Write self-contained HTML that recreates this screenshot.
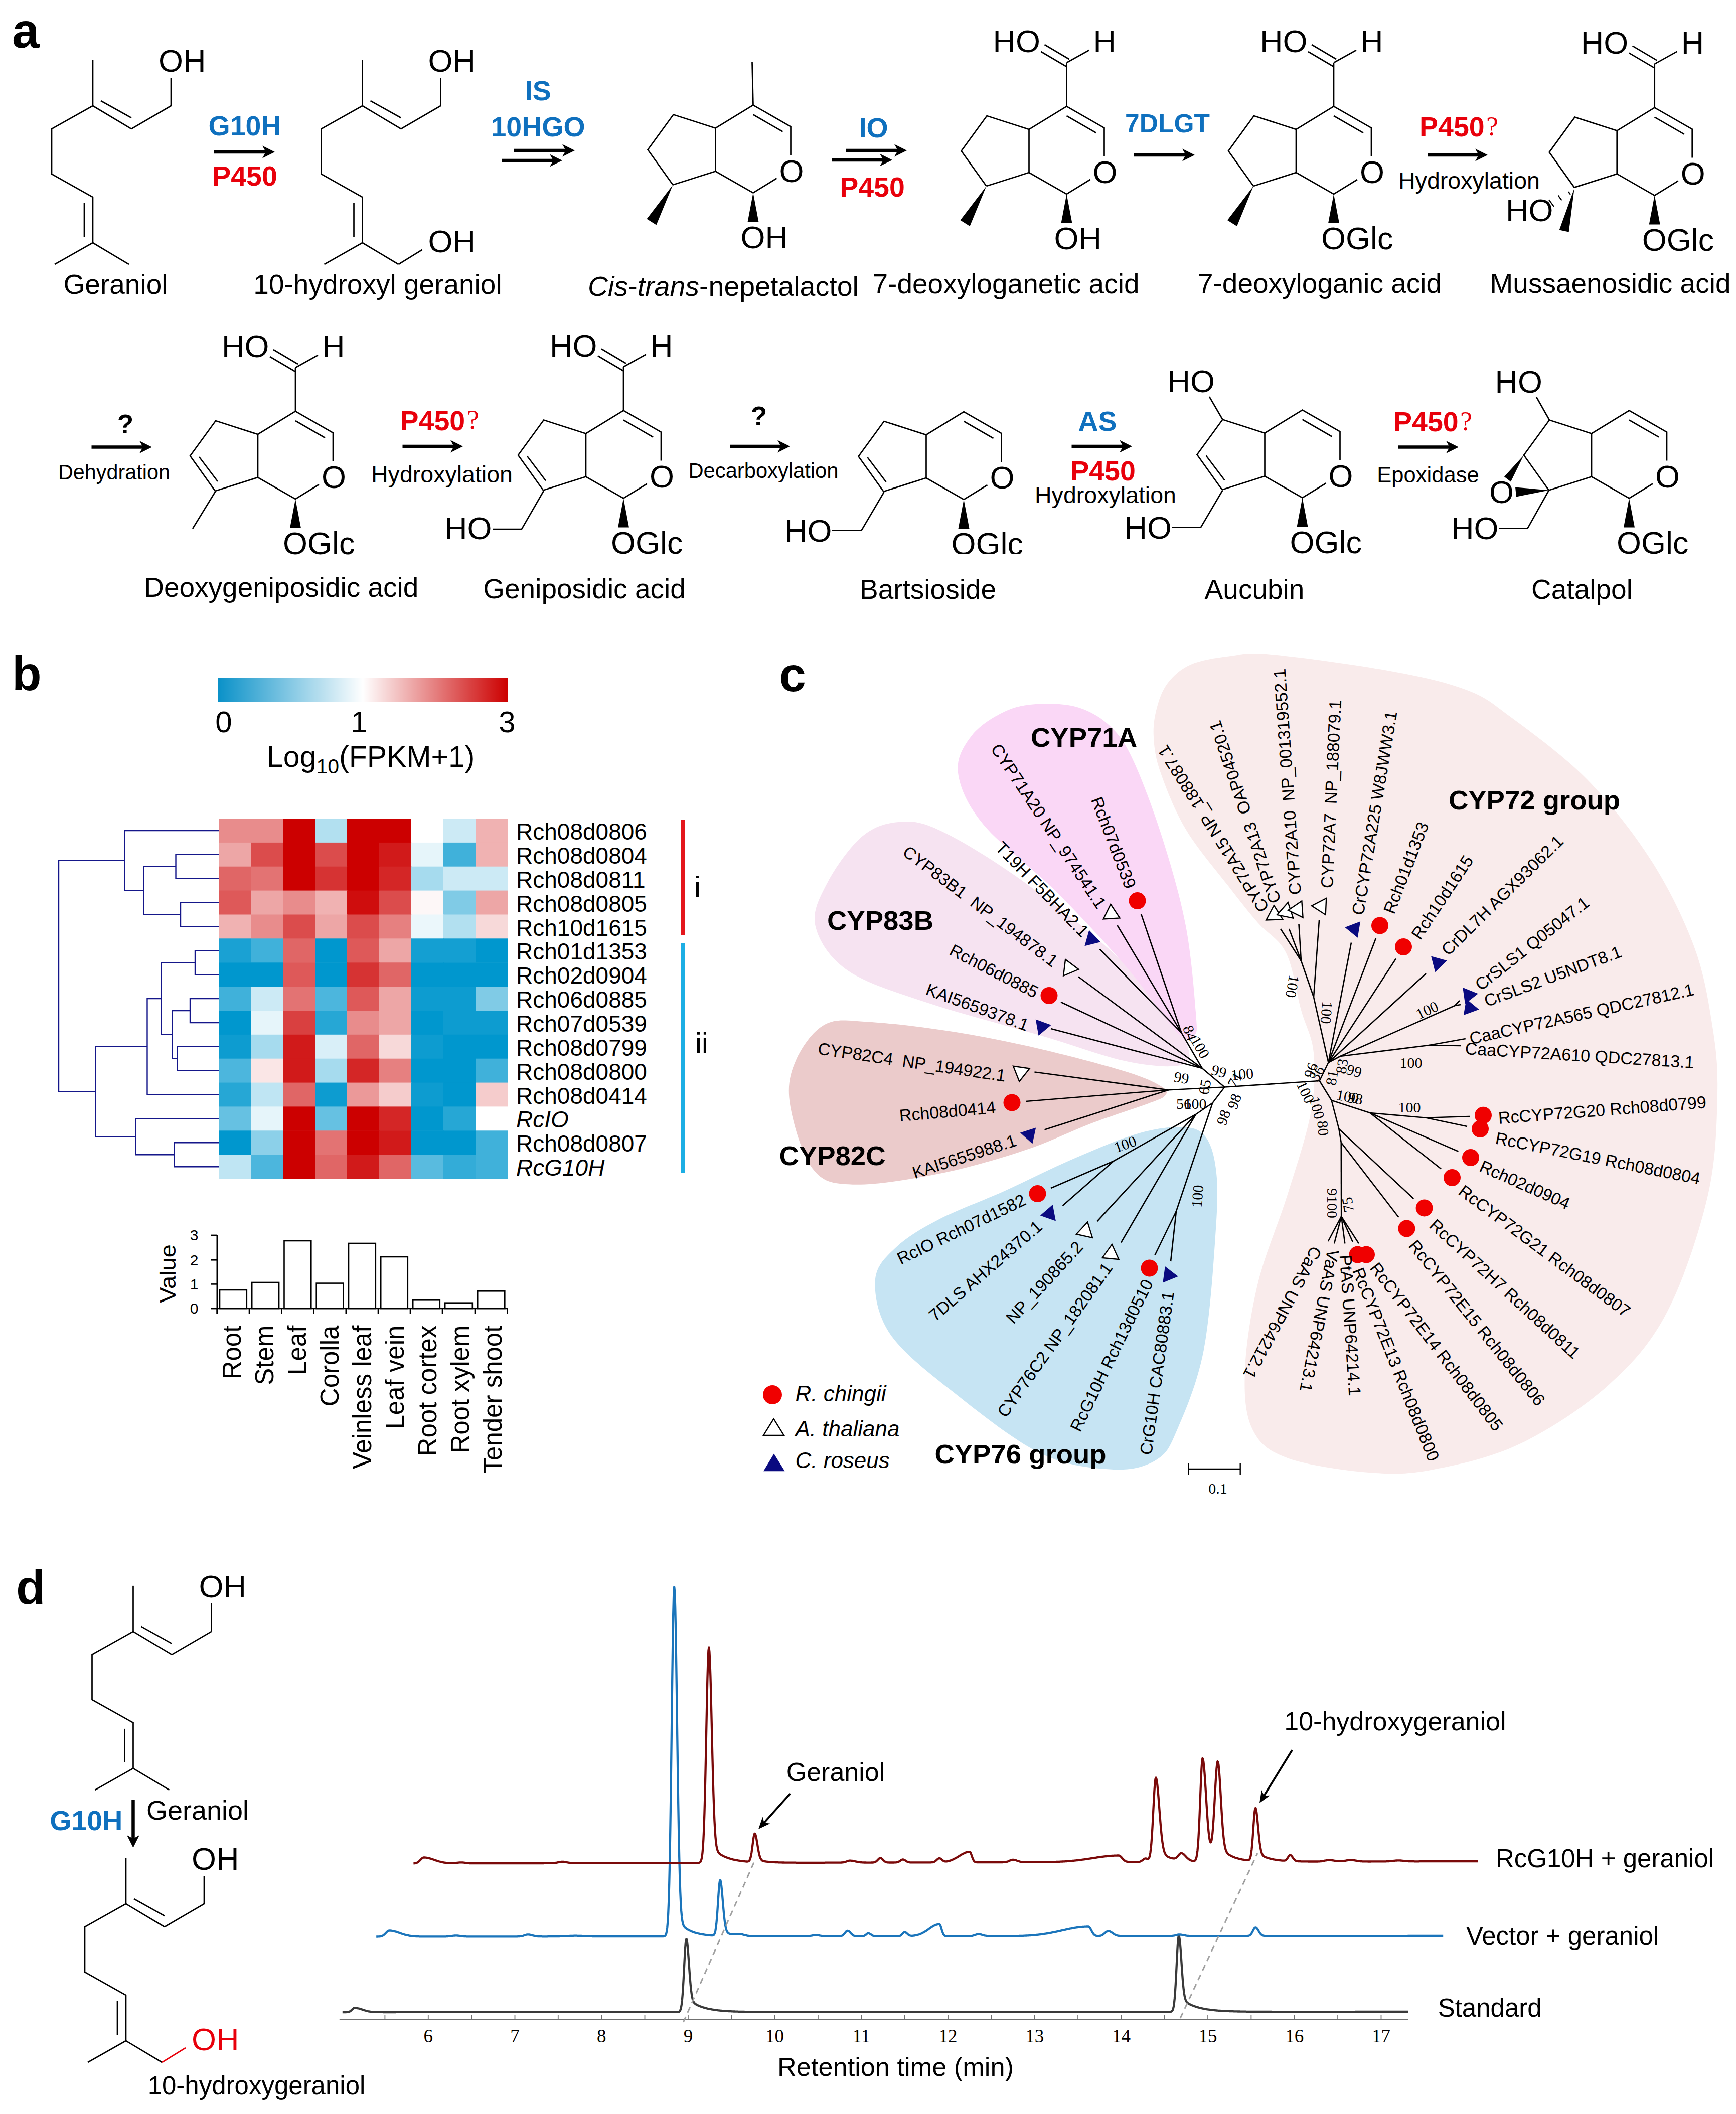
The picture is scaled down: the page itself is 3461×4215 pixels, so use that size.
<!DOCTYPE html>
<html><head><meta charset="utf-8"><title>figure</title>
<style>html,body{margin:0;padding:0;background:#fff;width:3461px;height:4215px;overflow:hidden}
svg{display:block;font-family:"Liberation Sans", sans-serif;-webkit-font-smoothing:antialiased}</style></head>
<body><svg width="3461" height="4215" viewBox="0 0 3461 4215">
<rect width="3461" height="4215" fill="#fff"/>
<text x="24" y="95" font-size="98" font-weight="bold">a</text>
<line x1="185" y1="120" x2="185" y2="211" stroke="#000" stroke-width="2.7"/>
<line x1="185" y1="211" x2="262" y2="257" stroke="#000" stroke-width="2.7"/>
<line x1="201" y1="201" x2="262" y2="235" stroke="#000" stroke-width="2.7"/>
<line x1="262" y1="257" x2="341" y2="211" stroke="#000" stroke-width="2.7"/>
<line x1="341" y1="211" x2="341" y2="155" stroke="#000" stroke-width="2.7"/>
<text x="316" y="143" font-size="63">OH</text>
<polyline points="185,211 103,257 103,347 185,393 185,484" fill="none" stroke="#000" stroke-width="2.7" stroke-linejoin="miter"/>
<line x1="168" y1="405" x2="168" y2="472" stroke="#000" stroke-width="2.7"/>
<line x1="185" y1="484" x2="109" y2="527" stroke="#000" stroke-width="2.7"/>
<line x1="185" y1="484" x2="257" y2="527" stroke="#000" stroke-width="2.7"/>
<text x="230.5" y="586" font-size="55" text-anchor="middle">Geraniol</text>
<text x="488" y="270" font-size="55.5" font-weight="bold" text-anchor="middle" fill="#0F70BE">G10H</text>
<line x1="427" y1="303" x2="533" y2="303" stroke="#000" stroke-width="6.5"/>
<polygon points="548,303 523,290.5 530,303 523,315.5" fill="#000"/>
<text x="488" y="370" font-size="55.5" font-weight="bold" text-anchor="middle" fill="#E8000B">P450</text>
<line x1="722.5" y1="120" x2="722.5" y2="211" stroke="#000" stroke-width="2.7"/>
<line x1="722.5" y1="211" x2="799.5" y2="257" stroke="#000" stroke-width="2.7"/>
<line x1="738.5" y1="201" x2="799.5" y2="235" stroke="#000" stroke-width="2.7"/>
<line x1="799.5" y1="257" x2="878.5" y2="211" stroke="#000" stroke-width="2.7"/>
<line x1="878.5" y1="211" x2="878.5" y2="155" stroke="#000" stroke-width="2.7"/>
<text x="853.5" y="143" font-size="63">OH</text>
<polyline points="722.5,211 640.5,257 640.5,347 722.5,393 722.5,484" fill="none" stroke="#000" stroke-width="2.7" stroke-linejoin="miter"/>
<line x1="705.5" y1="405" x2="705.5" y2="472" stroke="#000" stroke-width="2.7"/>
<line x1="722.5" y1="484" x2="646.5" y2="527" stroke="#000" stroke-width="2.7"/>
<line x1="722.5" y1="484" x2="794.5" y2="527" stroke="#000" stroke-width="2.7"/>
<line x1="794.5" y1="527" x2="841.5" y2="498" stroke="#000" stroke-width="2.7"/>
<text x="853.5" y="503" font-size="63">OH</text>
<text x="753" y="586" font-size="55" text-anchor="middle">10-hydroxyl geraniol</text>
<text x="1072.5" y="200" font-size="55.5" font-weight="bold" text-anchor="middle" fill="#0F70BE">IS</text>
<text x="1072.5" y="272" font-size="55.5" font-weight="bold" text-anchor="middle" fill="#0F70BE">10HGO</text>
<line x1="1025" y1="300" x2="1131" y2="300" stroke="#000" stroke-width="6.5"/>
<polygon points="1146,300 1121,287.5 1128,300 1121,312.5" fill="#000"/>
<line x1="1001" y1="320" x2="1106" y2="320" stroke="#000" stroke-width="6.5"/>
<polygon points="1121,320 1096,307.5 1103,320 1096,332.5" fill="#000"/>
<polyline points="1341.5,368.5 1291.5,298.5 1342.5,228.5 1426.5,255.5 1501.5,209.5 1576.5,252.5 1576.5,309.5" fill="none" stroke="#000" stroke-width="2.7" stroke-linejoin="miter"/>
<line x1="1426.5" y1="255.5" x2="1426.5" y2="341.5" stroke="#000" stroke-width="2.7"/>
<polyline points="1341.5,368.5 1426.5,341.5 1501.5,384.5 1548.5,355.5" fill="none" stroke="#000" stroke-width="2.7" stroke-linejoin="miter"/>
<line x1="1501.5" y1="228.5" x2="1560.5" y2="262.5" stroke="#000" stroke-width="2.7"/>
<text x="1553.5" y="362.5" font-size="63">O</text>
<line x1="1501.5" y1="209.5" x2="1499.5" y2="123.5" stroke="#000" stroke-width="2.7"/>
<polygon points="1501.5,384.5 1490.5,442.5 1512.5,442.5" fill="#000"/>
<text x="1476.5" y="494.5" font-size="63">OH</text>
<polygon points="1341.5,368.5 1289.5,436.5 1308.5,448.5" fill="#000"/>
<text x="1172" y="590" font-size="55.5"><tspan font-style="italic">Cis</tspan>-<tspan font-style="italic">trans</tspan>-nepetalactol</text>
<text x="1741.5" y="274" font-size="55.5" font-weight="bold" text-anchor="middle" fill="#0F70BE">IO</text>
<line x1="1687" y1="300" x2="1793" y2="300" stroke="#000" stroke-width="6.5"/>
<polygon points="1808,300 1783,287.5 1790,300 1783,312.5" fill="#000"/>
<line x1="1658" y1="319" x2="1764" y2="319" stroke="#000" stroke-width="6.5"/>
<polygon points="1779,319 1754,306.5 1761,319 1754,331.5" fill="#000"/>
<text x="1739" y="392" font-size="55.5" font-weight="bold" text-anchor="middle" fill="#E8000B">P450</text>
<polyline points="1966.5,371 1916.5,301 1967.5,231 2051.5,258 2126.5,212 2201.5,255 2201.5,312" fill="none" stroke="#000" stroke-width="2.7" stroke-linejoin="miter"/>
<line x1="2051.5" y1="258" x2="2051.5" y2="344" stroke="#000" stroke-width="2.7"/>
<polyline points="1966.5,371 2051.5,344 2126.5,387 2173.5,358" fill="none" stroke="#000" stroke-width="2.7" stroke-linejoin="miter"/>
<line x1="2126.5" y1="231" x2="2185.5" y2="265" stroke="#000" stroke-width="2.7"/>
<text x="2178.5" y="365" font-size="63">O</text>
<line x1="2126.5" y1="212" x2="2126.5" y2="125" stroke="#000" stroke-width="2.7"/>
<line x1="2126.5" y1="125" x2="2171.5" y2="100" stroke="#000" stroke-width="2.7"/>
<line x1="2075.5" y1="103" x2="2126.5" y2="133" stroke="#000" stroke-width="2.7"/>
<line x1="2082.5" y1="89" x2="2131.5" y2="118" stroke="#000" stroke-width="2.7"/>
<text x="1979.5" y="104" font-size="63">HO</text>
<text x="2179.5" y="104" font-size="63">H</text>
<polygon points="2126.5,387 2115.5,445 2137.5,445" fill="#000"/>
<text x="2101.5" y="497" font-size="63">OH</text>
<polygon points="1966.5,371 1914.5,439 1933.5,451" fill="#000"/>
<text x="2005.5" y="585" font-size="55" text-anchor="middle">7-deoxyloganetic acid</text>
<text x="2327.5" y="263.5" font-size="51.5" font-weight="bold" text-anchor="middle" fill="#0F70BE">7DLGT</text>
<line x1="2261" y1="309" x2="2367" y2="309" stroke="#000" stroke-width="6.5"/>
<polygon points="2382,309 2357,296.5 2364,309 2357,321.5" fill="#000"/>
<polyline points="2499,371 2449,301 2500,231 2584,258 2659,212 2734,255 2734,312" fill="none" stroke="#000" stroke-width="2.7" stroke-linejoin="miter"/>
<line x1="2584" y1="258" x2="2584" y2="344" stroke="#000" stroke-width="2.7"/>
<polyline points="2499,371 2584,344 2659,387 2706,358" fill="none" stroke="#000" stroke-width="2.7" stroke-linejoin="miter"/>
<line x1="2659" y1="231" x2="2718" y2="265" stroke="#000" stroke-width="2.7"/>
<text x="2711" y="365" font-size="63">O</text>
<line x1="2659" y1="212" x2="2659" y2="125" stroke="#000" stroke-width="2.7"/>
<line x1="2659" y1="125" x2="2704" y2="100" stroke="#000" stroke-width="2.7"/>
<line x1="2608" y1="103" x2="2659" y2="133" stroke="#000" stroke-width="2.7"/>
<line x1="2615" y1="89" x2="2664" y2="118" stroke="#000" stroke-width="2.7"/>
<text x="2512" y="104" font-size="63">HO</text>
<text x="2712" y="104" font-size="63">H</text>
<polygon points="2659,387 2648,445 2670,445" fill="#000"/>
<text x="2634" y="497" font-size="63">OGlc</text>
<polygon points="2499,371 2447,439 2466,451" fill="#000"/>
<text x="2631" y="584" font-size="55" text-anchor="middle">7-deoxyloganic acid</text>
<text x="2830" y="272" font-size="55.5" font-weight="bold" fill="#E8000B">P450</text>
<text x="2963" y="270" font-size="54" font-family='"Liberation Serif", serif' fill="#E8000B">?</text>
<line x1="2846" y1="309" x2="2951" y2="309" stroke="#000" stroke-width="6.5"/>
<polygon points="2966,309 2941,296.5 2948,309 2941,321.5" fill="#000"/>
<text x="2929" y="376" font-size="46" text-anchor="middle" textLength="282" lengthAdjust="spacingAndGlyphs">Hydroxylation</text>
<polyline points="3138.7,373.6 3088.7,303.6 3139.7,233.6 3223.7,260.6 3298.7,214.6 3373.7,257.6 3373.7,314.6" fill="none" stroke="#000" stroke-width="2.7" stroke-linejoin="miter"/>
<line x1="3223.7" y1="260.6" x2="3223.7" y2="346.6" stroke="#000" stroke-width="2.7"/>
<polyline points="3138.7,373.6 3223.7,346.6 3298.7,389.6 3345.7,360.6" fill="none" stroke="#000" stroke-width="2.7" stroke-linejoin="miter"/>
<line x1="3298.7" y1="233.6" x2="3357.7" y2="267.6" stroke="#000" stroke-width="2.7"/>
<text x="3350.7" y="367.6" font-size="63">O</text>
<line x1="3298.7" y1="214.6" x2="3298.7" y2="127.6" stroke="#000" stroke-width="2.7"/>
<line x1="3298.7" y1="127.6" x2="3343.7" y2="102.6" stroke="#000" stroke-width="2.7"/>
<line x1="3247.7" y1="105.6" x2="3298.7" y2="135.6" stroke="#000" stroke-width="2.7"/>
<line x1="3254.7" y1="91.6" x2="3303.7" y2="120.6" stroke="#000" stroke-width="2.7"/>
<text x="3151.7" y="106.6" font-size="63">HO</text>
<text x="3351.7" y="106.6" font-size="63">H</text>
<polygon points="3298.7,389.6 3287.7,447.6 3309.7,447.6" fill="#000"/>
<text x="3273.7" y="499.6" font-size="63">OGlc</text>
<polygon points="3138.7,375.6 3108.7,458.6 3127.7,462.6" fill="#000"/>
<line x1="3126.9" y1="382.2" x2="3131.1" y2="387.8" stroke="#000" stroke-width="2.4"/>
<line x1="3106.5" y1="389.6" x2="3113.5" y2="399.4" stroke="#000" stroke-width="2.4"/>
<line x1="3088" y1="398.1" x2="3098" y2="411.9" stroke="#000" stroke-width="2.4"/>
<text x="3002" y="441" font-size="63">HO</text>
<text x="3210.5" y="584" font-size="55" text-anchor="middle">Mussaenosidic acid</text>
<text x="250" y="864" font-size="53" font-weight="bold" text-anchor="middle">?</text>
<line x1="182.5" y1="891.5" x2="288" y2="891.5" stroke="#000" stroke-width="6.5"/>
<polygon points="303,891.5 278,879 285,891.5 278,904" fill="#000"/>
<text x="227.5" y="956" font-size="42" text-anchor="middle" textLength="223" lengthAdjust="spacingAndGlyphs">Dehydration</text>
<polyline points="429,979 379,909 430,839 514,866 589,820 664,863 664,920" fill="none" stroke="#000" stroke-width="2.7" stroke-linejoin="miter"/>
<line x1="514" y1="866" x2="514" y2="952" stroke="#000" stroke-width="2.7"/>
<polyline points="429,979 514,952 589,995 636,966" fill="none" stroke="#000" stroke-width="2.7" stroke-linejoin="miter"/>
<line x1="589" y1="839" x2="648" y2="873" stroke="#000" stroke-width="2.7"/>
<text x="641" y="973" font-size="63">O</text>
<line x1="397" y1="911" x2="434" y2="960" stroke="#000" stroke-width="2.7"/>
<line x1="589" y1="820" x2="589" y2="733" stroke="#000" stroke-width="2.7"/>
<line x1="589" y1="733" x2="634" y2="708" stroke="#000" stroke-width="2.7"/>
<line x1="538" y1="711" x2="589" y2="741" stroke="#000" stroke-width="2.7"/>
<line x1="545" y1="697" x2="594" y2="726" stroke="#000" stroke-width="2.7"/>
<text x="442" y="712" font-size="63">HO</text>
<text x="642" y="712" font-size="63">H</text>
<polygon points="589,995 578,1053 600,1053" fill="#000"/>
<text x="564" y="1105" font-size="63">OGlc</text>
<line x1="430" y1="979" x2="384" y2="1054" stroke="#000" stroke-width="2.7"/>
<text x="560.8" y="1190" font-size="55" text-anchor="middle">Deoxygeniposidic acid</text>
<text x="797.5" y="857.5" font-size="55.5" font-weight="bold" fill="#E8000B">P450</text>
<text x="931" y="855" font-size="54" font-family='"Liberation Serif", serif' fill="#E8000B">?</text>
<line x1="802.5" y1="890" x2="908" y2="890" stroke="#000" stroke-width="6.5"/>
<polygon points="923,890 898,877.5 905,890 898,902.5" fill="#000"/>
<text x="881" y="961.5" font-size="46" text-anchor="middle" textLength="282" lengthAdjust="spacingAndGlyphs">Hydroxylation</text>
<polyline points="1083,977.5 1033,907.5 1084,837.5 1168,864.5 1243,818.5 1318,861.5 1318,918.5" fill="none" stroke="#000" stroke-width="2.7" stroke-linejoin="miter"/>
<line x1="1168" y1="864.5" x2="1168" y2="950.5" stroke="#000" stroke-width="2.7"/>
<polyline points="1083,977.5 1168,950.5 1243,993.5 1290,964.5" fill="none" stroke="#000" stroke-width="2.7" stroke-linejoin="miter"/>
<line x1="1243" y1="837.5" x2="1302" y2="871.5" stroke="#000" stroke-width="2.7"/>
<text x="1295" y="971.5" font-size="63">O</text>
<line x1="1051" y1="909.5" x2="1088" y2="958.5" stroke="#000" stroke-width="2.7"/>
<line x1="1243" y1="818.5" x2="1243" y2="731.5" stroke="#000" stroke-width="2.7"/>
<line x1="1243" y1="731.5" x2="1288" y2="706.5" stroke="#000" stroke-width="2.7"/>
<line x1="1192" y1="709.5" x2="1243" y2="739.5" stroke="#000" stroke-width="2.7"/>
<line x1="1199" y1="695.5" x2="1248" y2="724.5" stroke="#000" stroke-width="2.7"/>
<text x="1096" y="710.5" font-size="63">HO</text>
<text x="1296" y="710.5" font-size="63">H</text>
<polygon points="1243,993.5 1232,1051.5 1254,1051.5" fill="#000"/>
<text x="1218" y="1103.5" font-size="63">OGlc</text>
<polyline points="1084,978.5 1040,1055 982.5,1055" fill="none" stroke="#000" stroke-width="2.7" stroke-linejoin="miter"/>
<text x="886" y="1075" font-size="63">HO</text>
<text x="1165" y="1192.5" font-size="55" text-anchor="middle">Geniposidic acid</text>
<text x="1513" y="847.5" font-size="53" font-weight="bold" text-anchor="middle">?</text>
<line x1="1455" y1="890" x2="1560" y2="890" stroke="#000" stroke-width="6.5"/>
<polygon points="1575,890 1550,877.5 1557,890 1550,902.5" fill="#000"/>
<text x="1522" y="952.5" font-size="42" text-anchor="middle" textLength="299" lengthAdjust="spacingAndGlyphs">Decarboxylation</text>
<polyline points="1761.5,980 1711.5,910 1762.5,840 1846.5,867 1921.5,821 1996.5,864 1996.5,921" fill="none" stroke="#000" stroke-width="2.7" stroke-linejoin="miter"/>
<line x1="1846.5" y1="867" x2="1846.5" y2="953" stroke="#000" stroke-width="2.7"/>
<polyline points="1761.5,980 1846.5,953 1921.5,996 1968.5,967" fill="none" stroke="#000" stroke-width="2.7" stroke-linejoin="miter"/>
<line x1="1921.5" y1="840" x2="1980.5" y2="874" stroke="#000" stroke-width="2.7"/>
<text x="1973.5" y="974" font-size="63">O</text>
<line x1="1729.5" y1="912" x2="1766.5" y2="961" stroke="#000" stroke-width="2.7"/>
<polygon points="1921.5,996 1910.5,1054 1932.5,1054" fill="#000"/>
<text x="1896.5" y="1106" font-size="63">OGlc</text>
<polyline points="1762.5,981 1717.5,1057.5 1659,1057.5" fill="none" stroke="#000" stroke-width="2.7" stroke-linejoin="miter"/>
<text x="1564" y="1080" font-size="63">HO</text>
<text x="1850" y="1193.5" font-size="55" text-anchor="middle">Bartsioside</text>
<text x="2188" y="858.5" font-size="55.5" font-weight="bold" text-anchor="middle" fill="#0F70BE">AS</text>
<line x1="2136.5" y1="890" x2="2242" y2="890" stroke="#000" stroke-width="6.5"/>
<polygon points="2257,890 2232,877.5 2239,890 2232,902.5" fill="#000"/>
<text x="2199" y="957.5" font-size="55.5" font-weight="bold" text-anchor="middle" fill="#E8000B">P450</text>
<text x="2204" y="1002.5" font-size="46" text-anchor="middle" textLength="282" lengthAdjust="spacingAndGlyphs">Hydroxylation</text>
<polyline points="2436.5,976.5 2386.5,906.5 2437.5,836.5 2521.5,863.5 2596.5,817.5 2671.5,860.5 2671.5,917.5" fill="none" stroke="#000" stroke-width="2.7" stroke-linejoin="miter"/>
<line x1="2521.5" y1="863.5" x2="2521.5" y2="949.5" stroke="#000" stroke-width="2.7"/>
<polyline points="2436.5,976.5 2521.5,949.5 2596.5,992.5 2643.5,963.5" fill="none" stroke="#000" stroke-width="2.7" stroke-linejoin="miter"/>
<line x1="2596.5" y1="836.5" x2="2655.5" y2="870.5" stroke="#000" stroke-width="2.7"/>
<text x="2648.5" y="970.5" font-size="63">O</text>
<line x1="2404.5" y1="908.5" x2="2441.5" y2="957.5" stroke="#000" stroke-width="2.7"/>
<polygon points="2596.5,992.5 2585.5,1050.5 2607.5,1050.5" fill="#000"/>
<text x="2571.5" y="1102.5" font-size="63">OGlc</text>
<line x1="2437.5" y1="836.5" x2="2411" y2="791" stroke="#000" stroke-width="2.7"/>
<text x="2327.5" y="781.5" font-size="63">HO</text>
<polyline points="2437.5,977.5 2394,1051.5 2336,1051.5" fill="none" stroke="#000" stroke-width="2.7" stroke-linejoin="miter"/>
<text x="2241.5" y="1074" font-size="63">HO</text>
<text x="2501" y="1193.5" font-size="55" text-anchor="middle">Aucubin</text>
<text x="2778" y="860" font-size="55.5" font-weight="bold" fill="#E8000B">P450</text>
<text x="2911" y="858" font-size="54" font-family='"Liberation Serif", serif' fill="#E8000B">?</text>
<line x1="2788" y1="891.5" x2="2893" y2="891.5" stroke="#000" stroke-width="6.5"/>
<polygon points="2908,891.5 2883,879 2890,891.5 2883,904" fill="#000"/>
<text x="2847" y="961.5" font-size="44" text-anchor="middle" textLength="203.5" lengthAdjust="spacingAndGlyphs">Epoxidase</text>
<polyline points="3088,977.5 3038,907.5 3089,837.5 3173,864.5 3248,818.5 3323,861.5 3323,918.5" fill="none" stroke="#000" stroke-width="2.7" stroke-linejoin="miter"/>
<line x1="3173" y1="864.5" x2="3173" y2="950.5" stroke="#000" stroke-width="2.7"/>
<polyline points="3088,977.5 3173,950.5 3248,993.5 3295,964.5" fill="none" stroke="#000" stroke-width="2.7" stroke-linejoin="miter"/>
<line x1="3248" y1="837.5" x2="3307" y2="871.5" stroke="#000" stroke-width="2.7"/>
<text x="3300" y="971.5" font-size="63">O</text>
<polygon points="3248,993.5 3237,1051.5 3259,1051.5" fill="#000"/>
<text x="3223" y="1103.5" font-size="63">OGlc</text>
<line x1="3089" y1="837.5" x2="3063" y2="791.5" stroke="#000" stroke-width="2.7"/>
<text x="2980.5" y="783" font-size="63">HO</text>
<polyline points="3088,977.5 3045.5,1053.5 2988,1053.5" fill="none" stroke="#000" stroke-width="2.7" stroke-linejoin="miter"/>
<text x="2893" y="1074.5" font-size="63">HO</text>
<polygon points="3038,907.5 2999,950.5 3012,960.5" fill="#000"/>
<polygon points="3088,977.5 3021,971.5 3023,990.5" fill="#000"/>
<text x="2969" y="1003" font-size="63">O</text>
<text x="3154" y="1193.5" font-size="55" text-anchor="middle">Catalpol</text>
<rect x="1880" y="1104" width="170" height="14" fill="#fff"/>
<text x="24" y="1376" font-size="96" font-weight="bold">b</text>
<defs><linearGradient id="cb" x1="0" x2="1" y1="0" y2="0"><stop offset="0" stop-color="#0A91C8"/><stop offset="0.5" stop-color="#FFFFFF"/><stop offset="1" stop-color="#CC0000"/></linearGradient></defs>
<rect x="435" y="1352" width="577" height="47" fill="url(#cb)"/>
<text x="446" y="1459.6" font-size="60" text-anchor="middle">0</text>
<text x="716" y="1459.6" font-size="60" text-anchor="middle">1</text>
<text x="1011" y="1459.6" font-size="60" text-anchor="middle">3</text>
<text x="532" y="1529" font-size="59">Log<tspan font-size="41" dy="13">10</tspan><tspan dy="-13">(FPKM+1)</tspan></text>
<rect x="436" y="1632" width="64.6" height="48.5" fill="#E88C8C"/>
<rect x="500" y="1632" width="64.6" height="48.5" fill="#E88C8C"/>
<rect x="564" y="1632" width="64.6" height="48.5" fill="#CC0000"/>
<rect x="628" y="1632" width="64.6" height="48.5" fill="#B2E0F0"/>
<rect x="692" y="1632" width="64.6" height="48.5" fill="#CC0000"/>
<rect x="756" y="1632" width="64.6" height="48.5" fill="#CC0000"/>
<rect x="820" y="1632" width="64.6" height="48.5" fill="#FFFFFF"/>
<rect x="884" y="1632" width="64.6" height="48.5" fill="#CCEAF5"/>
<rect x="948" y="1632" width="64.6" height="48.5" fill="#F0B2B2"/>
<rect x="436" y="1679.9" width="64.6" height="48.5" fill="#EDA6A6"/>
<rect x="500" y="1679.9" width="64.6" height="48.5" fill="#DB4C4C"/>
<rect x="564" y="1679.9" width="64.6" height="48.5" fill="#CC0000"/>
<rect x="628" y="1679.9" width="64.6" height="48.5" fill="#DB4C4C"/>
<rect x="692" y="1679.9" width="64.6" height="48.5" fill="#CC0000"/>
<rect x="756" y="1679.9" width="64.6" height="48.5" fill="#D11A1A"/>
<rect x="820" y="1679.9" width="64.6" height="48.5" fill="#E6F5FA"/>
<rect x="884" y="1679.9" width="64.6" height="48.5" fill="#40B1DA"/>
<rect x="948" y="1679.9" width="64.6" height="48.5" fill="#F0B2B2"/>
<rect x="436" y="1727.7" width="64.6" height="48.5" fill="#E06666"/>
<rect x="500" y="1727.7" width="64.6" height="48.5" fill="#E37373"/>
<rect x="564" y="1727.7" width="64.6" height="48.5" fill="#CC0000"/>
<rect x="628" y="1727.7" width="64.6" height="48.5" fill="#D63333"/>
<rect x="692" y="1727.7" width="64.6" height="48.5" fill="#CC0000"/>
<rect x="756" y="1727.7" width="64.6" height="48.5" fill="#D42626"/>
<rect x="820" y="1727.7" width="64.6" height="48.5" fill="#A6DBEE"/>
<rect x="884" y="1727.7" width="64.6" height="48.5" fill="#CCEAF5"/>
<rect x="948" y="1727.7" width="64.6" height="48.5" fill="#CCEAF5"/>
<rect x="436" y="1775.6" width="64.6" height="48.5" fill="#DE5959"/>
<rect x="500" y="1775.6" width="64.6" height="48.5" fill="#EDA6A6"/>
<rect x="564" y="1775.6" width="64.6" height="48.5" fill="#E88C8C"/>
<rect x="628" y="1775.6" width="64.6" height="48.5" fill="#F0B2B2"/>
<rect x="692" y="1775.6" width="64.6" height="48.5" fill="#CF0D0D"/>
<rect x="756" y="1775.6" width="64.6" height="48.5" fill="#DB4C4C"/>
<rect x="820" y="1775.6" width="64.6" height="48.5" fill="#FDF7F7"/>
<rect x="884" y="1775.6" width="64.6" height="48.5" fill="#80CBE6"/>
<rect x="948" y="1775.6" width="64.6" height="48.5" fill="#EDA6A6"/>
<rect x="436" y="1823.5" width="64.6" height="48.5" fill="#F0B2B2"/>
<rect x="500" y="1823.5" width="64.6" height="48.5" fill="#E88C8C"/>
<rect x="564" y="1823.5" width="64.6" height="48.5" fill="#DB4C4C"/>
<rect x="628" y="1823.5" width="64.6" height="48.5" fill="#EDA6A6"/>
<rect x="692" y="1823.5" width="64.6" height="48.5" fill="#DB4C4C"/>
<rect x="756" y="1823.5" width="64.6" height="48.5" fill="#E68080"/>
<rect x="820" y="1823.5" width="64.6" height="48.5" fill="#EBF7FB"/>
<rect x="884" y="1823.5" width="64.6" height="48.5" fill="#B2E0F0"/>
<rect x="948" y="1823.5" width="64.6" height="48.5" fill="#F7D9D9"/>
<rect x="436" y="1871.3" width="64.6" height="48.5" fill="#1AA1D3"/>
<rect x="500" y="1871.3" width="64.6" height="48.5" fill="#40B1DA"/>
<rect x="564" y="1871.3" width="64.6" height="48.5" fill="#E06666"/>
<rect x="628" y="1871.3" width="64.6" height="48.5" fill="#0097CE"/>
<rect x="692" y="1871.3" width="64.6" height="48.5" fill="#DE5959"/>
<rect x="756" y="1871.3" width="64.6" height="48.5" fill="#EDA6A6"/>
<rect x="820" y="1871.3" width="64.6" height="48.5" fill="#149FD2"/>
<rect x="884" y="1871.3" width="64.6" height="48.5" fill="#149FD2"/>
<rect x="948" y="1871.3" width="64.6" height="48.5" fill="#0097CE"/>
<rect x="436" y="1919.2" width="64.6" height="48.5" fill="#0097CE"/>
<rect x="500" y="1919.2" width="64.6" height="48.5" fill="#0097CE"/>
<rect x="564" y="1919.2" width="64.6" height="48.5" fill="#DE5959"/>
<rect x="628" y="1919.2" width="64.6" height="48.5" fill="#0097CE"/>
<rect x="692" y="1919.2" width="64.6" height="48.5" fill="#D63333"/>
<rect x="756" y="1919.2" width="64.6" height="48.5" fill="#E06666"/>
<rect x="820" y="1919.2" width="64.6" height="48.5" fill="#0097CE"/>
<rect x="884" y="1919.2" width="64.6" height="48.5" fill="#0097CE"/>
<rect x="948" y="1919.2" width="64.6" height="48.5" fill="#0097CE"/>
<rect x="436" y="1967.1" width="64.6" height="48.5" fill="#40B1DA"/>
<rect x="500" y="1967.1" width="64.6" height="48.5" fill="#CCEAF5"/>
<rect x="564" y="1967.1" width="64.6" height="48.5" fill="#E37373"/>
<rect x="628" y="1967.1" width="64.6" height="48.5" fill="#4CB6DD"/>
<rect x="692" y="1967.1" width="64.6" height="48.5" fill="#DE5959"/>
<rect x="756" y="1967.1" width="64.6" height="48.5" fill="#EDA6A6"/>
<rect x="820" y="1967.1" width="64.6" height="48.5" fill="#0D9CD0"/>
<rect x="884" y="1967.1" width="64.6" height="48.5" fill="#0D9CD0"/>
<rect x="948" y="1967.1" width="64.6" height="48.5" fill="#80CBE6"/>
<rect x="436" y="2015" width="64.6" height="48.5" fill="#0097CE"/>
<rect x="500" y="2015" width="64.6" height="48.5" fill="#E6F5FA"/>
<rect x="564" y="2015" width="64.6" height="48.5" fill="#D94040"/>
<rect x="628" y="2015" width="64.6" height="48.5" fill="#26A7D5"/>
<rect x="692" y="2015" width="64.6" height="48.5" fill="#E88C8C"/>
<rect x="756" y="2015" width="64.6" height="48.5" fill="#EDA6A6"/>
<rect x="820" y="2015" width="64.6" height="48.5" fill="#0097CE"/>
<rect x="884" y="2015" width="64.6" height="48.5" fill="#0D9CD0"/>
<rect x="948" y="2015" width="64.6" height="48.5" fill="#0D9CD0"/>
<rect x="436" y="2062.8" width="64.6" height="48.5" fill="#0D9CD0"/>
<rect x="500" y="2062.8" width="64.6" height="48.5" fill="#A6DBEE"/>
<rect x="564" y="2062.8" width="64.6" height="48.5" fill="#D11A1A"/>
<rect x="628" y="2062.8" width="64.6" height="48.5" fill="#D9EFF8"/>
<rect x="692" y="2062.8" width="64.6" height="48.5" fill="#E06666"/>
<rect x="756" y="2062.8" width="64.6" height="48.5" fill="#F7D9D9"/>
<rect x="820" y="2062.8" width="64.6" height="48.5" fill="#0D9CD0"/>
<rect x="884" y="2062.8" width="64.6" height="48.5" fill="#0097CE"/>
<rect x="948" y="2062.8" width="64.6" height="48.5" fill="#0097CE"/>
<rect x="436" y="2110.7" width="64.6" height="48.5" fill="#4CB6DD"/>
<rect x="500" y="2110.7" width="64.6" height="48.5" fill="#FAE6E6"/>
<rect x="564" y="2110.7" width="64.6" height="48.5" fill="#D11A1A"/>
<rect x="628" y="2110.7" width="64.6" height="48.5" fill="#A6DBEE"/>
<rect x="692" y="2110.7" width="64.6" height="48.5" fill="#D42626"/>
<rect x="756" y="2110.7" width="64.6" height="48.5" fill="#E68080"/>
<rect x="820" y="2110.7" width="64.6" height="48.5" fill="#0097CE"/>
<rect x="884" y="2110.7" width="64.6" height="48.5" fill="#0097CE"/>
<rect x="948" y="2110.7" width="64.6" height="48.5" fill="#40B1DA"/>
<rect x="436" y="2158.6" width="64.6" height="48.5" fill="#26A7D5"/>
<rect x="500" y="2158.6" width="64.6" height="48.5" fill="#BFE5F3"/>
<rect x="564" y="2158.6" width="64.6" height="48.5" fill="#E06666"/>
<rect x="628" y="2158.6" width="64.6" height="48.5" fill="#0D9CD0"/>
<rect x="692" y="2158.6" width="64.6" height="48.5" fill="#EB9999"/>
<rect x="756" y="2158.6" width="64.6" height="48.5" fill="#F5CCCC"/>
<rect x="820" y="2158.6" width="64.6" height="48.5" fill="#0D9CD0"/>
<rect x="884" y="2158.6" width="64.6" height="48.5" fill="#0097CE"/>
<rect x="948" y="2158.6" width="64.6" height="48.5" fill="#F5CCCC"/>
<rect x="436" y="2206.4" width="64.6" height="48.5" fill="#66C1E2"/>
<rect x="500" y="2206.4" width="64.6" height="48.5" fill="#E6F5FA"/>
<rect x="564" y="2206.4" width="64.6" height="48.5" fill="#CC0000"/>
<rect x="628" y="2206.4" width="64.6" height="48.5" fill="#66C1E2"/>
<rect x="692" y="2206.4" width="64.6" height="48.5" fill="#CC0000"/>
<rect x="756" y="2206.4" width="64.6" height="48.5" fill="#D42626"/>
<rect x="820" y="2206.4" width="64.6" height="48.5" fill="#0097CE"/>
<rect x="884" y="2206.4" width="64.6" height="48.5" fill="#26A7D5"/>
<rect x="948" y="2206.4" width="64.6" height="48.5" fill="#FFFFFF"/>
<rect x="436" y="2254.3" width="64.6" height="48.5" fill="#0097CE"/>
<rect x="500" y="2254.3" width="64.6" height="48.5" fill="#8CD0E9"/>
<rect x="564" y="2254.3" width="64.6" height="48.5" fill="#CC0000"/>
<rect x="628" y="2254.3" width="64.6" height="48.5" fill="#E37373"/>
<rect x="692" y="2254.3" width="64.6" height="48.5" fill="#CC0000"/>
<rect x="756" y="2254.3" width="64.6" height="48.5" fill="#D11A1A"/>
<rect x="820" y="2254.3" width="64.6" height="48.5" fill="#0097CE"/>
<rect x="884" y="2254.3" width="64.6" height="48.5" fill="#0097CE"/>
<rect x="948" y="2254.3" width="64.6" height="48.5" fill="#40B1DA"/>
<rect x="436" y="2302.2" width="64.6" height="48.5" fill="#BFE5F3"/>
<rect x="500" y="2302.2" width="64.6" height="48.5" fill="#4CB6DD"/>
<rect x="564" y="2302.2" width="64.6" height="48.5" fill="#CC0000"/>
<rect x="628" y="2302.2" width="64.6" height="48.5" fill="#E06666"/>
<rect x="692" y="2302.2" width="64.6" height="48.5" fill="#D11A1A"/>
<rect x="756" y="2302.2" width="64.6" height="48.5" fill="#E06666"/>
<rect x="820" y="2302.2" width="64.6" height="48.5" fill="#59BBDF"/>
<rect x="884" y="2302.2" width="64.6" height="48.5" fill="#33ACD8"/>
<rect x="948" y="2302.2" width="64.6" height="48.5" fill="#40B1DA"/>
<text x="1029" y="1674" font-size="46">Rch08d0806</text>
<text x="1029" y="1721.9" font-size="46">Rch08d0804</text>
<text x="1029" y="1769.7" font-size="46">Rch08d0811</text>
<text x="1029" y="1817.6" font-size="46">Rch08d0805</text>
<text x="1029" y="1865.5" font-size="46">Rch10d1615</text>
<text x="1029" y="1913.3" font-size="46">Rch01d1353</text>
<text x="1029" y="1961.2" font-size="46">Rch02d0904</text>
<text x="1029" y="2009.1" font-size="46">Rch06d0885</text>
<text x="1029" y="2057" font-size="46">Rch07d0539</text>
<text x="1029" y="2104.8" font-size="46">Rch08d0799</text>
<text x="1029" y="2152.7" font-size="46">Rch08d0800</text>
<text x="1029" y="2200.6" font-size="46">Rch08d0414</text>
<text x="1029" y="2248.4" font-size="46" font-style="italic">RcIO</text>
<text x="1029" y="2296.3" font-size="46">Rch08d0807</text>
<text x="1029" y="2344.2" font-size="46" font-style="italic">RcG10H</text>
<rect x="1358" y="1634" width="8" height="230" fill="#E4161C"/>
<rect x="1358" y="1880" width="8" height="459" fill="#1CAEE4"/>
<text x="1384" y="1787.5" font-size="58">i</text>
<text x="1386" y="2100" font-size="58">ii</text>
<polyline points="436,1703.9 350.5,1703.9 350.5,1751.7 436,1751.7" fill="none" stroke="#15178A" stroke-width="2.4" stroke-linejoin="miter"/>
<polyline points="436,1799.6 360,1799.6 360,1847.5 436,1847.5" fill="none" stroke="#15178A" stroke-width="2.4" stroke-linejoin="miter"/>
<polyline points="350.5,1727.8 286.5,1727.8 286.5,1823.5 360,1823.5" fill="none" stroke="#15178A" stroke-width="2.4" stroke-linejoin="miter"/>
<polyline points="436,1656 248.5,1656 248.5,1775.7 286.5,1775.7" fill="none" stroke="#15178A" stroke-width="2.4" stroke-linejoin="miter"/>
<polyline points="436,1895.3 389,1895.3 389,1943.2 436,1943.2" fill="none" stroke="#15178A" stroke-width="2.4" stroke-linejoin="miter"/>
<polyline points="436,1991.1 379,1991.1 379,2039 436,2039" fill="none" stroke="#15178A" stroke-width="2.4" stroke-linejoin="miter"/>
<polyline points="436,2086.8 353.5,2086.8 353.5,2134.7 436,2134.7" fill="none" stroke="#15178A" stroke-width="2.4" stroke-linejoin="miter"/>
<polyline points="379,2015 343.5,2015 343.5,2110.8 353.5,2110.8" fill="none" stroke="#15178A" stroke-width="2.4" stroke-linejoin="miter"/>
<polyline points="389,1919.3 321.5,1919.3 321.5,2062.9 343.5,2062.9" fill="none" stroke="#15178A" stroke-width="2.4" stroke-linejoin="miter"/>
<polyline points="321.5,1991.1 293.5,1991.1 293.5,2182.6 436,2182.6" fill="none" stroke="#15178A" stroke-width="2.4" stroke-linejoin="miter"/>
<polyline points="436,2278.3 347.5,2278.3 347.5,2326.2 436,2326.2" fill="none" stroke="#15178A" stroke-width="2.4" stroke-linejoin="miter"/>
<polyline points="436,2230.4 270.5,2230.4 270.5,2302.2 347.5,2302.2" fill="none" stroke="#15178A" stroke-width="2.4" stroke-linejoin="miter"/>
<polyline points="293.5,2086.8 190.5,2086.8 190.5,2266.3 270.5,2266.3" fill="none" stroke="#15178A" stroke-width="2.4" stroke-linejoin="miter"/>
<polyline points="248.5,1715.8 117,1715.8 117,2176.6 190.5,2176.6" fill="none" stroke="#15178A" stroke-width="2.4" stroke-linejoin="miter"/>
<line x1="432.8" y1="2462.9" x2="432.8" y2="2620" stroke="#000" stroke-width="2.6"/>
<line x1="420.6" y1="2462.9" x2="432.8" y2="2462.9" stroke="#000" stroke-width="2.6"/>
<text x="387" y="2473.4" font-size="30" text-anchor="middle">3</text>
<line x1="420.6" y1="2512.3" x2="432.8" y2="2512.3" stroke="#000" stroke-width="2.6"/>
<text x="387" y="2522.8" font-size="30" text-anchor="middle">2</text>
<line x1="420.6" y1="2560.4" x2="432.8" y2="2560.4" stroke="#000" stroke-width="2.6"/>
<text x="387" y="2570.9" font-size="30" text-anchor="middle">1</text>
<line x1="420.6" y1="2608.9" x2="432.8" y2="2608.9" stroke="#000" stroke-width="2.6"/>
<text x="387" y="2619.4" font-size="30" text-anchor="middle">0</text>
<line x1="420.6" y1="2609" x2="1012.4" y2="2609" stroke="#000" stroke-width="2.6"/>
<line x1="432.8" y1="2609" x2="432.8" y2="2620" stroke="#000" stroke-width="2.6"/>
<line x1="497" y1="2609" x2="497" y2="2620" stroke="#000" stroke-width="2.6"/>
<line x1="561.3" y1="2609" x2="561.3" y2="2620" stroke="#000" stroke-width="2.6"/>
<line x1="625.5" y1="2609" x2="625.5" y2="2620" stroke="#000" stroke-width="2.6"/>
<line x1="689.8" y1="2609" x2="689.8" y2="2620" stroke="#000" stroke-width="2.6"/>
<line x1="754" y1="2609" x2="754" y2="2620" stroke="#000" stroke-width="2.6"/>
<line x1="818" y1="2609" x2="818" y2="2620" stroke="#000" stroke-width="2.6"/>
<line x1="882" y1="2609" x2="882" y2="2620" stroke="#000" stroke-width="2.6"/>
<line x1="947" y1="2609" x2="947" y2="2620" stroke="#000" stroke-width="2.6"/>
<line x1="1011.5" y1="2609" x2="1011.5" y2="2620" stroke="#000" stroke-width="2.6"/>
<rect x="438" y="2572" width="53.8" height="37" fill="none" stroke="#000" stroke-width="2.6"/>
<rect x="502.2" y="2557" width="53.9" height="52" fill="none" stroke="#000" stroke-width="2.6"/>
<rect x="566.5" y="2474" width="53.8" height="135" fill="none" stroke="#000" stroke-width="2.6"/>
<rect x="630.7" y="2558.6" width="53.9" height="50.4" fill="none" stroke="#000" stroke-width="2.6"/>
<rect x="695" y="2479" width="53.8" height="130" fill="none" stroke="#000" stroke-width="2.6"/>
<rect x="759.2" y="2506" width="53.6" height="103" fill="none" stroke="#000" stroke-width="2.6"/>
<rect x="823.2" y="2592.3" width="53.6" height="16.7" fill="none" stroke="#000" stroke-width="2.6"/>
<rect x="887.2" y="2597.7" width="54.6" height="11.3" fill="none" stroke="#000" stroke-width="2.6"/>
<rect x="952.2" y="2574.3" width="54.1" height="34.7" fill="none" stroke="#000" stroke-width="2.6"/>
<text x="350" y="2539.5" font-size="45" text-anchor="middle" transform="rotate(-90 350 2539.5)" textLength="117" lengthAdjust="spacingAndGlyphs">Value</text>
<text x="480" y="2642.6" font-size="51" text-anchor="end" transform="rotate(-90 480 2642.6)">Root</text>
<text x="545" y="2642.6" font-size="51" text-anchor="end" transform="rotate(-90 545 2642.6)">Stem</text>
<text x="610" y="2642.6" font-size="51" text-anchor="end" transform="rotate(-90 610 2642.6)">Leaf</text>
<text x="675" y="2642.6" font-size="51" text-anchor="end" transform="rotate(-90 675 2642.6)">Corolla</text>
<text x="740" y="2642.6" font-size="51" text-anchor="end" transform="rotate(-90 740 2642.6)">Veinless leaf</text>
<text x="805" y="2642.6" font-size="51" text-anchor="end" transform="rotate(-90 805 2642.6)">Leaf vein</text>
<text x="870" y="2642.6" font-size="51" text-anchor="end" transform="rotate(-90 870 2642.6)">Root cortex</text>
<text x="935" y="2642.6" font-size="51" text-anchor="end" transform="rotate(-90 935 2642.6)">Root xylem</text>
<text x="1000" y="2642.6" font-size="51" text-anchor="end" transform="rotate(-90 1000 2642.6)">Tender shoot</text>
<text x="1553.5" y="1377.5" font-size="96" font-weight="bold">c</text>
<path d="M2300,1470 C2298.7,1448.7 2301.3,1431 2306,1413 C2310.7,1395 2316.7,1376.7 2328,1362 C2339.3,1347.3 2353.7,1333.9 2374,1325 C2394.3,1316.1 2423.2,1311.8 2450,1308.5 C2476.8,1305.2 2482.2,1300.2 2535,1305 C2587.8,1309.8 2702.2,1325.3 2766.7,1337 C2831.2,1348.7 2881.3,1359.7 2922,1375 C2962.7,1390.3 2970.7,1399.2 3011,1429 C3051.3,1458.8 3117.2,1506.2 3164,1554 C3210.8,1601.8 3256.5,1660.4 3292,1715.7 C3327.5,1771 3356.8,1832 3377,1886 C3397.2,1940 3405.2,1991 3413,2040 C3420.8,2089 3425.3,2122.8 3424,2180 C3422.7,2237.2 3421.7,2310.3 3405,2383 C3388.3,2455.7 3356.6,2552.9 3323.6,2616 C3290.6,2679.1 3255.6,2717.8 3207,2761.5 C3158.4,2805.2 3090.2,2849.9 3032,2878 C2973.8,2906.1 2908.1,2920.3 2857.7,2930 C2807.3,2939.7 2778,2939.8 2729.5,2936 C2681,2932.2 2605.3,2921.5 2566.5,2907 C2527.7,2892.5 2510.7,2878.2 2496.6,2849 C2482.5,2819.8 2480.1,2780.6 2482,2732 C2483.9,2683.4 2493.9,2615.9 2508,2557.7 C2522.1,2499.5 2549,2439.3 2566.5,2383 C2584,2326.7 2604.2,2267.3 2613,2220 C2621.8,2172.7 2622.2,2133.3 2619,2099 C2615.8,2064.7 2603.2,2047.2 2594,2014 C2584.8,1980.8 2578.5,1929.2 2564,1900 C2549.5,1870.8 2526,1861 2507,1839 C2488,1817 2473.7,1798.7 2450,1768 C2426.3,1737.3 2387.7,1692.8 2365,1655 C2342.3,1617.2 2324.8,1571.8 2314,1541 C2303.2,1510.2 2301.3,1491.3 2300,1470 Z" fill="#F9EBEB"/>
<path d="M1625.6,1846 C1618.9,1816.8 1634.2,1789.3 1649.8,1759.6 C1665.4,1729.8 1695,1687.7 1719,1667.5 C1743,1647.3 1767.9,1640.6 1793.8,1638.7 C1819.7,1636.8 1837,1638.7 1874.4,1656 C1911.8,1673.3 1965.6,1705.8 2018.4,1742.3 C2071.2,1778.8 2143,1833.7 2191,1875 C2239,1916.3 2277.7,1956.4 2306.5,1990 C2335.3,2023.6 2355.4,2054.4 2364,2076.5 C2372.6,2098.6 2377.2,2115.8 2358,2122.5 C2338.8,2129.2 2296,2126.4 2249,2116.8 C2202,2107.2 2143.3,2084.8 2076,2065 C2008.7,2045.2 1909.3,2019.7 1845,1998 C1780.7,1976.3 1726.6,1960.3 1690,1935 C1653.4,1909.7 1632.3,1875.2 1625.6,1846 Z" fill="#F6E3F1"/>
<path d="M1910,1540.7 C1906.1,1511 1921.6,1486.5 1937.8,1465.9 C1954,1445.3 1984,1427.4 2007,1417 C2030,1406.6 2052,1404.6 2076,1403.6 C2100,1402.6 2128,1403.5 2151,1411 C2174,1418.5 2195.8,1430.8 2214,1448.6 C2232.2,1466.4 2242.7,1480.3 2260,1517.7 C2277.3,1555.1 2300.7,1618.3 2318,1673 C2335.3,1727.7 2353,1788.4 2364,1846 C2375,1903.6 2381.2,1982.3 2384,2018.8 C2386.8,2055.3 2387.2,2058.3 2381,2065 C2374.8,2071.7 2369,2081.2 2347,2059 C2325,2036.8 2289.3,1979 2249,1932 C2208.7,1885 2153,1824.9 2105,1777 C2057,1729.1 1993.5,1683.8 1961,1644.4 C1928.5,1605 1913.9,1570.5 1910,1540.7 Z" fill="#FAD7F6"/>
<path d="M1575,2201.6 C1569.4,2165.8 1574.9,2141.4 1586.4,2115 C1597.9,2088.6 1620,2055.9 1644,2043 C1668,2030.1 1687.2,2035 1730.4,2037.4 C1773.6,2039.8 1845.4,2048.5 1903,2057.6 C1960.6,2066.7 2018.3,2078.6 2076,2092 C2133.7,2105.4 2208.7,2125.3 2249,2138 C2289.3,2150.7 2305.8,2160.2 2318,2168 C2330.2,2175.8 2326.7,2179.7 2322,2185 C2317.3,2190.3 2314.5,2190.8 2290,2200 C2265.5,2209.2 2215.9,2224.6 2175.2,2240 C2134.5,2255.4 2096,2275.9 2045.6,2292.6 C1995.2,2309.3 1930.4,2328.5 1872.8,2340 C1815.2,2351.5 1742.1,2363.4 1700,2361.7 C1657.9,2360 1640.8,2356.7 1620,2330 C1599.2,2303.3 1580.6,2237.4 1575,2201.6 Z" fill="#EBCBCB"/>
<path d="M1744.8,2553 C1746.5,2523.8 1765.1,2507.4 1786.4,2487 C1807.7,2466.6 1836.8,2449.5 1872.8,2430.8 C1908.8,2412.1 1959.2,2394.2 2002.4,2374.7 C2045.6,2355.2 2088.8,2332.7 2132,2314 C2175.2,2295.3 2225.6,2273.4 2261.6,2262.3 C2297.6,2251.2 2324.9,2247.2 2348,2247.2 C2371.1,2247.2 2387.2,2248.5 2399.9,2262.3 C2412.6,2276.1 2420,2298.7 2424,2330 C2428,2361.3 2428,2389.8 2424,2450 C2420,2510.2 2412.7,2624.7 2400,2691 C2387.3,2757.3 2363.6,2811.5 2348,2848 C2332.4,2884.5 2327.8,2896.3 2306.5,2910 C2285.2,2923.7 2258.4,2931.9 2220,2930 C2181.6,2928.1 2128.8,2924 2076,2898.6 C2023.2,2873.2 1952.9,2817 1903,2777.6 C1853.1,2738.2 1802.9,2699.8 1776.5,2662.4 C1750.1,2625 1743.1,2582.2 1744.8,2553 Z" fill="#C6E4F3"/>
<line x1="2441.4" y1="2167.5" x2="2630.6" y2="2155" stroke="#000" stroke-width="2.6"/>
<line x1="2441.4" y1="2167.5" x2="2396.7" y2="2130" stroke="#000" stroke-width="2.6"/>
<line x1="2441.4" y1="2167.5" x2="2329.6" y2="2173.2" stroke="#000" stroke-width="2.6"/>
<line x1="2441.4" y1="2167.5" x2="2417.5" y2="2199" stroke="#000" stroke-width="2.6"/>
<line x1="2396.7" y1="2130" x2="2355.5" y2="2059.4" stroke="#000" stroke-width="2.6"/>
<line x1="2630.6" y1="2155" x2="2648.4" y2="2118.5" stroke="#000" stroke-width="2.6"/>
<line x1="2630.6" y1="2155" x2="2654.6" y2="2194" stroke="#000" stroke-width="2.6"/>
<line x1="2648.4" y1="2118.5" x2="2619" y2="1988" stroke="#000" stroke-width="2.6"/>
<line x1="2619" y1="1988" x2="2594" y2="1915.8" stroke="#000" stroke-width="2.6"/>
<line x1="2648.4" y1="2118.5" x2="2672" y2="2106" stroke="#000" stroke-width="2.6"/>
<line x1="2672" y1="2106" x2="2900.5" y2="2005" stroke="#000" stroke-width="2.6"/>
<line x1="2672" y1="2106" x2="2849" y2="2084" stroke="#000" stroke-width="2.6"/>
<line x1="2654.6" y1="2194" x2="2731.4" y2="2219" stroke="#000" stroke-width="2.6"/>
<line x1="2731.4" y1="2219" x2="2843" y2="2228.8" stroke="#000" stroke-width="2.6"/>
<line x1="2654.6" y1="2194" x2="2669.4" y2="2251" stroke="#000" stroke-width="2.6"/>
<line x1="2669.4" y1="2251" x2="2673.8" y2="2278" stroke="#000" stroke-width="2.6"/>
<line x1="2673.8" y1="2278" x2="2674.2" y2="2425.4" stroke="#000" stroke-width="2.6"/>
<line x1="2417.5" y1="2199" x2="2384" y2="2222" stroke="#000" stroke-width="2.6"/>
<line x1="2384" y1="2222" x2="2220" y2="2315" stroke="#000" stroke-width="2.6"/>
<line x1="2417.5" y1="2199" x2="2345" y2="2415" stroke="#000" stroke-width="2.6"/>
<line x1="2355.5" y1="2059.4" x2="2275" y2="1822.5" stroke="#000" stroke-width="2.6"/>
<line x1="2355.5" y1="2059.4" x2="2227.5" y2="1845" stroke="#000" stroke-width="2.6"/>
<line x1="2355.5" y1="2059.4" x2="2192.5" y2="1892.5" stroke="#000" stroke-width="2.6"/>
<line x1="2396.7" y1="2130" x2="2150" y2="1947.5" stroke="#000" stroke-width="2.6"/>
<line x1="2396.7" y1="2130" x2="2115" y2="1998" stroke="#000" stroke-width="2.6"/>
<line x1="2396.7" y1="2130" x2="2095" y2="2051" stroke="#000" stroke-width="2.6"/>
<line x1="2329.6" y1="2173.2" x2="2062.5" y2="2137.5" stroke="#000" stroke-width="2.6"/>
<line x1="2329.6" y1="2173.2" x2="2045" y2="2196" stroke="#000" stroke-width="2.6"/>
<line x1="2329.6" y1="2173.2" x2="2082.5" y2="2252.5" stroke="#000" stroke-width="2.6"/>
<line x1="2220" y1="2315" x2="2095" y2="2369" stroke="#000" stroke-width="2.6"/>
<line x1="2220" y1="2315" x2="2118.5" y2="2404" stroke="#000" stroke-width="2.6"/>
<line x1="2384" y1="2222" x2="2187.5" y2="2435" stroke="#000" stroke-width="2.6"/>
<line x1="2384" y1="2222" x2="2235" y2="2477.5" stroke="#000" stroke-width="2.6"/>
<line x1="2345" y1="2415" x2="2302.5" y2="2502.5" stroke="#000" stroke-width="2.6"/>
<line x1="2345" y1="2415" x2="2334" y2="2515" stroke="#000" stroke-width="2.6"/>
<line x1="2594" y1="1915.8" x2="2553" y2="1852" stroke="#000" stroke-width="2.6"/>
<line x1="2594" y1="1915.8" x2="2570" y2="1852" stroke="#000" stroke-width="2.6"/>
<line x1="2594" y1="1915.8" x2="2589.5" y2="1843" stroke="#000" stroke-width="2.6"/>
<line x1="2619" y1="1988" x2="2630" y2="1835" stroke="#000" stroke-width="2.6"/>
<line x1="2648.4" y1="2118.5" x2="2694" y2="1879.6" stroke="#000" stroke-width="2.6"/>
<line x1="2648.4" y1="2118.5" x2="2743" y2="1871" stroke="#000" stroke-width="2.6"/>
<line x1="2648.4" y1="2118.5" x2="2783" y2="1911.5" stroke="#000" stroke-width="2.6"/>
<line x1="2648.4" y1="2118.5" x2="2843" y2="1941" stroke="#000" stroke-width="2.6"/>
<line x1="2900.5" y1="2005" x2="2910" y2="1995" stroke="#000" stroke-width="2.6"/>
<line x1="2900.5" y1="2005" x2="2912" y2="2003" stroke="#000" stroke-width="2.6"/>
<line x1="2849" y1="2084" x2="2921.8" y2="2071" stroke="#000" stroke-width="2.6"/>
<line x1="2849" y1="2084" x2="2913" y2="2085" stroke="#000" stroke-width="2.6"/>
<line x1="2843" y1="2228.8" x2="2930" y2="2226" stroke="#000" stroke-width="2.6"/>
<line x1="2843" y1="2228.8" x2="2925" y2="2246" stroke="#000" stroke-width="2.6"/>
<line x1="2731.4" y1="2219" x2="2907.5" y2="2295.8" stroke="#000" stroke-width="2.6"/>
<line x1="2731.4" y1="2219" x2="2873" y2="2330.5" stroke="#000" stroke-width="2.6"/>
<line x1="2669.4" y1="2251" x2="2818.3" y2="2390" stroke="#000" stroke-width="2.6"/>
<line x1="2673.8" y1="2278" x2="2788.5" y2="2427" stroke="#000" stroke-width="2.6"/>
<line x1="2674.2" y1="2425.4" x2="2708.9" y2="2479.3" stroke="#000" stroke-width="2.6"/>
<line x1="2674.2" y1="2425.4" x2="2697" y2="2476.5" stroke="#000" stroke-width="2.6"/>
<line x1="2674.2" y1="2425.4" x2="2681.3" y2="2479.3" stroke="#000" stroke-width="2.6"/>
<line x1="2674.2" y1="2425.4" x2="2660" y2="2479.3" stroke="#000" stroke-width="2.6"/>
<line x1="2674.2" y1="2425.4" x2="2647.8" y2="2475" stroke="#000" stroke-width="2.6"/>
<circle cx="2267.5" cy="1796" r="17" fill="#F00000"/>
<text x="2255" y="1770" font-size="34" text-anchor="end" dominant-baseline="central" transform="rotate(68.9 2255 1770)">Rch07d0539</text>
<polygon points="2199.7,1832.5 2214.3,1803 2232.5,1830.5" fill="#fff" stroke="#000" stroke-width="2.4" stroke-linejoin="miter"/>
<text x="2197.5" y="1807.5" font-size="34" text-anchor="end" dominant-baseline="central" transform="rotate(56.4 2197.5 1807.5)">CYP71A20 NP_974541.1</text>
<polygon points="2162.4,1886.3 2171.3,1854.6 2194.3,1878.2" fill="#0A0A80"/>
<text x="2165" y="1862.5" font-size="34" text-anchor="end" dominant-baseline="central" transform="rotate(45.8 2165 1862.5)">T19H F5BHA2.1</text>
<polygon points="2120.1,1945.7 2124.1,1913 2150.4,1932.8" fill="#fff" stroke="#000" stroke-width="2.4" stroke-linejoin="miter"/>
<text x="2105" y="1920" font-size="34" text-anchor="end" dominant-baseline="central" transform="rotate(37 2105 1920)">CYP83B1&#160;&#160;NP_194878.1</text>
<circle cx="2091.5" cy="1985" r="17" fill="#F00000"/>
<text x="2067.5" y="1980" font-size="34" text-anchor="end" dominant-baseline="central" transform="rotate(27.2 2067.5 1980)">Rch06d0885</text>
<polygon points="2070.5,2064.8 2064.8,2032.4 2095.7,2043.7" fill="#0A0A80"/>
<text x="2050" y="2045" font-size="34" text-anchor="end" dominant-baseline="central" transform="rotate(20.1 2050 2045)">KAI5659378.1</text>
<polygon points="2032.2,2156.3 2020.1,2125.7 2052.7,2130.5" fill="#fff" stroke="#000" stroke-width="2.4" stroke-linejoin="miter"/>
<text x="2005" y="2145" font-size="34" text-anchor="end" dominant-baseline="central" transform="rotate(8.4 2005 2145)">CYP82C4&#160;&#160;NP_194922.1</text>
<circle cx="2017.5" cy="2198.5" r="17" fill="#F00000"/>
<text x="1985" y="2207.5" font-size="34" text-anchor="end" dominant-baseline="central" transform="rotate(-5 1985 2207.5)">Rch08d0414</text>
<polygon points="2058.4,2280.6 2033.9,2258.5 2065.2,2248.4" fill="#0A0A80"/>
<text x="2025" y="2272.5" font-size="34" text-anchor="end" dominant-baseline="central" transform="rotate(-18 2025 2272.5)">KAI5655988.1</text>
<circle cx="2068.5" cy="2380" r="17" fill="#F00000"/>
<text x="2042.5" y="2390" font-size="34" text-anchor="end" dominant-baseline="central" transform="rotate(-25.7 2042.5 2390)">RcIO Rch07d1582</text>
<polygon points="2104.9,2434.4 2073.8,2423.6 2098.7,2402" fill="#0A0A80"/>
<text x="2072.5" y="2440" font-size="34" text-anchor="end" dominant-baseline="central" transform="rotate(-40.9 2072.5 2440)">7DLS AHX24370.1</text>
<polygon points="2178,2467.9 2145.9,2460.7 2168.2,2436.5" fill="#fff" stroke="#000" stroke-width="2.4" stroke-linejoin="miter"/>
<text x="2152.5" y="2480" font-size="34" text-anchor="end" dominant-baseline="central" transform="rotate(-47.4 2152.5 2480)">NP_190865.2</text>
<polygon points="2230.5,2511 2197.7,2507.9 2216.8,2481.1" fill="#fff" stroke="#000" stroke-width="2.4" stroke-linejoin="miter"/>
<text x="2209.8" y="2521.4" font-size="34" text-anchor="end" dominant-baseline="central" transform="rotate(-54.5 2209.8 2521.4)">CYP76C2 NP_182081.1</text>
<circle cx="2291.5" cy="2528.5" r="17" fill="#F00000"/>
<text x="2289" y="2553" font-size="34" text-anchor="end" dominant-baseline="central" transform="rotate(-63.9 2289 2553)">RcG10H Rch13d0510</text>
<polygon points="2348.8,2545.1 2318.3,2557.5 2322.8,2524.9" fill="#0A0A80"/>
<text x="2329" y="2575" font-size="34" text-anchor="end" dominant-baseline="central" transform="rotate(-82.1 2329 2575)">CrG10H CAC80883.1</text>
<polygon points="2524.4,1834.4 2539.8,1805.3 2557.3,1833.2" fill="#fff" stroke="#000" stroke-width="2.4" stroke-linejoin="miter"/>
<text x="2521" y="1815.8" font-size="34" text-anchor="start" dominant-baseline="central" transform="rotate(-122.1 2521 1815.8)">CYP72A15 NP_188087.1</text>
<polygon points="2546,1824.1 2567.8,1799.4 2578.2,1830.6" fill="#fff" stroke="#000" stroke-width="2.4" stroke-linejoin="miter"/>
<text x="2543" y="1800" font-size="34" text-anchor="start" dominant-baseline="central" transform="rotate(-108.6 2543 1800)">CYP72A13&#160;&#160;OAP04520.1</text>
<polygon points="2568,1814.9 2595.3,1796.5 2597.6,1829.4" fill="#fff" stroke="#000" stroke-width="2.4" stroke-linejoin="miter"/>
<text x="2582" y="1784" font-size="34" text-anchor="start" dominant-baseline="central" transform="rotate(-94 2582 1784)">CYP72A10&#160;&#160;NP_001319552.1</text>
<polygon points="2615,1806.1 2644.2,1791 2642.7,1823.9" fill="#fff" stroke="#000" stroke-width="2.4" stroke-linejoin="miter"/>
<text x="2645" y="1771" font-size="34" text-anchor="start" dominant-baseline="central" transform="rotate(-87.4 2645 1771)">CYP72A7&#160;&#160;NP_188079.1</text>
<polygon points="2681.3,1848.9 2712.1,1837.3 2706.7,1869.8" fill="#0A0A80"/>
<text x="2706.5" y="1824" font-size="34" text-anchor="start" dominant-baseline="central" transform="rotate(-80.6 2706.5 1824)">CrCYP72A225 W8JWW3.1</text>
<circle cx="2751" cy="1845.5" r="17" fill="#F00000"/>
<text x="2768" y="1820" font-size="34" text-anchor="start" dominant-baseline="central" transform="rotate(-68.7 2768 1820)">Rch01d1353</text>
<circle cx="2798" cy="1888" r="17" fill="#F00000"/>
<text x="2821.5" y="1869" font-size="34" text-anchor="start" dominant-baseline="central" transform="rotate(-56.2 2821.5 1869)">Rch10d1615</text>
<polygon points="2853.1,1906.4 2884.8,1915.2 2861.3,1938.3" fill="#0A0A80"/>
<text x="2879" y="1898.8" font-size="34" text-anchor="start" dominant-baseline="central" transform="rotate(-44.5 2879 1898.8)">CrDL7H AGX93062.1</text>
<polygon points="2916.3,1969.1 2946.8,1981.3 2920.9,2001.6" fill="#0A0A80"/>
<text x="2945" y="1967" font-size="34" text-anchor="start" dominant-baseline="central" transform="rotate(-38.2 2945 1967)">CrSLS1 Q05047.1</text>
<polygon points="2923.4,1991.7 2948.7,2012.7 2917.9,2024.1" fill="#0A0A80"/>
<text x="2960" y="1996.7" font-size="34" text-anchor="start" dominant-baseline="central" transform="rotate(-20.4 2960 1996.7)">CrSLS2 U5NDT8.1</text>
<text x="2930" y="2071" font-size="34" text-anchor="start" dominant-baseline="central" transform="rotate(-12.5 2930 2071)">CaaCYP72A565 QDC27812.1</text>
<text x="2921" y="2090" font-size="34" text-anchor="start" dominant-baseline="central" transform="rotate(3.5 2921 2090)">CaaCYP72A610 QDC27813.1</text>
<circle cx="2957" cy="2223.8" r="17" fill="#F00000"/>
<text x="2987" y="2229" font-size="34" text-anchor="start" dominant-baseline="central" transform="rotate(-4.4 2987 2229)">RcCYP72G20 Rch08d0799</text>
<circle cx="2951" cy="2251" r="17" fill="#F00000"/>
<text x="2982" y="2268.5" font-size="34" text-anchor="start" dominant-baseline="central" transform="rotate(11.3 2982 2268.5)">RcCYP72G19 Rch08d0804</text>
<circle cx="2932" cy="2308" r="17" fill="#F00000"/>
<text x="2952" y="2323" font-size="34" text-anchor="start" dominant-baseline="central" transform="rotate(23.9 2952 2323)">Rch02d0904</text>
<circle cx="2895" cy="2348" r="17" fill="#F00000"/>
<text x="2912.5" y="2370" font-size="34" text-anchor="start" dominant-baseline="central" transform="rotate(36.6 2912.5 2370)">RcCYP72G21 Rch08d0807</text>
<circle cx="2839.6" cy="2408.4" r="17" fill="#F00000"/>
<text x="2855.5" y="2437" font-size="34" text-anchor="start" dominant-baseline="central" transform="rotate(42.5 2855.5 2437)">RcCYP72H7 Rch08d0811</text>
<circle cx="2804.4" cy="2449.5" r="17" fill="#F00000"/>
<text x="2815.8" y="2476.8" font-size="34" text-anchor="start" dominant-baseline="central" transform="rotate(51.3 2815.8 2476.8)">RcCYP72E15 Rch08d0806</text>
<circle cx="2724" cy="2501.6" r="17" fill="#F00000"/>
<text x="2739" y="2521.5" font-size="34" text-anchor="start" dominant-baseline="central" transform="rotate(52.6 2739 2521.5)">RcCYP72E14 Rch08d0805</text>
<circle cx="2706.6" cy="2501.6" r="17" fill="#F00000"/>
<text x="2706.6" y="2529" font-size="34" text-anchor="start" dominant-baseline="central" transform="rotate(68.2 2706.6 2529)">RcCYP72E13 Rch08d0800</text>
<text x="2682.8" y="2502" font-size="34" text-anchor="start" dominant-baseline="central" transform="rotate(86.2 2682.8 2502)">PtAS UNP64214.1</text>
<text x="2658.6" y="2492" font-size="34" text-anchor="start" dominant-baseline="central" transform="rotate(101.2 2658.6 2492)">VaAS UNP64213.1</text>
<text x="2626" y="2487.9" font-size="34" text-anchor="start" dominant-baseline="central" transform="rotate(118.1 2626 2487.9)">CaAS UNP64212.1</text>
<text x="2161" y="1488.5" font-size="54.5" font-weight="bold" text-anchor="middle">CYP71A</text>
<text x="1755" y="1854" font-size="54.5" font-weight="bold" text-anchor="middle">CYP83B</text>
<text x="1659.5" y="2322.5" font-size="54.5" font-weight="bold" text-anchor="middle">CYP82C</text>
<text x="2034.5" y="2917.5" font-size="54.5" font-weight="bold" text-anchor="middle">CYP76 group</text>
<text x="3059" y="1613.5" font-size="54.5" font-weight="bold" text-anchor="middle">CYP72 group</text>
<circle cx="1540" cy="2781" r="19" fill="#F00000"/>
<text x="1585.5" y="2794" font-size="44" font-style="italic">R. chingii</text>
<polygon points="1542.5,2829 1522,2862 1563,2862" fill="#fff" stroke="#000" stroke-width="2.4"/>
<text x="1585.5" y="2863.6" font-size="44" font-style="italic">A. thaliana</text>
<polygon points="1543,2898.5 1522,2933.3 1564.6,2933.3" fill="#0A0A80"/>
<text x="1585.5" y="2927" font-size="44" font-style="italic">C. roseus</text>
<line x1="2369.5" y1="2929" x2="2472.7" y2="2929" stroke="#000" stroke-width="2.4"/>
<line x1="2369.5" y1="2917.5" x2="2369.5" y2="2941" stroke="#000" stroke-width="2.4"/>
<line x1="2472.7" y1="2917.5" x2="2472.7" y2="2941" stroke="#000" stroke-width="2.4"/>
<text x="2428" y="2977.7" font-size="30" font-family='"Liberation Serif", serif' text-anchor="middle">0.1</text>
<text x="2372.8" y="2059.4" font-size="30" text-anchor="middle" dominant-baseline="central" font-family='"Liberation Serif", serif' transform="rotate(70 2372.8 2059.4)">84</text>
<text x="2393" y="2088" font-size="30" text-anchor="middle" dominant-baseline="central" font-family='"Liberation Serif", serif' transform="rotate(60 2393 2088)">100</text>
<text x="2430.4" y="2135.8" font-size="30" text-anchor="middle" dominant-baseline="central" font-family='"Liberation Serif", serif' transform="rotate(15 2430.4 2135.8)">99</text>
<text x="2476.5" y="2141.5" font-size="30" text-anchor="middle" dominant-baseline="central" font-family='"Liberation Serif", serif' transform="rotate(-5 2476.5 2141.5)">100</text>
<text x="2462" y="2153" font-size="30" text-anchor="middle" dominant-baseline="central" font-family='"Liberation Serif", serif' transform="rotate(-60 2462 2153)">71</text>
<text x="2355.5" y="2148.7" font-size="30" text-anchor="middle" dominant-baseline="central" font-family='"Liberation Serif", serif' transform="rotate(10 2355.5 2148.7)">99</text>
<text x="2401.6" y="2167.5" font-size="30" text-anchor="middle" dominant-baseline="central" font-family='"Liberation Serif", serif' transform="rotate(-80 2401.6 2167.5)">65</text>
<text x="2360" y="2200.6" font-size="30" text-anchor="middle" dominant-baseline="central" font-family='"Liberation Serif", serif' transform="rotate(0 2360 2200.6)">56</text>
<text x="2383" y="2200.6" font-size="30" text-anchor="middle" dominant-baseline="central" font-family='"Liberation Serif", serif' transform="rotate(0 2383 2200.6)">100</text>
<text x="2460.7" y="2196" font-size="30" text-anchor="middle" dominant-baseline="central" font-family='"Liberation Serif", serif' transform="rotate(-70 2460.7 2196)">98</text>
<text x="2439" y="2228" font-size="30" text-anchor="middle" dominant-baseline="central" font-family='"Liberation Serif", serif' transform="rotate(-70 2439 2228)">98</text>
<text x="2243" y="2281" font-size="30" text-anchor="middle" dominant-baseline="central" font-family='"Liberation Serif", serif' transform="rotate(-20 2243 2281)">100</text>
<text x="2387" y="2385" font-size="30" text-anchor="middle" dominant-baseline="central" font-family='"Liberation Serif", serif' transform="rotate(-85 2387 2385)">100</text>
<text x="2577" y="1967" font-size="30" text-anchor="middle" dominant-baseline="central" font-family='"Liberation Serif", serif' transform="rotate(100 2577 1967)">100</text>
<text x="2645" y="2019" font-size="30" text-anchor="middle" dominant-baseline="central" font-family='"Liberation Serif", serif' transform="rotate(95 2645 2019)">100</text>
<text x="2613" y="2134" font-size="30" text-anchor="middle" dominant-baseline="central" font-family='"Liberation Serif", serif' transform="rotate(-70 2613 2134)">96</text>
<text x="2625" y="2140" font-size="30" text-anchor="middle" dominant-baseline="central" font-family='"Liberation Serif", serif' transform="rotate(-60 2625 2140)">36</text>
<text x="2655" y="2149" font-size="30" text-anchor="middle" dominant-baseline="central" font-family='"Liberation Serif", serif' transform="rotate(-80 2655 2149)">81</text>
<text x="2675" y="2126" font-size="30" text-anchor="middle" dominant-baseline="central" font-family='"Liberation Serif", serif' transform="rotate(-80 2675 2126)">83</text>
<text x="2700" y="2135" font-size="30" text-anchor="middle" dominant-baseline="central" font-family='"Liberation Serif", serif' transform="rotate(15 2700 2135)">99</text>
<text x="2603" y="2177.5" font-size="30" text-anchor="middle" dominant-baseline="central" font-family='"Liberation Serif", serif' transform="rotate(65 2603 2177.5)">100</text>
<text x="2626" y="2209" font-size="30" text-anchor="middle" dominant-baseline="central" font-family='"Liberation Serif", serif' transform="rotate(75 2626 2209)">100</text>
<text x="2638" y="2249.5" font-size="30" text-anchor="middle" dominant-baseline="central" font-family='"Liberation Serif", serif' transform="rotate(85 2638 2249.5)">80</text>
<text x="2686.8" y="2186" font-size="30" text-anchor="middle" dominant-baseline="central" font-family='"Liberation Serif", serif' transform="rotate(10 2686.8 2186)">100</text>
<text x="2702" y="2190" font-size="30" text-anchor="middle" dominant-baseline="central" font-family='"Liberation Serif", serif' transform="rotate(10 2702 2190)">98</text>
<text x="2810" y="2207" font-size="30" text-anchor="middle" dominant-baseline="central" font-family='"Liberation Serif", serif' transform="rotate(0 2810 2207)">100</text>
<text x="2845" y="2013.7" font-size="30" text-anchor="middle" dominant-baseline="central" font-family='"Liberation Serif", serif' transform="rotate(-25 2845 2013.7)">100</text>
<text x="2813" y="2118" font-size="30" text-anchor="middle" dominant-baseline="central" font-family='"Liberation Serif", serif' transform="rotate(0 2813 2118)">100</text>
<text x="2656.5" y="2399" font-size="30" text-anchor="middle" dominant-baseline="central" font-family='"Liberation Serif", serif' transform="rotate(90 2656.5 2399)">9100</text>
<text x="2686.8" y="2402" font-size="30" text-anchor="middle" dominant-baseline="central" font-family='"Liberation Serif", serif' transform="rotate(-100 2686.8 2402)">75</text>
<text x="32" y="3198" font-size="96" font-weight="bold">d</text>
<line x1="265.5" y1="3161.9" x2="265.5" y2="3252.9" stroke="#000" stroke-width="2.7"/>
<line x1="265.5" y1="3252.9" x2="342.5" y2="3298.9" stroke="#000" stroke-width="2.7"/>
<line x1="281.5" y1="3242.9" x2="342.5" y2="3276.9" stroke="#000" stroke-width="2.7"/>
<line x1="342.5" y1="3298.9" x2="421.5" y2="3252.9" stroke="#000" stroke-width="2.7"/>
<line x1="421.5" y1="3252.9" x2="421.5" y2="3196.9" stroke="#000" stroke-width="2.7"/>
<text x="396.5" y="3184.9" font-size="63">OH</text>
<polyline points="265.5,3252.9 183.5,3298.9 183.5,3388.9 265.5,3434.9 265.5,3525.9" fill="none" stroke="#000" stroke-width="2.7" stroke-linejoin="miter"/>
<line x1="248.5" y1="3446.9" x2="248.5" y2="3513.9" stroke="#000" stroke-width="2.7"/>
<line x1="265.5" y1="3525.9" x2="189.5" y2="3568.9" stroke="#000" stroke-width="2.7"/>
<line x1="265.5" y1="3525.9" x2="337.5" y2="3568.9" stroke="#000" stroke-width="2.7"/>
<text x="394" y="3627.6" font-size="54" text-anchor="middle">Geraniol</text>
<text x="171.8" y="3649.4" font-size="55.5" font-weight="bold" text-anchor="middle" fill="#0F70BE">G10H</text>
<line x1="265.5" y1="3589" x2="265.5" y2="3669" stroke="#000" stroke-width="6.5"/>
<polygon points="265.5,3684 253,3659 265.5,3666 278,3659" fill="#000"/>
<line x1="251" y1="3705" x2="251" y2="3796" stroke="#000" stroke-width="2.7"/>
<line x1="251" y1="3796" x2="328" y2="3842" stroke="#000" stroke-width="2.7"/>
<line x1="267" y1="3786" x2="328" y2="3820" stroke="#000" stroke-width="2.7"/>
<line x1="328" y1="3842" x2="407" y2="3796" stroke="#000" stroke-width="2.7"/>
<line x1="407" y1="3796" x2="407" y2="3740" stroke="#000" stroke-width="2.7"/>
<text x="382" y="3728" font-size="63">OH</text>
<polyline points="251,3796 169,3842 169,3932 251,3978 251,4069" fill="none" stroke="#000" stroke-width="2.7" stroke-linejoin="miter"/>
<line x1="234" y1="3990" x2="234" y2="4057" stroke="#000" stroke-width="2.7"/>
<line x1="251" y1="4069" x2="175" y2="4112" stroke="#000" stroke-width="2.7"/>
<line x1="251" y1="4069" x2="323" y2="4112" stroke="#000" stroke-width="2.7"/>
<line x1="323" y1="4112" x2="370" y2="4083" stroke="#E8000B" stroke-width="2.7"/>
<text x="382" y="4088" font-size="63" fill="#E8000B">OH</text>
<text x="511.5" y="4176.4" font-size="51" text-anchor="middle">10-hydroxygeraniol</text>
<line x1="676.8" y1="4027" x2="2807.6" y2="4027" stroke="#707070" stroke-width="2"/>
<line x1="767.4" y1="4027" x2="767.4" y2="4018" stroke="#707070" stroke-width="1.8"/>
<line x1="853.8" y1="4027" x2="853.8" y2="4018" stroke="#707070" stroke-width="1.8"/>
<line x1="940.1" y1="4027" x2="940.1" y2="4018" stroke="#707070" stroke-width="1.8"/>
<line x1="1026.5" y1="4027" x2="1026.5" y2="4018" stroke="#707070" stroke-width="1.8"/>
<line x1="1112.8" y1="4027" x2="1112.8" y2="4018" stroke="#707070" stroke-width="1.8"/>
<line x1="1199.2" y1="4027" x2="1199.2" y2="4018" stroke="#707070" stroke-width="1.8"/>
<line x1="1285.5" y1="4027" x2="1285.5" y2="4018" stroke="#707070" stroke-width="1.8"/>
<line x1="1371.9" y1="4027" x2="1371.9" y2="4018" stroke="#707070" stroke-width="1.8"/>
<line x1="1458.2" y1="4027" x2="1458.2" y2="4018" stroke="#707070" stroke-width="1.8"/>
<line x1="1544.6" y1="4027" x2="1544.6" y2="4018" stroke="#707070" stroke-width="1.8"/>
<line x1="1630.9" y1="4027" x2="1630.9" y2="4018" stroke="#707070" stroke-width="1.8"/>
<line x1="1717.3" y1="4027" x2="1717.3" y2="4018" stroke="#707070" stroke-width="1.8"/>
<line x1="1803.6" y1="4027" x2="1803.6" y2="4018" stroke="#707070" stroke-width="1.8"/>
<line x1="1890" y1="4027" x2="1890" y2="4018" stroke="#707070" stroke-width="1.8"/>
<line x1="1976.3" y1="4027" x2="1976.3" y2="4018" stroke="#707070" stroke-width="1.8"/>
<line x1="2062.7" y1="4027" x2="2062.7" y2="4018" stroke="#707070" stroke-width="1.8"/>
<line x1="2149.1" y1="4027" x2="2149.1" y2="4018" stroke="#707070" stroke-width="1.8"/>
<line x1="2235.4" y1="4027" x2="2235.4" y2="4018" stroke="#707070" stroke-width="1.8"/>
<line x1="2321.8" y1="4027" x2="2321.8" y2="4018" stroke="#707070" stroke-width="1.8"/>
<line x1="2408.1" y1="4027" x2="2408.1" y2="4018" stroke="#707070" stroke-width="1.8"/>
<line x1="2494.4" y1="4027" x2="2494.4" y2="4018" stroke="#707070" stroke-width="1.8"/>
<line x1="2580.8" y1="4027" x2="2580.8" y2="4018" stroke="#707070" stroke-width="1.8"/>
<line x1="2667.1" y1="4027" x2="2667.1" y2="4018" stroke="#707070" stroke-width="1.8"/>
<line x1="2753.5" y1="4027" x2="2753.5" y2="4018" stroke="#707070" stroke-width="1.8"/>
<text x="853.8" y="4072.3" font-size="37" font-family='"Liberation Serif", serif' text-anchor="middle">6</text>
<text x="1026.5" y="4072.3" font-size="37" font-family='"Liberation Serif", serif' text-anchor="middle">7</text>
<text x="1199.2" y="4072.3" font-size="37" font-family='"Liberation Serif", serif' text-anchor="middle">8</text>
<text x="1371.9" y="4072.3" font-size="37" font-family='"Liberation Serif", serif' text-anchor="middle">9</text>
<text x="1544.6" y="4072.3" font-size="37" font-family='"Liberation Serif", serif' text-anchor="middle">10</text>
<text x="1717.3" y="4072.3" font-size="37" font-family='"Liberation Serif", serif' text-anchor="middle">11</text>
<text x="1890" y="4072.3" font-size="37" font-family='"Liberation Serif", serif' text-anchor="middle">12</text>
<text x="2062.7" y="4072.3" font-size="37" font-family='"Liberation Serif", serif' text-anchor="middle">13</text>
<text x="2235.4" y="4072.3" font-size="37" font-family='"Liberation Serif", serif' text-anchor="middle">14</text>
<text x="2408.1" y="4072.3" font-size="37" font-family='"Liberation Serif", serif' text-anchor="middle">15</text>
<text x="2580.8" y="4072.3" font-size="37" font-family='"Liberation Serif", serif' text-anchor="middle">16</text>
<text x="2753.5" y="4072.3" font-size="37" font-family='"Liberation Serif", serif' text-anchor="middle">17</text>
<text x="1785.5" y="4139" font-size="52.3" text-anchor="middle">Retention time (min)</text>
<polyline points="682.8,4012.0 683.8,4012.0 684.8,4012.0 685.8,4012.0 686.8,4012.0 687.8,4012.0 688.8,4012.0 689.8,4012.0 690.8,4011.9 691.8,4011.9 692.8,4011.8 693.8,4011.7 694.8,4011.5 695.8,4011.2 696.8,4010.8 697.8,4010.2 698.8,4009.5 699.8,4008.7 700.8,4007.8 701.8,4006.8 702.8,4005.9 703.8,4004.9 704.8,4004.2 705.8,4003.7 706.8,4003.5 707.8,4003.5 708.8,4003.5 709.8,4003.6 710.8,4003.7 711.8,4003.9 712.8,4004.1 713.8,4004.3 714.8,4004.5 715.8,4004.7 716.8,4005.0 717.8,4005.3 718.8,4005.6 719.8,4005.9 720.8,4006.3 721.8,4006.6 722.8,4006.9 723.8,4007.2 724.8,4007.6 725.8,4007.9 726.8,4008.2 727.8,4008.5 728.8,4008.8 729.8,4009.1 730.8,4009.4 731.8,4009.6 732.8,4009.8 733.8,4010.1 734.8,4010.3 735.8,4010.5 736.8,4010.6 737.8,4010.8 738.8,4010.9 739.8,4011.1 740.8,4011.2 741.8,4011.3 742.8,4011.4 743.8,4011.5 744.8,4011.5 745.8,4011.6 746.8,4011.7 747.8,4011.7 748.8,4011.7 749.8,4011.8 750.8,4011.8 751.8,4011.8 752.8,4011.9 753.8,4011.9 754.8,4011.9 755.8,4011.9 756.8,4011.9 757.8,4011.9 758.8,4011.9 759.8,4011.9 760.8,4011.9 761.8,4011.9 762.8,4011.9 763.8,4012.0 764.8,4012.0 765.8,4012.0 766.8,4012.0 767.8,4012.0 768.8,4012.0 769.8,4012.0 770.8,4012.0 771.8,4012.0 772.8,4012.0 773.8,4012.0 774.8,4012.0 775.8,4012.0 776.8,4012.0 777.8,4012.0 778.8,4012.0 779.8,4012.0 780.8,4012.0 781.8,4012.0 782.8,4012.0 783.8,4012.0 784.8,4012.0 785.8,4012.0 786.8,4012.0 787.8,4012.0 788.8,4012.0 789.8,4011.9 790.8,4011.9 791.8,4011.9 792.8,4011.9 793.8,4011.9 794.8,4011.9 795.8,4011.9 796.8,4011.9 797.8,4011.9 798.8,4011.9 799.8,4011.9 800.8,4011.9 801.8,4011.9 802.8,4011.9 803.8,4011.9 804.8,4011.9 805.8,4011.9 806.8,4011.9 807.8,4011.9 808.8,4011.9 809.8,4011.9 810.8,4011.9 811.8,4011.9 812.8,4011.9 813.8,4011.9 814.8,4011.9 815.8,4011.9 816.8,4011.9 817.8,4011.9 818.8,4011.9 819.8,4011.9 820.8,4011.9 821.8,4011.9 822.8,4011.9 823.8,4011.9 824.8,4011.9 825.8,4011.9 826.8,4011.9 827.8,4011.9 828.8,4011.9 829.8,4011.9 830.8,4011.9 831.8,4011.9 832.8,4011.9 833.8,4011.9 834.8,4011.9 835.8,4011.9 836.8,4011.9 837.8,4011.9 838.8,4011.9 839.8,4011.9 840.8,4011.9 841.8,4011.9 842.8,4011.9 843.8,4011.9 844.8,4011.9 845.8,4011.9 846.8,4011.9 847.8,4011.9 848.8,4011.9 849.8,4011.9 850.8,4011.9 851.8,4011.9 852.8,4011.9 853.8,4011.9 854.8,4011.9 855.8,4011.9 856.8,4011.9 857.8,4011.9 858.8,4011.9 859.8,4011.9 860.8,4011.9 861.8,4011.9 862.8,4011.9 863.8,4011.9 864.8,4011.9 865.8,4011.9 866.8,4011.9 867.8,4011.9 868.8,4011.9 869.8,4011.9 870.8,4011.9 871.8,4011.9 872.8,4011.9 873.8,4011.9 874.8,4011.9 875.8,4011.9 876.8,4011.9 877.8,4011.9 878.8,4011.9 879.8,4011.9 880.8,4011.9 881.8,4011.9 882.8,4011.9 883.8,4011.9 884.8,4011.9 885.8,4011.9 886.8,4011.9 887.8,4011.9 888.8,4011.9 889.8,4011.9 890.8,4011.9 891.8,4011.9 892.8,4011.9 893.8,4011.9 894.8,4011.9 895.8,4011.9 896.8,4011.9 897.8,4011.9 898.8,4011.9 899.8,4011.9 900.8,4011.9 901.8,4011.9 902.8,4011.9 903.8,4011.9 904.8,4011.9 905.8,4011.9 906.8,4011.9 907.8,4011.9 908.8,4011.9 909.8,4011.9 910.8,4011.9 911.8,4011.9 912.8,4011.9 913.8,4011.9 914.8,4011.9 915.8,4011.9 916.8,4011.9 917.8,4011.9 918.8,4011.9 919.8,4011.9 920.8,4011.9 921.8,4011.9 922.8,4011.9 923.8,4011.9 924.8,4011.9 925.8,4011.9 926.8,4011.9 927.8,4011.9 928.8,4011.9 929.8,4011.9 930.8,4011.9 931.8,4011.9 932.8,4011.9 933.8,4011.9 934.8,4011.9 935.8,4011.9 936.8,4011.9 937.8,4011.9 938.8,4011.9 939.8,4011.9 940.8,4011.9 941.8,4011.9 942.8,4011.9 943.8,4011.9 944.8,4011.9 945.8,4011.9 946.8,4011.9 947.8,4011.9 948.8,4011.9 949.8,4011.9 950.8,4011.9 951.8,4011.9 952.8,4011.9 953.8,4011.9 954.8,4011.9 955.8,4011.9 956.8,4011.9 957.8,4011.9 958.8,4011.9 959.8,4011.9 960.8,4011.9 961.8,4011.9 962.8,4011.9 963.8,4011.9 964.8,4011.9 965.8,4011.9 966.8,4011.9 967.8,4011.9 968.8,4011.9 969.8,4011.9 970.8,4011.9 971.8,4011.9 972.8,4011.9 973.8,4011.9 974.8,4011.9 975.8,4011.9 976.8,4011.9 977.8,4011.9 978.8,4011.9 979.8,4011.9 980.8,4011.9 981.8,4011.9 982.8,4011.9 983.8,4011.9 984.8,4011.9 985.8,4011.9 986.8,4011.9 987.8,4011.9 988.8,4011.9 989.8,4011.9 990.8,4011.9 991.8,4011.9 992.8,4011.9 993.8,4011.9 994.8,4011.9 995.8,4011.9 996.8,4011.9 997.8,4011.9 998.8,4011.9 999.8,4011.9 1000.8,4011.9 1001.8,4011.8 1002.8,4011.8 1003.8,4011.8 1004.8,4011.8 1005.8,4011.8 1006.8,4011.8 1007.8,4011.8 1008.8,4011.8 1009.8,4011.8 1010.8,4011.8 1011.8,4011.8 1012.8,4011.8 1013.8,4011.8 1014.8,4011.8 1015.8,4011.8 1016.8,4011.8 1017.8,4011.8 1018.8,4011.8 1019.8,4011.8 1020.8,4011.8 1021.8,4011.8 1022.8,4011.8 1023.8,4011.8 1024.8,4011.8 1025.8,4011.8 1026.8,4011.8 1027.8,4011.8 1028.8,4011.8 1029.8,4011.8 1030.8,4011.8 1031.8,4011.8 1032.8,4011.8 1033.8,4011.8 1034.8,4011.8 1035.8,4011.8 1036.8,4011.8 1037.8,4011.8 1038.8,4011.8 1039.8,4011.8 1040.8,4011.8 1041.8,4011.8 1042.8,4011.8 1043.8,4011.8 1044.8,4011.8 1045.8,4011.8 1046.8,4011.8 1047.8,4011.8 1048.8,4011.8 1049.8,4011.8 1050.8,4011.8 1051.8,4011.8 1052.8,4011.8 1053.8,4011.8 1054.8,4011.8 1055.8,4011.8 1056.8,4011.8 1057.8,4011.8 1058.8,4011.8 1059.8,4011.8 1060.8,4011.8 1061.8,4011.8 1062.8,4011.8 1063.8,4011.8 1064.8,4011.8 1065.8,4011.8 1066.8,4011.8 1067.8,4011.8 1068.8,4011.8 1069.8,4011.8 1070.8,4011.8 1071.8,4011.8 1072.8,4011.8 1073.8,4011.8 1074.8,4011.8 1075.8,4011.8 1076.8,4011.8 1077.8,4011.8 1078.8,4011.8 1079.8,4011.8 1080.8,4011.8 1081.8,4011.8 1082.8,4011.8 1083.8,4011.8 1084.8,4011.8 1085.8,4011.8 1086.8,4011.8 1087.8,4011.8 1088.8,4011.8 1089.8,4011.8 1090.8,4011.8 1091.8,4011.8 1092.8,4011.8 1093.8,4011.8 1094.8,4011.8 1095.8,4011.8 1096.8,4011.8 1097.8,4011.8 1098.8,4011.8 1099.8,4011.8 1100.8,4011.8 1101.8,4011.8 1102.8,4011.8 1103.8,4011.8 1104.8,4011.8 1105.8,4011.8 1106.8,4011.8 1107.8,4011.8 1108.8,4011.8 1109.8,4011.8 1110.8,4011.8 1111.8,4011.8 1112.8,4011.8 1113.8,4011.8 1114.8,4011.8 1115.8,4011.8 1116.8,4011.8 1117.8,4011.8 1118.8,4011.8 1119.8,4011.8 1120.8,4011.8 1121.8,4011.8 1122.8,4011.8 1123.8,4011.8 1124.8,4011.8 1125.8,4011.8 1126.8,4011.8 1127.8,4011.8 1128.8,4011.8 1129.8,4011.8 1130.8,4011.8 1131.8,4011.8 1132.8,4011.8 1133.8,4011.8 1134.8,4011.8 1135.8,4011.8 1136.8,4011.8 1137.8,4011.8 1138.8,4011.8 1139.8,4011.8 1140.8,4011.8 1141.8,4011.8 1142.8,4011.8 1143.8,4011.8 1144.8,4011.8 1145.8,4011.8 1146.8,4011.8 1147.8,4011.8 1148.8,4011.8 1149.8,4011.8 1150.8,4011.8 1151.8,4011.8 1152.8,4011.8 1153.8,4011.8 1154.8,4011.8 1155.8,4011.8 1156.8,4011.8 1157.8,4011.8 1158.8,4011.8 1159.8,4011.8 1160.8,4011.8 1161.8,4011.8 1162.8,4011.8 1163.8,4011.8 1164.8,4011.8 1165.8,4011.8 1166.8,4011.8 1167.8,4011.8 1168.8,4011.8 1169.8,4011.8 1170.8,4011.8 1171.8,4011.8 1172.8,4011.8 1173.8,4011.8 1174.8,4011.8 1175.8,4011.8 1176.8,4011.8 1177.8,4011.8 1178.8,4011.8 1179.8,4011.8 1180.8,4011.8 1181.8,4011.8 1182.8,4011.8 1183.8,4011.8 1184.8,4011.8 1185.8,4011.8 1186.8,4011.8 1187.8,4011.8 1188.8,4011.8 1189.8,4011.8 1190.8,4011.8 1191.8,4011.8 1192.8,4011.8 1193.8,4011.8 1194.8,4011.8 1195.8,4011.8 1196.8,4011.8 1197.8,4011.8 1198.8,4011.8 1199.8,4011.8 1200.8,4011.8 1201.8,4011.8 1202.8,4011.8 1203.8,4011.8 1204.8,4011.8 1205.8,4011.8 1206.8,4011.8 1207.8,4011.8 1208.8,4011.8 1209.8,4011.8 1210.8,4011.8 1211.8,4011.8 1212.8,4011.8 1213.8,4011.8 1214.8,4011.7 1215.8,4011.7 1216.8,4011.7 1217.8,4011.7 1218.8,4011.7 1219.8,4011.7 1220.8,4011.7 1221.8,4011.7 1222.8,4011.7 1223.8,4011.7 1224.8,4011.7 1225.8,4011.7 1226.8,4011.7 1227.8,4011.7 1228.8,4011.7 1229.8,4011.7 1230.8,4011.7 1231.8,4011.7 1232.8,4011.7 1233.8,4011.7 1234.8,4011.7 1235.8,4011.7 1236.8,4011.7 1237.8,4011.7 1238.8,4011.7 1239.8,4011.7 1240.8,4011.7 1241.8,4011.7 1242.8,4011.7 1243.8,4011.7 1244.8,4011.7 1245.8,4011.7 1246.8,4011.7 1247.8,4011.7 1248.8,4011.7 1249.8,4011.7 1250.8,4011.7 1251.8,4011.7 1252.8,4011.7 1253.8,4011.7 1254.8,4011.7 1255.8,4011.7 1256.8,4011.7 1257.8,4011.7 1258.8,4011.7 1259.8,4011.7 1260.8,4011.7 1261.8,4011.7 1262.8,4011.7 1263.8,4011.7 1264.8,4011.7 1265.8,4011.7 1266.8,4011.7 1267.8,4011.7 1268.8,4011.7 1269.8,4011.7 1270.8,4011.7 1271.8,4011.7 1272.8,4011.7 1273.8,4011.7 1274.8,4011.7 1275.8,4011.7 1276.8,4011.7 1277.8,4011.7 1278.8,4011.7 1279.8,4011.7 1280.8,4011.7 1281.8,4011.7 1282.8,4011.7 1283.8,4011.7 1284.8,4011.7 1285.8,4011.7 1286.8,4011.7 1287.8,4011.7 1288.8,4011.7 1289.8,4011.7 1290.8,4011.7 1291.8,4011.7 1292.8,4011.7 1293.8,4011.7 1294.8,4011.7 1295.8,4011.7 1296.8,4011.7 1297.8,4011.7 1298.8,4011.7 1299.8,4011.7 1300.8,4011.7 1301.8,4011.7 1302.8,4011.7 1303.8,4011.7 1304.8,4011.7 1305.8,4011.7 1306.8,4011.7 1307.8,4011.7 1308.8,4011.7 1309.8,4011.7 1310.8,4011.7 1311.8,4011.7 1312.8,4011.7 1313.8,4011.7 1314.8,4011.7 1315.8,4011.7 1316.8,4011.7 1317.8,4011.7 1318.8,4011.7 1319.8,4011.7 1320.8,4011.7 1321.8,4011.7 1322.8,4011.7 1323.8,4011.7 1324.8,4011.7 1325.8,4011.7 1326.8,4011.7 1327.8,4011.7 1328.8,4011.7 1329.8,4011.7 1330.8,4011.7 1331.8,4011.7 1332.8,4011.7 1333.8,4011.7 1334.8,4011.7 1335.8,4011.7 1336.8,4011.7 1337.8,4011.7 1338.8,4011.7 1339.8,4011.7 1340.8,4011.7 1341.8,4011.7 1342.8,4011.7 1343.8,4011.7 1344.8,4011.7 1345.8,4011.7 1346.8,4011.7 1347.8,4011.7 1348.8,4011.7 1349.8,4011.7 1350.8,4011.6 1351.8,4011.5 1352.8,4011.3 1353.8,4011.0 1354.8,4010.2 1355.8,4008.9 1356.8,4006.6 1357.8,4002.8 1358.8,3997.0 1359.8,3988.5 1360.8,3977.1 1361.8,3962.4 1362.8,3945.0 1363.8,3925.7 1364.8,3906.2 1365.8,3888.5 1366.8,3874.9 1367.8,3867.1 1368.8,3866.4 1369.8,3871.1 1370.8,3879.7 1371.8,3891.3 1372.8,3904.8 1373.8,3919.3 1374.8,3933.5 1375.8,3946.6 1376.8,3958.2 1377.8,3967.8 1378.8,3975.5 1379.8,3981.4 1380.8,3985.8 1381.8,3989.0 1382.8,3991.3 1383.8,3993.0 1384.8,3994.2 1385.8,3995.1 1386.8,3995.8 1387.8,3996.5 1388.8,3997.0 1389.8,3997.5 1390.8,3998.0 1391.8,3998.5 1392.8,3998.9 1393.8,3999.4 1394.8,3999.8 1395.8,4000.2 1396.8,4000.6 1397.8,4000.9 1398.8,4001.3 1399.8,4001.6 1400.8,4002.0 1401.8,4002.3 1402.8,4002.6 1403.8,4002.9 1404.8,4003.2 1405.8,4003.5 1406.8,4003.8 1407.8,4004.0 1408.8,4004.3 1409.8,4004.5 1410.8,4004.8 1411.8,4005.0 1412.8,4005.2 1413.8,4005.4 1414.8,4005.6 1415.8,4005.8 1416.8,4006.0 1417.8,4006.2 1418.8,4006.4 1419.8,4006.6 1420.8,4006.7 1421.8,4006.9 1422.8,4007.1 1423.8,4007.2 1424.8,4007.4 1425.8,4007.5 1426.8,4007.7 1427.8,4007.8 1428.8,4007.9 1429.8,4008.0 1430.8,4008.2 1431.8,4008.3 1432.8,4008.4 1433.8,4008.5 1434.8,4008.6 1435.8,4008.7 1436.8,4008.8 1437.8,4008.9 1438.8,4009.0 1439.8,4009.1 1440.8,4009.2 1441.8,4009.2 1442.8,4009.3 1443.8,4009.4 1444.8,4009.5 1445.8,4009.5 1446.8,4009.6 1447.8,4009.7 1448.8,4009.8 1449.8,4009.8 1450.8,4009.9 1451.8,4009.9 1452.8,4010.0 1453.8,4010.0 1454.8,4010.1 1455.8,4010.1 1456.8,4010.2 1457.8,4010.2 1458.8,4010.3 1459.8,4010.3 1460.8,4010.4 1461.8,4010.4 1462.8,4010.5 1463.8,4010.5 1464.8,4010.5 1465.8,4010.6 1466.8,4010.6 1467.8,4010.6 1468.8,4010.7 1469.8,4010.7 1470.8,4010.7 1471.8,4010.8 1472.8,4010.8 1473.8,4010.8 1474.8,4010.8 1475.8,4010.9 1476.8,4010.9 1477.8,4010.9 1478.8,4010.9 1479.8,4011.0 1480.8,4011.0 1481.8,4011.0 1482.8,4011.0 1483.8,4011.0 1484.8,4011.1 1485.8,4011.1 1486.8,4011.1 1487.8,4011.1 1488.8,4011.1 1489.8,4011.2 1490.8,4011.2 1491.8,4011.2 1492.8,4011.2 1493.8,4011.2 1494.8,4011.2 1495.8,4011.2 1496.8,4011.2 1497.8,4011.3 1498.8,4011.3 1499.8,4011.3 1500.8,4011.3 1501.8,4011.3 1502.8,4011.3 1503.8,4011.3 1504.8,4011.3 1505.8,4011.3 1506.8,4011.4 1507.8,4011.4 1508.8,4011.4 1509.8,4011.4 1510.8,4011.4 1511.8,4011.4 1512.8,4011.4 1513.8,4011.4 1514.8,4011.4 1515.8,4011.4 1516.8,4011.4 1517.8,4011.4 1518.8,4011.4 1519.8,4011.4 1520.8,4011.4 1521.8,4011.4 1522.8,4011.5 1523.8,4011.5 1524.8,4011.5 1525.8,4011.5 1526.8,4011.5 1527.8,4011.5 1528.8,4011.5 1529.8,4011.5 1530.8,4011.5 1531.8,4011.5 1532.8,4011.5 1533.8,4011.5 1534.8,4011.5 1535.8,4011.5 1536.8,4011.5 1537.8,4011.5 1538.8,4011.5 1539.8,4011.5 1540.8,4011.5 1541.8,4011.5 1542.8,4011.5 1543.8,4011.5 1544.8,4011.5 1545.8,4011.5 1546.8,4011.5 1547.8,4011.5 1548.8,4011.5 1549.8,4011.5 1550.8,4011.5 1551.8,4011.5 1552.8,4011.5 1553.8,4011.5 1554.8,4011.5 1555.8,4011.5 1556.8,4011.5 1557.8,4011.5 1558.8,4011.5 1559.8,4011.5 1560.8,4011.5 1561.8,4011.5 1562.8,4011.5 1563.8,4011.5 1564.8,4011.5 1565.8,4011.5 1566.8,4011.6 1567.8,4011.6 1568.8,4011.6 1569.8,4011.6 1570.8,4011.6 1571.8,4011.6 1572.8,4011.6 1573.8,4011.6 1574.8,4011.6 1575.8,4011.6 1576.8,4011.6 1577.8,4011.6 1578.8,4011.6 1579.8,4011.6 1580.8,4011.6 1581.8,4011.6 1582.8,4011.6 1583.8,4011.6 1584.8,4011.6 1585.8,4011.6 1586.8,4011.6 1587.8,4011.6 1588.8,4011.6 1589.8,4011.6 1590.8,4011.6 1591.8,4011.6 1592.8,4011.6 1593.8,4011.6 1594.8,4011.6 1595.8,4011.6 1596.8,4011.6 1597.8,4011.6 1598.8,4011.6 1599.8,4011.6 1600.8,4011.6 1601.8,4011.6 1602.8,4011.6 1603.8,4011.6 1604.8,4011.6 1605.8,4011.6 1606.8,4011.6 1607.8,4011.6 1608.8,4011.6 1609.8,4011.6 1610.8,4011.6 1611.8,4011.6 1612.8,4011.6 1613.8,4011.6 1614.8,4011.6 1615.8,4011.6 1616.8,4011.6 1617.8,4011.6 1618.8,4011.6 1619.8,4011.6 1620.8,4011.6 1621.8,4011.6 1622.8,4011.6 1623.8,4011.6 1624.8,4011.6 1625.8,4011.6 1626.8,4011.6 1627.8,4011.6 1628.8,4011.6 1629.8,4011.6 1630.8,4011.6 1631.8,4011.5 1632.8,4011.5 1633.8,4011.5 1634.8,4011.5 1635.8,4011.5 1636.8,4011.5 1637.8,4011.5 1638.8,4011.5 1639.8,4011.5 1640.8,4011.5 1641.8,4011.5 1642.8,4011.5 1643.8,4011.5 1644.8,4011.5 1645.8,4011.5 1646.8,4011.5 1647.8,4011.5 1648.8,4011.5 1649.8,4011.5 1650.8,4011.5 1651.8,4011.5 1652.8,4011.5 1653.8,4011.5 1654.8,4011.5 1655.8,4011.5 1656.8,4011.5 1657.8,4011.5 1658.8,4011.5 1659.8,4011.5 1660.8,4011.5 1661.8,4011.5 1662.8,4011.5 1663.8,4011.5 1664.8,4011.5 1665.8,4011.5 1666.8,4011.5 1667.8,4011.5 1668.8,4011.5 1669.8,4011.5 1670.8,4011.5 1671.8,4011.5 1672.8,4011.5 1673.8,4011.5 1674.8,4011.5 1675.8,4011.5 1676.8,4011.5 1677.8,4011.5 1678.8,4011.5 1679.8,4011.5 1680.8,4011.5 1681.8,4011.5 1682.8,4011.5 1683.8,4011.5 1684.8,4011.5 1685.8,4011.5 1686.8,4011.5 1687.8,4011.5 1688.8,4011.5 1689.8,4011.5 1690.8,4011.5 1691.8,4011.5 1692.8,4011.5 1693.8,4011.5 1694.8,4011.5 1695.8,4011.5 1696.8,4011.5 1697.8,4011.5 1698.8,4011.5 1699.8,4011.5 1700.8,4011.5 1701.8,4011.5 1702.8,4011.5 1703.8,4011.5 1704.8,4011.5 1705.8,4011.5 1706.8,4011.5 1707.8,4011.5 1708.8,4011.5 1709.8,4011.5 1710.8,4011.5 1711.8,4011.5 1712.8,4011.5 1713.8,4011.5 1714.8,4011.5 1715.8,4011.5 1716.8,4011.5 1717.8,4011.5 1718.8,4011.5 1719.8,4011.5 1720.8,4011.5 1721.8,4011.5 1722.8,4011.5 1723.8,4011.5 1724.8,4011.5 1725.8,4011.5 1726.8,4011.5 1727.8,4011.5 1728.8,4011.5 1729.8,4011.5 1730.8,4011.5 1731.8,4011.5 1732.8,4011.5 1733.8,4011.5 1734.8,4011.5 1735.8,4011.5 1736.8,4011.5 1737.8,4011.5 1738.8,4011.5 1739.8,4011.5 1740.8,4011.5 1741.8,4011.5 1742.8,4011.5 1743.8,4011.5 1744.8,4011.5 1745.8,4011.5 1746.8,4011.5 1747.8,4011.5 1748.8,4011.5 1749.8,4011.5 1750.8,4011.5 1751.8,4011.5 1752.8,4011.5 1753.8,4011.5 1754.8,4011.5 1755.8,4011.5 1756.8,4011.5 1757.8,4011.5 1758.8,4011.5 1759.8,4011.5 1760.8,4011.5 1761.8,4011.5 1762.8,4011.5 1763.8,4011.5 1764.8,4011.5 1765.8,4011.5 1766.8,4011.5 1767.8,4011.5 1768.8,4011.5 1769.8,4011.5 1770.8,4011.5 1771.8,4011.5 1772.8,4011.5 1773.8,4011.5 1774.8,4011.5 1775.8,4011.5 1776.8,4011.5 1777.8,4011.5 1778.8,4011.5 1779.8,4011.5 1780.8,4011.5 1781.8,4011.5 1782.8,4011.5 1783.8,4011.5 1784.8,4011.5 1785.8,4011.5 1786.8,4011.5 1787.8,4011.5 1788.8,4011.5 1789.8,4011.5 1790.8,4011.5 1791.8,4011.5 1792.8,4011.5 1793.8,4011.5 1794.8,4011.5 1795.8,4011.5 1796.8,4011.5 1797.8,4011.5 1798.8,4011.5 1799.8,4011.5 1800.8,4011.5 1801.8,4011.5 1802.8,4011.5 1803.8,4011.5 1804.8,4011.5 1805.8,4011.5 1806.8,4011.5 1807.8,4011.5 1808.8,4011.5 1809.8,4011.5 1810.8,4011.5 1811.8,4011.5 1812.8,4011.5 1813.8,4011.5 1814.8,4011.5 1815.8,4011.5 1816.8,4011.5 1817.8,4011.5 1818.8,4011.5 1819.8,4011.5 1820.8,4011.5 1821.8,4011.5 1822.8,4011.5 1823.8,4011.5 1824.8,4011.5 1825.8,4011.5 1826.8,4011.5 1827.8,4011.5 1828.8,4011.5 1829.8,4011.5 1830.8,4011.5 1831.8,4011.5 1832.8,4011.5 1833.8,4011.5 1834.8,4011.5 1835.8,4011.5 1836.8,4011.5 1837.8,4011.5 1838.8,4011.5 1839.8,4011.5 1840.8,4011.5 1841.8,4011.5 1842.8,4011.5 1843.8,4011.5 1844.8,4011.5 1845.8,4011.5 1846.8,4011.5 1847.8,4011.5 1848.8,4011.5 1849.8,4011.5 1850.8,4011.5 1851.8,4011.5 1852.8,4011.4 1853.8,4011.4 1854.8,4011.4 1855.8,4011.4 1856.8,4011.4 1857.8,4011.4 1858.8,4011.4 1859.8,4011.4 1860.8,4011.4 1861.8,4011.4 1862.8,4011.4 1863.8,4011.4 1864.8,4011.4 1865.8,4011.4 1866.8,4011.4 1867.8,4011.4 1868.8,4011.4 1869.8,4011.4 1870.8,4011.4 1871.8,4011.4 1872.8,4011.4 1873.8,4011.4 1874.8,4011.4 1875.8,4011.4 1876.8,4011.4 1877.8,4011.4 1878.8,4011.4 1879.8,4011.4 1880.8,4011.4 1881.8,4011.4 1882.8,4011.4 1883.8,4011.4 1884.8,4011.4 1885.8,4011.4 1886.8,4011.4 1887.8,4011.4 1888.8,4011.4 1889.8,4011.4 1890.8,4011.4 1891.8,4011.4 1892.8,4011.4 1893.8,4011.4 1894.8,4011.4 1895.8,4011.4 1896.8,4011.4 1897.8,4011.4 1898.8,4011.4 1899.8,4011.4 1900.8,4011.4 1901.8,4011.4 1902.8,4011.4 1903.8,4011.4 1904.8,4011.4 1905.8,4011.4 1906.8,4011.4 1907.8,4011.4 1908.8,4011.4 1909.8,4011.4 1910.8,4011.4 1911.8,4011.4 1912.8,4011.4 1913.8,4011.4 1914.8,4011.4 1915.8,4011.4 1916.8,4011.4 1917.8,4011.4 1918.8,4011.4 1919.8,4011.4 1920.8,4011.4 1921.8,4011.4 1922.8,4011.4 1923.8,4011.4 1924.8,4011.4 1925.8,4011.4 1926.8,4011.4 1927.8,4011.4 1928.8,4011.4 1929.8,4011.4 1930.8,4011.4 1931.8,4011.4 1932.8,4011.4 1933.8,4011.4 1934.8,4011.4 1935.8,4011.4 1936.8,4011.4 1937.8,4011.4 1938.8,4011.4 1939.8,4011.4 1940.8,4011.4 1941.8,4011.4 1942.8,4011.4 1943.8,4011.4 1944.8,4011.4 1945.8,4011.4 1946.8,4011.4 1947.8,4011.4 1948.8,4011.4 1949.8,4011.4 1950.8,4011.4 1951.8,4011.4 1952.8,4011.4 1953.8,4011.4 1954.8,4011.4 1955.8,4011.4 1956.8,4011.4 1957.8,4011.4 1958.8,4011.4 1959.8,4011.4 1960.8,4011.4 1961.8,4011.4 1962.8,4011.4 1963.8,4011.4 1964.8,4011.4 1965.8,4011.4 1966.8,4011.4 1967.8,4011.4 1968.8,4011.4 1969.8,4011.4 1970.8,4011.4 1971.8,4011.4 1972.8,4011.4 1973.8,4011.4 1974.8,4011.4 1975.8,4011.4 1976.8,4011.4 1977.8,4011.4 1978.8,4011.4 1979.8,4011.4 1980.8,4011.4 1981.8,4011.4 1982.8,4011.4 1983.8,4011.4 1984.8,4011.4 1985.8,4011.4 1986.8,4011.4 1987.8,4011.4 1988.8,4011.4 1989.8,4011.4 1990.8,4011.4 1991.8,4011.4 1992.8,4011.4 1993.8,4011.4 1994.8,4011.4 1995.8,4011.4 1996.8,4011.4 1997.8,4011.4 1998.8,4011.4 1999.8,4011.4 2000.8,4011.4 2001.8,4011.4 2002.8,4011.4 2003.8,4011.4 2004.8,4011.4 2005.8,4011.4 2006.8,4011.4 2007.8,4011.4 2008.8,4011.4 2009.8,4011.4 2010.8,4011.4 2011.8,4011.4 2012.8,4011.4 2013.8,4011.4 2014.8,4011.4 2015.8,4011.4 2016.8,4011.4 2017.8,4011.4 2018.8,4011.4 2019.8,4011.4 2020.8,4011.4 2021.8,4011.4 2022.8,4011.4 2023.8,4011.4 2024.8,4011.4 2025.8,4011.4 2026.8,4011.4 2027.8,4011.4 2028.8,4011.4 2029.8,4011.4 2030.8,4011.4 2031.8,4011.4 2032.8,4011.4 2033.8,4011.4 2034.8,4011.4 2035.8,4011.4 2036.8,4011.4 2037.8,4011.4 2038.8,4011.4 2039.8,4011.4 2040.8,4011.4 2041.8,4011.4 2042.8,4011.4 2043.8,4011.4 2044.8,4011.4 2045.8,4011.4 2046.8,4011.4 2047.8,4011.4 2048.8,4011.4 2049.8,4011.4 2050.8,4011.4 2051.8,4011.4 2052.8,4011.4 2053.8,4011.4 2054.8,4011.4 2055.8,4011.4 2056.8,4011.4 2057.8,4011.4 2058.8,4011.4 2059.8,4011.4 2060.8,4011.4 2061.8,4011.4 2062.8,4011.4 2063.8,4011.4 2064.8,4011.3 2065.8,4011.3 2066.8,4011.3 2067.8,4011.3 2068.8,4011.3 2069.8,4011.3 2070.8,4011.3 2071.8,4011.3 2072.8,4011.3 2073.8,4011.3 2074.8,4011.3 2075.8,4011.3 2076.8,4011.3 2077.8,4011.3 2078.8,4011.3 2079.8,4011.3 2080.8,4011.3 2081.8,4011.3 2082.8,4011.3 2083.8,4011.3 2084.8,4011.3 2085.8,4011.3 2086.8,4011.3 2087.8,4011.3 2088.8,4011.3 2089.8,4011.3 2090.8,4011.3 2091.8,4011.3 2092.8,4011.3 2093.8,4011.3 2094.8,4011.3 2095.8,4011.3 2096.8,4011.3 2097.8,4011.3 2098.8,4011.3 2099.8,4011.3 2100.8,4011.3 2101.8,4011.3 2102.8,4011.3 2103.8,4011.3 2104.8,4011.3 2105.8,4011.3 2106.8,4011.3 2107.8,4011.3 2108.8,4011.3 2109.8,4011.3 2110.8,4011.3 2111.8,4011.3 2112.8,4011.3 2113.8,4011.3 2114.8,4011.3 2115.8,4011.3 2116.8,4011.3 2117.8,4011.3 2118.8,4011.3 2119.8,4011.3 2120.8,4011.3 2121.8,4011.3 2122.8,4011.3 2123.8,4011.3 2124.8,4011.3 2125.8,4011.3 2126.8,4011.3 2127.8,4011.3 2128.8,4011.3 2129.8,4011.3 2130.8,4011.3 2131.8,4011.3 2132.8,4011.3 2133.8,4011.3 2134.8,4011.3 2135.8,4011.3 2136.8,4011.3 2137.8,4011.3 2138.8,4011.3 2139.8,4011.3 2140.8,4011.3 2141.8,4011.3 2142.8,4011.3 2143.8,4011.3 2144.8,4011.3 2145.8,4011.3 2146.8,4011.3 2147.8,4011.3 2148.8,4011.3 2149.8,4011.3 2150.8,4011.3 2151.8,4011.3 2152.8,4011.3 2153.8,4011.3 2154.8,4011.3 2155.8,4011.3 2156.8,4011.3 2157.8,4011.3 2158.8,4011.3 2159.8,4011.3 2160.8,4011.3 2161.8,4011.3 2162.8,4011.3 2163.8,4011.3 2164.8,4011.3 2165.8,4011.3 2166.8,4011.3 2167.8,4011.3 2168.8,4011.3 2169.8,4011.3 2170.8,4011.3 2171.8,4011.3 2172.8,4011.3 2173.8,4011.3 2174.8,4011.3 2175.8,4011.3 2176.8,4011.3 2177.8,4011.3 2178.8,4011.3 2179.8,4011.3 2180.8,4011.3 2181.8,4011.3 2182.8,4011.3 2183.8,4011.3 2184.8,4011.3 2185.8,4011.3 2186.8,4011.3 2187.8,4011.3 2188.8,4011.3 2189.8,4011.3 2190.8,4011.3 2191.8,4011.3 2192.8,4011.3 2193.8,4011.3 2194.8,4011.3 2195.8,4011.3 2196.8,4011.3 2197.8,4011.3 2198.8,4011.3 2199.8,4011.3 2200.8,4011.3 2201.8,4011.3 2202.8,4011.3 2203.8,4011.3 2204.8,4011.3 2205.8,4011.3 2206.8,4011.3 2207.8,4011.3 2208.8,4011.3 2209.8,4011.3 2210.8,4011.3 2211.8,4011.3 2212.8,4011.3 2213.8,4011.3 2214.8,4011.3 2215.8,4011.3 2216.8,4011.3 2217.8,4011.3 2218.8,4011.3 2219.8,4011.3 2220.8,4011.3 2221.8,4011.3 2222.8,4011.3 2223.8,4011.3 2224.8,4011.3 2225.8,4011.3 2226.8,4011.3 2227.8,4011.3 2228.8,4011.3 2229.8,4011.3 2230.8,4011.3 2231.8,4011.3 2232.8,4011.3 2233.8,4011.3 2234.8,4011.3 2235.8,4011.3 2236.8,4011.3 2237.8,4011.3 2238.8,4011.3 2239.8,4011.3 2240.8,4011.3 2241.8,4011.3 2242.8,4011.3 2243.8,4011.3 2244.8,4011.3 2245.8,4011.3 2246.8,4011.3 2247.8,4011.3 2248.8,4011.3 2249.8,4011.3 2250.8,4011.3 2251.8,4011.3 2252.8,4011.3 2253.8,4011.3 2254.8,4011.3 2255.8,4011.3 2256.8,4011.3 2257.8,4011.3 2258.8,4011.3 2259.8,4011.3 2260.8,4011.3 2261.8,4011.3 2262.8,4011.3 2263.8,4011.3 2264.8,4011.3 2265.8,4011.3 2266.8,4011.3 2267.8,4011.3 2268.8,4011.3 2269.8,4011.3 2270.8,4011.3 2271.8,4011.3 2272.8,4011.3 2273.8,4011.3 2274.8,4011.3 2275.8,4011.3 2276.8,4011.3 2277.8,4011.2 2278.8,4011.2 2279.8,4011.2 2280.8,4011.2 2281.8,4011.2 2282.8,4011.2 2283.8,4011.2 2284.8,4011.2 2285.8,4011.2 2286.8,4011.2 2287.8,4011.2 2288.8,4011.2 2289.8,4011.2 2290.8,4011.2 2291.8,4011.2 2292.8,4011.2 2293.8,4011.2 2294.8,4011.2 2295.8,4011.2 2296.8,4011.2 2297.8,4011.2 2298.8,4011.2 2299.8,4011.2 2300.8,4011.2 2301.8,4011.2 2302.8,4011.2 2303.8,4011.2 2304.8,4011.2 2305.8,4011.2 2306.8,4011.2 2307.8,4011.2 2308.8,4011.2 2309.8,4011.2 2310.8,4011.2 2311.8,4011.2 2312.8,4011.2 2313.8,4011.2 2314.8,4011.2 2315.8,4011.2 2316.8,4011.2 2317.8,4011.2 2318.8,4011.2 2319.8,4011.2 2320.8,4011.2 2321.8,4011.2 2322.8,4011.2 2323.8,4011.2 2324.8,4011.2 2325.8,4011.2 2326.8,4011.2 2327.8,4011.2 2328.8,4011.2 2329.8,4011.2 2330.8,4011.2 2331.8,4011.2 2332.8,4011.1 2333.8,4011.0 2334.8,4010.8 2335.8,4010.3 2336.8,4009.5 2337.8,4007.9 2338.8,4005.2 2339.8,4000.9 2340.8,3994.4 2341.8,3985.0 2342.8,3972.4 2343.8,3956.5 2344.8,3937.8 2345.8,3917.6 2346.8,3897.5 2347.8,3879.7 2348.8,3866.6 2349.8,3859.9 2350.8,3860.5 2351.8,3866.3 2352.8,3875.8 2353.8,3888.4 2354.8,3902.7 2355.8,3917.7 2356.8,3932.3 2357.8,3945.7 2358.8,3957.3 2359.8,3966.9 2360.8,3974.5 2361.8,3980.3 2362.8,3984.6 2363.8,3987.7 2364.8,3989.9 2365.8,3991.5 2366.8,3992.6 2367.8,3993.6 2368.8,3994.3 2369.8,3994.9 2370.8,3995.5 2371.8,3996.0 2372.8,3996.5 2373.8,3997.0 2374.8,3997.4 2375.8,3997.9 2376.8,3998.3 2377.8,3998.7 2378.8,3999.1 2379.8,3999.5 2380.8,3999.8 2381.8,4000.2 2382.8,4000.5 2383.8,4000.9 2384.8,4001.2 2385.8,4001.5 2386.8,4001.8 2387.8,4002.1 2388.8,4002.4 2389.8,4002.7 2390.8,4003.0 2391.8,4003.2 2392.8,4003.5 2393.8,4003.7 2394.8,4003.9 2395.8,4004.2 2396.8,4004.4 2397.8,4004.6 2398.8,4004.8 2399.8,4005.0 2400.8,4005.2 2401.8,4005.4 2402.8,4005.6 2403.8,4005.8 2404.8,4005.9 2405.8,4006.1 2406.8,4006.3 2407.8,4006.4 2408.8,4006.6 2409.8,4006.7 2410.8,4006.9 2411.8,4007.0 2412.8,4007.1 2413.8,4007.3 2414.8,4007.4 2415.8,4007.5 2416.8,4007.6 2417.8,4007.7 2418.8,4007.8 2419.8,4007.9 2420.8,4008.0 2421.8,4008.1 2422.8,4008.2 2423.8,4008.3 2424.8,4008.4 2425.8,4008.5 2426.8,4008.6 2427.8,4008.7 2428.8,4008.8 2429.8,4008.8 2430.8,4008.9 2431.8,4009.0 2432.8,4009.0 2433.8,4009.1 2434.8,4009.2 2435.8,4009.2 2436.8,4009.3 2437.8,4009.4 2438.8,4009.4 2439.8,4009.5 2440.8,4009.5 2441.8,4009.6 2442.8,4009.6 2443.8,4009.7 2444.8,4009.7 2445.8,4009.8 2446.8,4009.8 2447.8,4009.9 2448.8,4009.9 2449.8,4009.9 2450.8,4010.0 2451.8,4010.0 2452.8,4010.0 2453.8,4010.1 2454.8,4010.1 2455.8,4010.1 2456.8,4010.2 2457.8,4010.2 2458.8,4010.2 2459.8,4010.3 2460.8,4010.3 2461.8,4010.3 2462.8,4010.3 2463.8,4010.4 2464.8,4010.4 2465.8,4010.4 2466.8,4010.4 2467.8,4010.5 2468.8,4010.5 2469.8,4010.5 2470.8,4010.5 2471.8,4010.5 2472.8,4010.6 2473.8,4010.6 2474.8,4010.6 2475.8,4010.6 2476.8,4010.6 2477.8,4010.7 2478.8,4010.7 2479.8,4010.7 2480.8,4010.7 2481.8,4010.7 2482.8,4010.7 2483.8,4010.7 2484.8,4010.8 2485.8,4010.8 2486.8,4010.8 2487.8,4010.8 2488.8,4010.8 2489.8,4010.8 2490.8,4010.8 2491.8,4010.8 2492.8,4010.8 2493.8,4010.8 2494.8,4010.9 2495.8,4010.9 2496.8,4010.9 2497.8,4010.9 2498.8,4010.9 2499.8,4010.9 2500.8,4010.9 2501.8,4010.9 2502.8,4010.9 2503.8,4010.9 2504.8,4010.9 2505.8,4010.9 2506.8,4010.9 2507.8,4011.0 2508.8,4011.0 2509.8,4011.0 2510.8,4011.0 2511.8,4011.0 2512.8,4011.0 2513.8,4011.0 2514.8,4011.0 2515.8,4011.0 2516.8,4011.0 2517.8,4011.0 2518.8,4011.0 2519.8,4011.0 2520.8,4011.0 2521.8,4011.0 2522.8,4011.0 2523.8,4011.0 2524.8,4011.0 2525.8,4011.0 2526.8,4011.0 2527.8,4011.0 2528.8,4011.0 2529.8,4011.0 2530.8,4011.0 2531.8,4011.0 2532.8,4011.0 2533.8,4011.0 2534.8,4011.0 2535.8,4011.1 2536.8,4011.1 2537.8,4011.1 2538.8,4011.1 2539.8,4011.1 2540.8,4011.1 2541.8,4011.1 2542.8,4011.1 2543.8,4011.1 2544.8,4011.1 2545.8,4011.1 2546.8,4011.1 2547.8,4011.1 2548.8,4011.1 2549.8,4011.1 2550.8,4011.1 2551.8,4011.1 2552.8,4011.1 2553.8,4011.1 2554.8,4011.1 2555.8,4011.1 2556.8,4011.1 2557.8,4011.1 2558.8,4011.1 2559.8,4011.1 2560.8,4011.1 2561.8,4011.1 2562.8,4011.1 2563.8,4011.1 2564.8,4011.1 2565.8,4011.1 2566.8,4011.1 2567.8,4011.1 2568.8,4011.1 2569.8,4011.1 2570.8,4011.1 2571.8,4011.1 2572.8,4011.1 2573.8,4011.1 2574.8,4011.1 2575.8,4011.1 2576.8,4011.1 2577.8,4011.1 2578.8,4011.1 2579.8,4011.1 2580.8,4011.1 2581.8,4011.1 2582.8,4011.1 2583.8,4011.1 2584.8,4011.1 2585.8,4011.1 2586.8,4011.1 2587.8,4011.1 2588.8,4011.1 2589.8,4011.1 2590.8,4011.1 2591.8,4011.1 2592.8,4011.1 2593.8,4011.1 2594.8,4011.1 2595.8,4011.1 2596.8,4011.1 2597.8,4011.1 2598.8,4011.1 2599.8,4011.1 2600.8,4011.1 2601.8,4011.1 2602.8,4011.1 2603.8,4011.1 2604.8,4011.1 2605.8,4011.1 2606.8,4011.1 2607.8,4011.1 2608.8,4011.1 2609.8,4011.1 2610.8,4011.1 2611.8,4011.1 2612.8,4011.1 2613.8,4011.1 2614.8,4011.1 2615.8,4011.1 2616.8,4011.1 2617.8,4011.1 2618.8,4011.1 2619.8,4011.1 2620.8,4011.1 2621.8,4011.1 2622.8,4011.1 2623.8,4011.1 2624.8,4011.1 2625.8,4011.1 2626.8,4011.1 2627.8,4011.1 2628.8,4011.1 2629.8,4011.1 2630.8,4011.1 2631.8,4011.1 2632.8,4011.1 2633.8,4011.1 2634.8,4011.1 2635.8,4011.1 2636.8,4011.1 2637.8,4011.1 2638.8,4011.1 2639.8,4011.1 2640.8,4011.1 2641.8,4011.1 2642.8,4011.1 2643.8,4011.1 2644.8,4011.1 2645.8,4011.1 2646.8,4011.1 2647.8,4011.1 2648.8,4011.1 2649.8,4011.1 2650.8,4011.1 2651.8,4011.1 2652.8,4011.1 2653.8,4011.1 2654.8,4011.1 2655.8,4011.1 2656.8,4011.1 2657.8,4011.1 2658.8,4011.1 2659.8,4011.1 2660.8,4011.1 2661.8,4011.1 2662.8,4011.1 2663.8,4011.1 2664.8,4011.1 2665.8,4011.1 2666.8,4011.1 2667.8,4011.1 2668.8,4011.1 2669.8,4011.1 2670.8,4011.1 2671.8,4011.1 2672.8,4011.1 2673.8,4011.1 2674.8,4011.1 2675.8,4011.1 2676.8,4011.1 2677.8,4011.1 2678.8,4011.1 2679.8,4011.1 2680.8,4011.1 2681.8,4011.1 2682.8,4011.1 2683.8,4011.1 2684.8,4011.1 2685.8,4011.1 2686.8,4011.1 2687.8,4011.1 2688.8,4011.1 2689.8,4011.1 2690.8,4011.1 2691.8,4011.1 2692.8,4011.1 2693.8,4011.1 2694.8,4011.1 2695.8,4011.1 2696.8,4011.1 2697.8,4011.1 2698.8,4011.1 2699.8,4011.1 2700.8,4011.1 2701.8,4011.0 2702.8,4011.0 2703.8,4011.0 2704.8,4011.0 2705.8,4011.0 2706.8,4011.0 2707.8,4011.0 2708.8,4011.0 2709.8,4011.0 2710.8,4011.0 2711.8,4011.0 2712.8,4011.0 2713.8,4011.0 2714.8,4011.0 2715.8,4011.0 2716.8,4011.0 2717.8,4011.0 2718.8,4011.0 2719.8,4011.0 2720.8,4011.0 2721.8,4011.0 2722.8,4011.0 2723.8,4011.0 2724.8,4011.0 2725.8,4011.0 2726.8,4011.0 2727.8,4011.0 2728.8,4011.0 2729.8,4011.0 2730.8,4011.0 2731.8,4011.0 2732.8,4011.0 2733.8,4011.0 2734.8,4011.0 2735.8,4011.0 2736.8,4011.0 2737.8,4011.0 2738.8,4011.0 2739.8,4011.0 2740.8,4011.0 2741.8,4011.0 2742.8,4011.0 2743.8,4011.0 2744.8,4011.0 2745.8,4011.0 2746.8,4011.0 2747.8,4011.0 2748.8,4011.0 2749.8,4011.0 2750.8,4011.0 2751.8,4011.0 2752.8,4011.0 2753.8,4011.0 2754.8,4011.0 2755.8,4011.0 2756.8,4011.0 2757.8,4011.0 2758.8,4011.0 2759.8,4011.0 2760.8,4011.0 2761.8,4011.0 2762.8,4011.0 2763.8,4011.0 2764.8,4011.0 2765.8,4011.0 2766.8,4011.0 2767.8,4011.0 2768.8,4011.0 2769.8,4011.0 2770.8,4011.0 2771.8,4011.0 2772.8,4011.0 2773.8,4011.0 2774.8,4011.0 2775.8,4011.0 2776.8,4011.0 2777.8,4011.0 2778.8,4011.0 2779.8,4011.0 2780.8,4011.0 2781.8,4011.0 2782.8,4011.0 2783.8,4011.0 2784.8,4011.0 2785.8,4011.0 2786.8,4011.0 2787.8,4011.0 2788.8,4011.0 2789.8,4011.0 2790.8,4011.0 2791.8,4011.0 2792.8,4011.0 2793.8,4011.0 2794.8,4011.0 2795.8,4011.0 2796.8,4011.0 2797.8,4011.0 2798.8,4011.0 2799.8,4011.0 2800.8,4011.0 2801.8,4011.0 2802.8,4011.0 2803.8,4011.0 2804.8,4011.0 2805.8,4011.0 2806.8,4011.0 2807.8,4011.0" fill="none" stroke="#3A3A3A" stroke-width="4.3" stroke-linejoin="round"/>
<polyline points="750.2,3861.5 751.2,3861.5 752.2,3861.5 753.2,3861.4 754.2,3861.4 755.2,3861.4 756.2,3861.3 757.2,3861.2 758.2,3861.1 759.2,3860.9 760.2,3860.6 761.2,3860.3 762.2,3859.9 763.2,3859.4 764.2,3858.8 765.2,3858.0 766.2,3857.2 767.2,3856.3 768.2,3855.3 769.2,3854.2 770.2,3853.2 771.2,3852.2 772.2,3851.3 773.2,3850.5 774.2,3849.9 775.2,3849.6 776.2,3849.5 777.2,3849.5 778.2,3849.5 779.2,3849.6 780.2,3849.7 781.2,3849.8 782.2,3850.0 783.2,3850.2 784.2,3850.4 785.2,3850.6 786.2,3850.8 787.2,3851.1 788.2,3851.4 789.2,3851.6 790.2,3851.9 791.2,3852.3 792.2,3852.6 793.2,3852.9 794.2,3853.3 795.2,3853.6 796.2,3854.0 797.2,3854.3 798.2,3854.7 799.2,3855.0 800.2,3855.4 801.2,3855.7 802.2,3856.0 803.2,3856.4 804.2,3856.7 805.2,3857.0 806.2,3857.3 807.2,3857.6 808.2,3857.8 809.2,3858.1 810.2,3858.4 811.2,3858.6 812.2,3858.8 813.2,3859.0 814.2,3859.2 815.2,3859.4 816.2,3859.6 817.2,3859.8 818.2,3859.9 819.2,3860.1 820.2,3860.2 821.2,3860.3 822.2,3860.4 823.2,3860.5 824.2,3860.6 825.2,3860.7 826.2,3860.8 827.2,3860.9 828.2,3860.9 829.2,3861.0 830.2,3861.0 831.2,3861.1 832.2,3861.1 833.2,3861.2 834.2,3861.2 835.2,3861.2 836.2,3861.3 837.2,3861.3 838.2,3861.3 839.2,3861.3 840.2,3861.3 841.2,3861.3 842.2,3861.4 843.2,3861.4 844.2,3861.4 845.2,3861.4 846.2,3861.4 847.2,3861.4 848.2,3861.4 849.2,3861.4 850.2,3861.4 851.2,3861.4 852.2,3861.4 853.2,3861.4 854.2,3861.4 855.2,3861.4 856.2,3861.4 857.2,3861.4 858.2,3861.4 859.2,3861.4 860.2,3861.4 861.2,3861.4 862.2,3861.4 863.2,3861.4 864.2,3861.4 865.2,3861.4 866.2,3861.4 867.2,3861.4 868.2,3861.4 869.2,3861.4 870.2,3861.4 871.2,3861.4 872.2,3861.4 873.2,3861.4 874.2,3861.4 875.2,3861.4 876.2,3861.4 877.2,3861.4 878.2,3861.4 879.2,3861.4 880.2,3861.4 881.2,3861.4 882.2,3861.4 883.2,3861.4 884.2,3861.4 885.2,3861.4 886.2,3861.3 887.2,3861.3 888.2,3861.3 889.2,3861.3 890.2,3861.2 891.2,3861.2 892.2,3861.1 893.2,3861.0 894.2,3860.9 895.2,3860.8 896.2,3860.7 897.2,3860.6 898.2,3860.5 899.2,3860.4 900.2,3860.2 901.2,3860.1 902.2,3859.9 903.2,3859.8 904.2,3859.7 905.2,3859.6 906.2,3859.5 907.2,3859.4 908.2,3859.4 909.2,3859.4 910.2,3859.4 911.2,3859.4 912.2,3859.5 913.2,3859.6 914.2,3859.7 915.2,3859.8 916.2,3860.0 917.2,3860.1 918.2,3860.2 919.2,3860.4 920.2,3860.5 921.2,3860.6 922.2,3860.7 923.2,3860.9 924.2,3860.9 925.2,3861.0 926.2,3861.1 927.2,3861.2 928.2,3861.2 929.2,3861.2 930.2,3861.3 931.2,3861.3 932.2,3861.3 933.2,3861.3 934.2,3861.3 935.2,3861.3 936.2,3861.4 937.2,3861.4 938.2,3861.4 939.2,3861.4 940.2,3861.4 941.2,3861.4 942.2,3861.4 943.2,3861.4 944.2,3861.4 945.2,3861.4 946.2,3861.4 947.2,3861.4 948.2,3861.4 949.2,3861.4 950.2,3861.4 951.2,3861.4 952.2,3861.4 953.2,3861.4 954.2,3861.4 955.2,3861.4 956.2,3861.4 957.2,3861.4 958.2,3861.4 959.2,3861.4 960.2,3861.4 961.2,3861.4 962.2,3861.4 963.2,3861.3 964.2,3861.3 965.2,3861.3 966.2,3861.3 967.2,3861.3 968.2,3861.3 969.2,3861.3 970.2,3861.3 971.2,3861.3 972.2,3861.3 973.2,3861.3 974.2,3861.3 975.2,3861.3 976.2,3861.3 977.2,3861.3 978.2,3861.3 979.2,3861.3 980.2,3861.3 981.2,3861.3 982.2,3861.3 983.2,3861.3 984.2,3861.3 985.2,3861.3 986.2,3861.3 987.2,3861.3 988.2,3861.3 989.2,3861.3 990.2,3861.3 991.2,3861.3 992.2,3861.3 993.2,3861.3 994.2,3861.3 995.2,3861.3 996.2,3861.3 997.2,3861.3 998.2,3861.3 999.2,3861.3 1000.2,3861.3 1001.2,3861.3 1002.2,3861.3 1003.2,3861.3 1004.2,3861.3 1005.2,3861.3 1006.2,3861.3 1007.2,3861.3 1008.2,3861.3 1009.2,3861.3 1010.2,3861.3 1011.2,3861.3 1012.2,3861.3 1013.2,3861.3 1014.2,3861.3 1015.2,3861.3 1016.2,3861.3 1017.2,3861.3 1018.2,3861.3 1019.2,3861.3 1020.2,3861.3 1021.2,3861.3 1022.2,3861.3 1023.2,3861.3 1024.2,3861.3 1025.2,3861.3 1026.2,3861.3 1027.2,3861.3 1028.2,3861.3 1029.2,3861.3 1030.2,3861.3 1031.2,3861.3 1032.2,3861.2 1033.2,3861.2 1034.2,3861.2 1035.2,3861.1 1036.2,3861.0 1037.2,3860.9 1038.2,3860.8 1039.2,3860.7 1040.2,3860.5 1041.2,3860.2 1042.2,3860.0 1043.2,3859.7 1044.2,3859.3 1045.2,3859.0 1046.2,3858.6 1047.2,3858.3 1048.2,3858.0 1049.2,3857.7 1050.2,3857.5 1051.2,3857.4 1052.2,3857.3 1053.2,3857.3 1054.2,3857.4 1055.2,3857.5 1056.2,3857.6 1057.2,3857.9 1058.2,3858.1 1059.2,3858.3 1060.2,3858.6 1061.2,3858.9 1062.2,3859.2 1063.2,3859.4 1064.2,3859.7 1065.2,3859.9 1066.2,3860.2 1067.2,3860.4 1068.2,3860.5 1069.2,3860.7 1070.2,3860.8 1071.2,3860.9 1072.2,3861.0 1073.2,3861.1 1074.2,3861.1 1075.2,3861.1 1076.2,3861.2 1077.2,3861.2 1078.2,3861.2 1079.2,3861.2 1080.2,3861.2 1081.2,3861.3 1082.2,3861.3 1083.2,3861.3 1084.2,3861.3 1085.2,3861.3 1086.2,3861.3 1087.2,3861.3 1088.2,3861.3 1089.2,3861.3 1090.2,3861.3 1091.2,3861.3 1092.2,3861.2 1093.2,3861.2 1094.2,3861.2 1095.2,3861.2 1096.2,3861.2 1097.2,3861.2 1098.2,3861.2 1099.2,3861.2 1100.2,3861.2 1101.2,3861.2 1102.2,3861.2 1103.2,3861.2 1104.2,3861.2 1105.2,3861.2 1106.2,3861.2 1107.2,3861.1 1108.2,3861.1 1109.2,3861.1 1110.2,3861.1 1111.2,3861.1 1112.2,3861.1 1113.2,3861.0 1114.2,3861.0 1115.2,3861.0 1116.2,3860.9 1117.2,3860.9 1118.2,3860.9 1119.2,3860.8 1120.2,3860.8 1121.2,3860.8 1122.2,3860.7 1123.2,3860.7 1124.2,3860.6 1125.2,3860.6 1126.2,3860.5 1127.2,3860.5 1128.2,3860.4 1129.2,3860.4 1130.2,3860.3 1131.2,3860.3 1132.2,3860.2 1133.2,3860.2 1134.2,3860.1 1135.2,3860.1 1136.2,3860.0 1137.2,3860.0 1138.2,3859.9 1139.2,3859.9 1140.2,3859.9 1141.2,3859.8 1142.2,3859.8 1143.2,3859.8 1144.2,3859.7 1145.2,3859.7 1146.2,3859.7 1147.2,3859.7 1148.2,3859.7 1149.2,3859.7 1150.2,3859.7 1151.2,3859.8 1152.2,3859.8 1153.2,3859.8 1154.2,3859.8 1155.2,3859.9 1156.2,3859.9 1157.2,3859.9 1158.2,3860.0 1159.2,3860.0 1160.2,3860.1 1161.2,3860.1 1162.2,3860.2 1163.2,3860.2 1164.2,3860.3 1165.2,3860.3 1166.2,3860.4 1167.2,3860.4 1168.2,3860.5 1169.2,3860.5 1170.2,3860.6 1171.2,3860.6 1172.2,3860.7 1173.2,3860.7 1174.2,3860.8 1175.2,3860.8 1176.2,3860.8 1177.2,3860.9 1178.2,3860.9 1179.2,3860.9 1180.2,3860.9 1181.2,3861.0 1182.2,3861.0 1183.2,3861.0 1184.2,3861.0 1185.2,3861.1 1186.2,3861.1 1187.2,3861.1 1188.2,3861.1 1189.2,3861.1 1190.2,3861.1 1191.2,3861.1 1192.2,3861.1 1193.2,3861.1 1194.2,3861.1 1195.2,3861.2 1196.2,3861.2 1197.2,3861.2 1198.2,3861.2 1199.2,3861.2 1200.2,3861.2 1201.2,3861.2 1202.2,3861.2 1203.2,3861.2 1204.2,3861.2 1205.2,3861.2 1206.2,3861.2 1207.2,3861.2 1208.2,3861.2 1209.2,3861.2 1210.2,3861.2 1211.2,3861.2 1212.2,3861.2 1213.2,3861.2 1214.2,3861.2 1215.2,3861.2 1216.2,3861.2 1217.2,3861.2 1218.2,3861.2 1219.2,3861.2 1220.2,3861.2 1221.2,3861.2 1222.2,3861.2 1223.2,3861.2 1224.2,3861.2 1225.2,3861.2 1226.2,3861.2 1227.2,3861.2 1228.2,3861.2 1229.2,3861.2 1230.2,3861.2 1231.2,3861.2 1232.2,3861.2 1233.2,3861.2 1234.2,3861.2 1235.2,3861.2 1236.2,3861.2 1237.2,3861.2 1238.2,3861.2 1239.2,3861.2 1240.2,3861.2 1241.2,3861.2 1242.2,3861.2 1243.2,3861.2 1244.2,3861.2 1245.2,3861.2 1246.2,3861.2 1247.2,3861.1 1248.2,3861.1 1249.2,3861.1 1250.2,3861.1 1251.2,3861.1 1252.2,3861.1 1253.2,3861.1 1254.2,3861.1 1255.2,3861.1 1256.2,3861.1 1257.2,3861.1 1258.2,3861.1 1259.2,3861.1 1260.2,3861.1 1261.2,3861.1 1262.2,3861.1 1263.2,3861.1 1264.2,3861.1 1265.2,3861.1 1266.2,3861.1 1267.2,3861.1 1268.2,3861.1 1269.2,3861.1 1270.2,3861.1 1271.2,3861.1 1272.2,3861.1 1273.2,3861.1 1274.2,3861.1 1275.2,3861.1 1276.2,3861.1 1277.2,3861.1 1278.2,3861.1 1279.2,3861.1 1280.2,3861.1 1281.2,3861.1 1282.2,3861.1 1283.2,3861.1 1284.2,3861.1 1285.2,3861.1 1286.2,3861.1 1287.2,3861.1 1288.2,3861.1 1289.2,3861.1 1290.2,3861.1 1291.2,3861.1 1292.2,3861.1 1293.2,3861.1 1294.2,3861.1 1295.2,3861.1 1296.2,3861.1 1297.2,3861.1 1298.2,3861.1 1299.2,3861.1 1300.2,3861.1 1301.2,3861.1 1302.2,3861.1 1303.2,3861.1 1304.2,3861.1 1305.2,3861.1 1306.2,3861.1 1307.2,3861.1 1308.2,3861.1 1309.2,3861.1 1310.2,3861.1 1311.2,3861.1 1312.2,3861.1 1313.2,3861.1 1314.2,3861.1 1315.2,3861.1 1316.2,3861.1 1317.2,3861.1 1318.2,3861.1 1319.2,3861.1 1320.2,3861.1 1321.2,3861.1 1322.2,3861.0 1323.2,3860.9 1324.2,3860.7 1325.2,3860.3 1326.2,3859.5 1327.2,3858.1 1328.2,3855.5 1329.2,3851.1 1330.2,3843.8 1331.2,3832.4 1332.2,3815.3 1333.2,3790.5 1334.2,3756.4 1335.2,3711.4 1336.2,3655.0 1337.2,3587.7 1338.2,3511.6 1339.2,3430.7 1340.2,3350.5 1341.2,3277.5 1342.2,3218.4 1343.2,3179.3 1344.2,3164.2 1345.2,3174.5 1346.2,3205.3 1347.2,3253.7 1348.2,3315.5 1349.2,3385.6 1350.2,3458.6 1351.2,3530.0 1352.2,3595.8 1353.2,3653.6 1354.2,3702.2 1355.2,3741.2 1356.2,3771.3 1357.2,3793.8 1358.2,3810.0 1359.2,3821.3 1360.2,3829.0 1361.2,3834.2 1362.2,3837.7 1363.2,3840.1 1364.2,3841.7 1365.2,3842.9 1366.2,3843.9 1367.2,3844.7 1368.2,3845.5 1369.2,3846.1 1370.2,3846.7 1371.2,3847.3 1372.2,3847.9 1373.2,3848.4 1374.2,3848.9 1375.2,3849.4 1376.2,3849.9 1377.2,3850.3 1378.2,3850.8 1379.2,3851.2 1380.2,3851.6 1381.2,3852.0 1382.2,3852.3 1383.2,3852.7 1384.2,3853.0 1385.2,3853.4 1386.2,3853.7 1387.2,3854.0 1388.2,3854.2 1389.2,3854.5 1390.2,3854.8 1391.2,3855.0 1392.2,3855.3 1393.2,3855.5 1394.2,3855.7 1395.2,3856.0 1396.2,3856.2 1397.2,3856.4 1398.2,3856.5 1399.2,3856.7 1400.2,3856.9 1401.2,3857.1 1402.2,3857.2 1403.2,3857.4 1404.2,3857.5 1405.2,3857.7 1406.2,3857.8 1407.2,3857.9 1408.2,3858.1 1409.2,3858.2 1410.2,3858.3 1411.2,3858.4 1412.2,3858.5 1413.2,3858.6 1414.2,3858.7 1415.2,3858.8 1416.2,3858.9 1417.2,3859.0 1418.2,3859.0 1419.2,3859.1 1420.2,3859.1 1421.2,3858.9 1422.2,3858.6 1423.2,3857.9 1424.2,3856.5 1425.2,3854.1 1426.2,3850.2 1427.2,3844.4 1428.2,3836.1 1429.2,3825.2 1430.2,3811.8 1431.2,3796.7 1432.2,3781.1 1433.2,3766.8 1434.2,3755.6 1435.2,3749.2 1436.2,3748.6 1437.2,3752.6 1438.2,3759.8 1439.2,3769.5 1440.2,3780.9 1441.2,3792.9 1442.2,3804.8 1443.2,3815.8 1444.2,3825.4 1445.2,3833.4 1446.2,3839.8 1447.2,3844.6 1448.2,3848.2 1449.2,3850.7 1450.2,3852.5 1451.2,3853.7 1452.2,3854.6 1453.2,3855.2 1454.2,3855.6 1455.2,3855.9 1456.2,3856.2 1457.2,3856.4 1458.2,3856.5 1459.2,3856.7 1460.2,3856.8 1461.2,3856.8 1462.2,3856.9 1463.2,3856.9 1464.2,3856.8 1465.2,3856.8 1466.2,3856.7 1467.2,3856.7 1468.2,3856.6 1469.2,3856.5 1470.2,3856.4 1471.2,3856.4 1472.2,3856.4 1473.2,3856.4 1474.2,3856.4 1475.2,3856.4 1476.2,3856.5 1477.2,3856.6 1478.2,3856.8 1479.2,3857.0 1480.2,3857.2 1481.2,3857.4 1482.2,3857.7 1483.2,3858.0 1484.2,3858.2 1485.2,3858.5 1486.2,3858.7 1487.2,3859.0 1488.2,3859.2 1489.2,3859.4 1490.2,3859.6 1491.2,3859.8 1492.2,3859.9 1493.2,3860.0 1494.2,3860.1 1495.2,3860.2 1496.2,3860.3 1497.2,3860.4 1498.2,3860.4 1499.2,3860.5 1500.2,3860.5 1501.2,3860.6 1502.2,3860.6 1503.2,3860.6 1504.2,3860.6 1505.2,3860.7 1506.2,3860.7 1507.2,3860.7 1508.2,3860.7 1509.2,3860.7 1510.2,3860.7 1511.2,3860.7 1512.2,3860.8 1513.2,3860.8 1514.2,3860.8 1515.2,3860.8 1516.2,3860.8 1517.2,3860.8 1518.2,3860.8 1519.2,3860.8 1520.2,3860.8 1521.2,3860.8 1522.2,3860.8 1523.2,3860.8 1524.2,3860.8 1525.2,3860.9 1526.2,3860.9 1527.2,3860.9 1528.2,3860.9 1529.2,3860.9 1530.2,3860.9 1531.2,3860.9 1532.2,3860.9 1533.2,3860.9 1534.2,3860.9 1535.2,3860.9 1536.2,3860.9 1537.2,3860.9 1538.2,3860.9 1539.2,3860.9 1540.2,3860.9 1541.2,3860.9 1542.2,3860.9 1543.2,3860.9 1544.2,3860.9 1545.2,3860.9 1546.2,3860.9 1547.2,3860.9 1548.2,3860.9 1549.2,3860.9 1550.2,3860.9 1551.2,3860.9 1552.2,3860.9 1553.2,3860.9 1554.2,3860.9 1555.2,3860.9 1556.2,3860.9 1557.2,3860.9 1558.2,3860.9 1559.2,3860.9 1560.2,3860.9 1561.2,3860.9 1562.2,3860.9 1563.2,3860.9 1564.2,3860.9 1565.2,3860.9 1566.2,3860.9 1567.2,3860.9 1568.2,3860.9 1569.2,3860.9 1570.2,3860.9 1571.2,3860.9 1572.2,3860.9 1573.2,3860.9 1574.2,3860.9 1575.2,3860.9 1576.2,3860.9 1577.2,3860.9 1578.2,3860.9 1579.2,3860.9 1580.2,3860.9 1581.2,3860.9 1582.2,3860.9 1583.2,3860.9 1584.2,3860.9 1585.2,3860.9 1586.2,3860.9 1587.2,3860.9 1588.2,3860.9 1589.2,3860.9 1590.2,3860.9 1591.2,3860.9 1592.2,3860.9 1593.2,3860.9 1594.2,3860.9 1595.2,3860.9 1596.2,3860.9 1597.2,3860.9 1598.2,3860.9 1599.2,3860.9 1600.2,3860.9 1601.2,3860.9 1602.2,3860.9 1603.2,3860.9 1604.2,3860.9 1605.2,3860.9 1606.2,3860.9 1607.2,3860.8 1608.2,3860.8 1609.2,3860.8 1610.2,3860.7 1611.2,3860.6 1612.2,3860.5 1613.2,3860.4 1614.2,3860.3 1615.2,3860.1 1616.2,3859.9 1617.2,3859.7 1618.2,3859.5 1619.2,3859.3 1620.2,3859.1 1621.2,3858.9 1622.2,3858.7 1623.2,3858.6 1624.2,3858.4 1625.2,3858.4 1626.2,3858.4 1627.2,3858.4 1628.2,3858.5 1629.2,3858.6 1630.2,3858.7 1631.2,3858.8 1632.2,3859.0 1633.2,3859.1 1634.2,3859.3 1635.2,3859.5 1636.2,3859.7 1637.2,3859.8 1638.2,3860.0 1639.2,3860.1 1640.2,3860.3 1641.2,3860.4 1642.2,3860.5 1643.2,3860.5 1644.2,3860.6 1645.2,3860.7 1646.2,3860.7 1647.2,3860.8 1648.2,3860.8 1649.2,3860.8 1650.2,3860.8 1651.2,3860.8 1652.2,3860.8 1653.2,3860.8 1654.2,3860.9 1655.2,3860.9 1656.2,3860.9 1657.2,3860.9 1658.2,3860.9 1659.2,3860.9 1660.2,3860.9 1661.2,3860.9 1662.2,3860.9 1663.2,3860.9 1664.2,3860.9 1665.2,3860.9 1666.2,3860.9 1667.2,3860.9 1668.2,3860.9 1669.2,3860.8 1670.2,3860.8 1671.2,3860.8 1672.2,3860.8 1673.2,3860.8 1674.2,3860.7 1675.2,3860.6 1676.2,3860.5 1677.2,3860.2 1678.2,3859.9 1679.2,3859.4 1680.2,3858.8 1681.2,3858.0 1682.2,3857.0 1683.2,3855.8 1684.2,3854.6 1685.2,3853.3 1686.2,3852.1 1687.2,3851.0 1688.2,3850.3 1689.2,3849.9 1690.2,3849.9 1691.2,3850.2 1692.2,3850.7 1693.2,3851.5 1694.2,3852.5 1695.2,3853.6 1696.2,3854.7 1697.2,3855.8 1698.2,3856.8 1699.2,3857.6 1700.2,3858.4 1701.2,3859.0 1702.2,3859.5 1703.2,3859.9 1704.2,3860.2 1705.2,3860.4 1706.2,3860.6 1707.2,3860.7 1708.2,3860.7 1709.2,3860.8 1710.2,3860.8 1711.2,3860.8 1712.2,3860.8 1713.2,3860.8 1714.2,3860.8 1715.2,3860.8 1716.2,3860.8 1717.2,3860.8 1718.2,3860.7 1719.2,3860.7 1720.2,3860.6 1721.2,3860.4 1722.2,3860.1 1723.2,3859.7 1724.2,3859.2 1725.2,3858.5 1726.2,3857.7 1727.2,3856.9 1728.2,3856.0 1729.2,3855.4 1730.2,3854.9 1731.2,3854.8 1732.2,3854.9 1733.2,3855.3 1734.2,3855.8 1735.2,3856.4 1736.2,3857.1 1737.2,3857.8 1738.2,3858.4 1739.2,3859.0 1740.2,3859.5 1741.2,3859.9 1742.2,3860.2 1743.2,3860.4 1744.2,3860.5 1745.2,3860.6 1746.2,3860.7 1747.2,3860.7 1748.2,3860.8 1749.2,3860.8 1750.2,3860.8 1751.2,3860.8 1752.2,3860.8 1753.2,3860.8 1754.2,3860.8 1755.2,3860.8 1756.2,3860.8 1757.2,3860.8 1758.2,3860.8 1759.2,3860.8 1760.2,3860.8 1761.2,3860.8 1762.2,3860.8 1763.2,3860.8 1764.2,3860.8 1765.2,3860.8 1766.2,3860.8 1767.2,3860.8 1768.2,3860.8 1769.2,3860.8 1770.2,3860.8 1771.2,3860.8 1772.2,3860.8 1773.2,3860.8 1774.2,3860.8 1775.2,3860.8 1776.2,3860.8 1777.2,3860.8 1778.2,3860.8 1779.2,3860.8 1780.2,3860.8 1781.2,3860.8 1782.2,3860.8 1783.2,3860.8 1784.2,3860.8 1785.2,3860.8 1786.2,3860.8 1787.2,3860.8 1788.2,3860.7 1789.2,3860.7 1790.2,3860.7 1791.2,3860.6 1792.2,3860.5 1793.2,3860.3 1794.2,3860.0 1795.2,3859.6 1796.2,3858.9 1797.2,3858.1 1798.2,3857.1 1799.2,3856.0 1800.2,3854.9 1801.2,3853.9 1802.2,3853.1 1803.2,3852.7 1804.2,3852.7 1805.2,3853.0 1806.2,3853.5 1807.2,3854.3 1808.2,3855.1 1809.2,3856.0 1810.2,3856.9 1811.2,3857.7 1812.2,3858.4 1813.2,3858.9 1814.2,3859.3 1815.2,3859.6 1816.2,3859.7 1817.2,3859.8 1818.2,3859.8 1819.2,3859.8 1820.2,3859.7 1821.2,3859.6 1822.2,3859.5 1823.2,3859.4 1824.2,3859.2 1825.2,3859.0 1826.2,3858.8 1827.2,3858.6 1828.2,3858.4 1829.2,3858.1 1830.2,3857.8 1831.2,3857.5 1832.2,3857.2 1833.2,3856.9 1834.2,3856.5 1835.2,3856.1 1836.2,3855.7 1837.2,3855.2 1838.2,3854.8 1839.2,3854.3 1840.2,3853.7 1841.2,3853.2 1842.2,3852.6 1843.2,3852.0 1844.2,3851.4 1845.2,3850.8 1846.2,3850.2 1847.2,3849.5 1848.2,3848.8 1849.2,3848.1 1850.2,3847.4 1851.2,3846.7 1852.2,3846.0 1853.2,3845.3 1854.2,3844.6 1855.2,3844.0 1856.2,3843.3 1857.2,3842.6 1858.2,3842.0 1859.2,3841.3 1860.2,3840.7 1861.2,3840.2 1862.2,3839.6 1863.2,3839.1 1864.2,3838.7 1865.2,3838.3 1866.2,3837.9 1867.2,3837.6 1868.2,3837.3 1869.2,3837.1 1870.2,3836.9 1871.2,3836.8 1872.2,3836.7 1873.2,3836.8 1874.2,3838.0 1875.2,3840.3 1876.2,3843.3 1877.2,3846.6 1878.2,3849.9 1879.2,3852.8 1880.2,3855.3 1881.2,3857.2 1882.2,3858.5 1883.2,3859.4 1884.2,3860.0 1885.2,3860.3 1886.2,3860.5 1887.2,3860.6 1888.2,3860.7 1889.2,3860.7 1890.2,3860.7 1891.2,3860.7 1892.2,3860.7 1893.2,3860.7 1894.2,3860.7 1895.2,3860.7 1896.2,3860.7 1897.2,3860.7 1898.2,3860.7 1899.2,3860.7 1900.2,3860.7 1901.2,3860.7 1902.2,3860.7 1903.2,3860.7 1904.2,3860.7 1905.2,3860.7 1906.2,3860.7 1907.2,3860.7 1908.2,3860.7 1909.2,3860.7 1910.2,3860.7 1911.2,3860.7 1912.2,3860.7 1913.2,3860.7 1914.2,3860.7 1915.2,3860.7 1916.2,3860.7 1917.2,3860.7 1918.2,3860.7 1919.2,3860.7 1920.2,3860.7 1921.2,3860.7 1922.2,3860.7 1923.2,3860.7 1924.2,3860.7 1925.2,3860.7 1926.2,3860.7 1927.2,3860.7 1928.2,3860.6 1929.2,3860.6 1930.2,3860.6 1931.2,3860.6 1932.2,3860.5 1933.2,3860.5 1934.2,3860.4 1935.2,3860.3 1936.2,3860.2 1937.2,3860.0 1938.2,3859.8 1939.2,3859.6 1940.2,3859.3 1941.2,3859.0 1942.2,3858.7 1943.2,3858.4 1944.2,3858.0 1945.2,3857.7 1946.2,3857.3 1947.2,3857.1 1948.2,3856.9 1949.2,3856.7 1950.2,3856.7 1951.2,3856.7 1952.2,3856.7 1953.2,3856.8 1954.2,3857.0 1955.2,3857.2 1956.2,3857.4 1957.2,3857.7 1958.2,3858.0 1959.2,3858.2 1960.2,3858.5 1961.2,3858.8 1962.2,3859.1 1963.2,3859.3 1964.2,3859.5 1965.2,3859.7 1966.2,3859.9 1967.2,3860.0 1968.2,3860.1 1969.2,3860.2 1970.2,3860.3 1971.2,3860.4 1972.2,3860.5 1973.2,3860.5 1974.2,3860.5 1975.2,3860.6 1976.2,3860.6 1977.2,3860.6 1978.2,3860.6 1979.2,3860.6 1980.2,3860.6 1981.2,3860.6 1982.2,3860.6 1983.2,3860.6 1984.2,3860.6 1985.2,3860.6 1986.2,3860.6 1987.2,3860.6 1988.2,3860.6 1989.2,3860.6 1990.2,3860.6 1991.2,3860.6 1992.2,3860.6 1993.2,3860.6 1994.2,3860.6 1995.2,3860.6 1996.2,3860.6 1997.2,3860.5 1998.2,3860.5 1999.2,3860.5 2000.2,3860.5 2001.2,3860.5 2002.2,3860.5 2003.2,3860.5 2004.2,3860.5 2005.2,3860.5 2006.2,3860.5 2007.2,3860.5 2008.2,3860.5 2009.2,3860.5 2010.2,3860.4 2011.2,3860.4 2012.2,3860.4 2013.2,3860.4 2014.2,3860.4 2015.2,3860.4 2016.2,3860.4 2017.2,3860.4 2018.2,3860.3 2019.2,3860.3 2020.2,3860.3 2021.2,3860.3 2022.2,3860.3 2023.2,3860.3 2024.2,3860.2 2025.2,3860.2 2026.2,3860.2 2027.2,3860.2 2028.2,3860.1 2029.2,3860.1 2030.2,3860.1 2031.2,3860.1 2032.2,3860.0 2033.2,3860.0 2034.2,3860.0 2035.2,3859.9 2036.2,3859.9 2037.2,3859.9 2038.2,3859.8 2039.2,3859.8 2040.2,3859.8 2041.2,3859.7 2042.2,3859.7 2043.2,3859.6 2044.2,3859.6 2045.2,3859.5 2046.2,3859.5 2047.2,3859.4 2048.2,3859.4 2049.2,3859.3 2050.2,3859.3 2051.2,3859.2 2052.2,3859.1 2053.2,3859.1 2054.2,3859.0 2055.2,3858.9 2056.2,3858.9 2057.2,3858.8 2058.2,3858.7 2059.2,3858.6 2060.2,3858.5 2061.2,3858.5 2062.2,3858.4 2063.2,3858.3 2064.2,3858.2 2065.2,3858.1 2066.2,3858.0 2067.2,3857.9 2068.2,3857.8 2069.2,3857.7 2070.2,3857.6 2071.2,3857.5 2072.2,3857.3 2073.2,3857.2 2074.2,3857.1 2075.2,3857.0 2076.2,3856.8 2077.2,3856.7 2078.2,3856.6 2079.2,3856.4 2080.2,3856.3 2081.2,3856.2 2082.2,3856.0 2083.2,3855.9 2084.2,3855.7 2085.2,3855.5 2086.2,3855.4 2087.2,3855.2 2088.2,3855.1 2089.2,3854.9 2090.2,3854.7 2091.2,3854.5 2092.2,3854.4 2093.2,3854.2 2094.2,3854.0 2095.2,3853.8 2096.2,3853.6 2097.2,3853.4 2098.2,3853.2 2099.2,3853.0 2100.2,3852.8 2101.2,3852.6 2102.2,3852.4 2103.2,3852.2 2104.2,3852.0 2105.2,3851.8 2106.2,3851.6 2107.2,3851.4 2108.2,3851.2 2109.2,3851.0 2110.2,3850.7 2111.2,3850.5 2112.2,3850.3 2113.2,3850.1 2114.2,3849.9 2115.2,3849.6 2116.2,3849.4 2117.2,3849.2 2118.2,3849.0 2119.2,3848.7 2120.2,3848.5 2121.2,3848.3 2122.2,3848.1 2123.2,3847.9 2124.2,3847.6 2125.2,3847.4 2126.2,3847.2 2127.2,3847.0 2128.2,3846.8 2129.2,3846.5 2130.2,3846.3 2131.2,3846.1 2132.2,3845.9 2133.2,3845.7 2134.2,3845.5 2135.2,3845.3 2136.2,3845.1 2137.2,3844.9 2138.2,3844.7 2139.2,3844.6 2140.2,3844.4 2141.2,3844.2 2142.2,3844.0 2143.2,3843.9 2144.2,3843.7 2145.2,3843.5 2146.2,3843.4 2147.2,3843.2 2148.2,3843.1 2149.2,3843.0 2150.2,3842.8 2151.2,3842.7 2152.2,3842.6 2153.2,3842.5 2154.2,3842.4 2155.2,3842.2 2156.2,3842.2 2157.2,3842.1 2158.2,3842.0 2159.2,3841.9 2160.2,3841.8 2161.2,3841.8 2162.2,3841.7 2163.2,3841.7 2164.2,3841.6 2165.2,3841.6 2166.2,3841.5 2167.2,3841.5 2168.2,3841.5 2169.2,3841.5 2170.2,3841.5 2171.2,3842.0 2172.2,3842.9 2173.2,3844.3 2174.2,3845.9 2175.2,3847.8 2176.2,3849.7 2177.2,3851.5 2178.2,3853.3 2179.2,3854.8 2180.2,3856.2 2181.2,3857.3 2182.2,3858.2 2183.2,3858.9 2184.2,3859.4 2185.2,3859.7 2186.2,3860.0 2187.2,3860.1 2188.2,3860.2 2189.2,3860.2 2190.2,3860.2 2191.2,3860.2 2192.2,3860.0 2193.2,3859.9 2194.2,3859.6 2195.2,3859.3 2196.2,3858.9 2197.2,3858.4 2198.2,3857.9 2199.2,3857.2 2200.2,3856.4 2201.2,3855.6 2202.2,3854.8 2203.2,3853.9 2204.2,3853.0 2205.2,3852.2 2206.2,3851.6 2207.2,3851.0 2208.2,3850.7 2209.2,3850.5 2210.2,3850.5 2211.2,3850.7 2212.2,3850.9 2213.2,3851.3 2214.2,3851.8 2215.2,3852.4 2216.2,3853.1 2217.2,3853.7 2218.2,3854.4 2219.2,3855.1 2220.2,3855.8 2221.2,3856.5 2222.2,3857.1 2223.2,3857.6 2224.2,3858.1 2225.2,3858.5 2226.2,3858.9 2227.2,3859.2 2228.2,3859.5 2229.2,3859.7 2230.2,3859.9 2231.2,3860.0 2232.2,3860.1 2233.2,3860.2 2234.2,3860.3 2235.2,3860.3 2236.2,3860.4 2237.2,3860.4 2238.2,3860.4 2239.2,3860.4 2240.2,3860.4 2241.2,3860.4 2242.2,3860.4 2243.2,3860.4 2244.2,3860.4 2245.2,3860.4 2246.2,3860.4 2247.2,3860.4 2248.2,3860.4 2249.2,3860.4 2250.2,3860.4 2251.2,3860.4 2252.2,3860.4 2253.2,3860.4 2254.2,3860.4 2255.2,3860.4 2256.2,3860.4 2257.2,3860.4 2258.2,3860.4 2259.2,3860.4 2260.2,3860.4 2261.2,3860.4 2262.2,3860.4 2263.2,3860.4 2264.2,3860.4 2265.2,3860.4 2266.2,3860.4 2267.2,3860.4 2268.2,3860.4 2269.2,3860.4 2270.2,3860.4 2271.2,3860.4 2272.2,3860.4 2273.2,3860.4 2274.2,3860.4 2275.2,3860.4 2276.2,3860.4 2277.2,3860.4 2278.2,3860.4 2279.2,3860.4 2280.2,3860.4 2281.2,3860.4 2282.2,3860.4 2283.2,3860.4 2284.2,3860.4 2285.2,3860.4 2286.2,3860.4 2287.2,3860.4 2288.2,3860.4 2289.2,3860.4 2290.2,3860.4 2291.2,3860.4 2292.2,3860.4 2293.2,3860.4 2294.2,3860.4 2295.2,3860.4 2296.2,3860.4 2297.2,3860.4 2298.2,3860.4 2299.2,3860.4 2300.2,3860.4 2301.2,3860.4 2302.2,3860.4 2303.2,3860.4 2304.2,3860.4 2305.2,3860.4 2306.2,3860.4 2307.2,3860.4 2308.2,3860.4 2309.2,3860.4 2310.2,3860.4 2311.2,3860.4 2312.2,3860.4 2313.2,3860.4 2314.2,3860.4 2315.2,3860.4 2316.2,3860.4 2317.2,3860.4 2318.2,3860.4 2319.2,3860.4 2320.2,3860.4 2321.2,3860.4 2322.2,3860.4 2323.2,3860.4 2324.2,3860.4 2325.2,3860.4 2326.2,3860.4 2327.2,3860.4 2328.2,3860.4 2329.2,3860.4 2330.2,3860.4 2331.2,3860.3 2332.2,3860.3 2333.2,3860.3 2334.2,3860.2 2335.2,3860.2 2336.2,3860.1 2337.2,3860.0 2338.2,3859.9 2339.2,3859.7 2340.2,3859.5 2341.2,3859.3 2342.2,3859.1 2343.2,3858.8 2344.2,3858.6 2345.2,3858.3 2346.2,3858.0 2347.2,3857.8 2348.2,3857.6 2349.2,3857.5 2350.2,3857.4 2351.2,3857.4 2352.2,3857.4 2353.2,3857.5 2354.2,3857.6 2355.2,3857.7 2356.2,3857.8 2357.2,3858.0 2358.2,3858.2 2359.2,3858.4 2360.2,3858.6 2361.2,3858.8 2362.2,3859.0 2363.2,3859.2 2364.2,3859.4 2365.2,3859.6 2366.2,3859.7 2367.2,3859.8 2368.2,3859.9 2369.2,3860.0 2370.2,3860.1 2371.2,3860.2 2372.2,3860.2 2373.2,3860.2 2374.2,3860.3 2375.2,3860.3 2376.2,3860.3 2377.2,3860.3 2378.2,3860.3 2379.2,3860.3 2380.2,3860.3 2381.2,3860.3 2382.2,3860.3 2383.2,3860.3 2384.2,3860.3 2385.2,3860.3 2386.2,3860.3 2387.2,3860.3 2388.2,3860.3 2389.2,3860.3 2390.2,3860.3 2391.2,3860.3 2392.2,3860.3 2393.2,3860.3 2394.2,3860.3 2395.2,3860.3 2396.2,3860.3 2397.2,3860.3 2398.2,3860.3 2399.2,3860.3 2400.2,3860.3 2401.2,3860.3 2402.2,3860.3 2403.2,3860.3 2404.2,3860.3 2405.2,3860.3 2406.2,3860.3 2407.2,3860.3 2408.2,3860.3 2409.2,3860.3 2410.2,3860.3 2411.2,3860.3 2412.2,3860.3 2413.2,3860.3 2414.2,3860.3 2415.2,3860.3 2416.2,3860.3 2417.2,3860.3 2418.2,3860.3 2419.2,3860.3 2420.2,3860.3 2421.2,3860.3 2422.2,3860.3 2423.2,3860.3 2424.2,3860.3 2425.2,3860.3 2426.2,3860.3 2427.2,3860.3 2428.2,3860.3 2429.2,3860.3 2430.2,3860.3 2431.2,3860.3 2432.2,3860.3 2433.2,3860.3 2434.2,3860.3 2435.2,3860.3 2436.2,3860.3 2437.2,3860.3 2438.2,3860.3 2439.2,3860.3 2440.2,3860.3 2441.2,3860.3 2442.2,3860.3 2443.2,3860.3 2444.2,3860.3 2445.2,3860.3 2446.2,3860.3 2447.2,3860.3 2448.2,3860.3 2449.2,3860.3 2450.2,3860.3 2451.2,3860.3 2452.2,3860.3 2453.2,3860.3 2454.2,3860.3 2455.2,3860.3 2456.2,3860.3 2457.2,3860.3 2458.2,3860.3 2459.2,3860.3 2460.2,3860.3 2461.2,3860.3 2462.2,3860.3 2463.2,3860.3 2464.2,3860.3 2465.2,3860.3 2466.2,3860.3 2467.2,3860.3 2468.2,3860.3 2469.2,3860.3 2470.2,3860.3 2471.2,3860.3 2472.2,3860.3 2473.2,3860.3 2474.2,3860.3 2475.2,3860.3 2476.2,3860.3 2477.2,3860.3 2478.2,3860.3 2479.2,3860.3 2480.2,3860.3 2481.2,3860.3 2482.2,3860.3 2483.2,3860.3 2484.2,3860.3 2485.2,3860.2 2486.2,3860.2 2487.2,3860.1 2488.2,3860.0 2489.2,3859.8 2490.2,3859.5 2491.2,3859.1 2492.2,3858.4 2493.2,3857.5 2494.2,3856.4 2495.2,3855.0 2496.2,3853.3 2497.2,3851.4 2498.2,3849.4 2499.2,3847.5 2500.2,3845.7 2501.2,3844.4 2502.2,3843.5 2503.2,3843.3 2504.2,3843.5 2505.2,3844.3 2506.2,3845.4 2507.2,3846.7 2508.2,3848.3 2509.2,3850.0 2510.2,3851.7 2511.2,3853.3 2512.2,3854.8 2513.2,3856.0 2514.2,3857.1 2515.2,3858.0 2516.2,3858.6 2517.2,3859.1 2518.2,3859.5 2519.2,3859.8 2520.2,3859.9 2521.2,3860.1 2522.2,3860.1 2523.2,3860.2 2524.2,3860.2 2525.2,3860.2 2526.2,3860.2 2527.2,3860.2 2528.2,3860.2 2529.2,3860.2 2530.2,3860.2 2531.2,3860.2 2532.2,3860.2 2533.2,3860.2 2534.2,3860.2 2535.2,3860.2 2536.2,3860.2 2537.2,3860.2 2538.2,3860.2 2539.2,3860.2 2540.2,3860.2 2541.2,3860.2 2542.2,3860.2 2543.2,3860.2 2544.2,3860.2 2545.2,3860.2 2546.2,3860.2 2547.2,3860.2 2548.2,3860.2 2549.2,3860.2 2550.2,3860.2 2551.2,3860.2 2552.2,3860.2 2553.2,3860.2 2554.2,3860.2 2555.2,3860.2 2556.2,3860.2 2557.2,3860.2 2558.2,3860.2 2559.2,3860.2 2560.2,3860.2 2561.2,3860.2 2562.2,3860.2 2563.2,3860.2 2564.2,3860.2 2565.2,3860.2 2566.2,3860.2 2567.2,3860.2 2568.2,3860.2 2569.2,3860.2 2570.2,3860.2 2571.2,3860.2 2572.2,3860.2 2573.2,3860.2 2574.2,3860.2 2575.2,3860.2 2576.2,3860.2 2577.2,3860.2 2578.2,3860.2 2579.2,3860.2 2580.2,3860.2 2581.2,3860.2 2582.2,3860.2 2583.2,3860.2 2584.2,3860.2 2585.2,3860.2 2586.2,3860.2 2587.2,3860.2 2588.2,3860.2 2589.2,3860.2 2590.2,3860.2 2591.2,3860.2 2592.2,3860.2 2593.2,3860.2 2594.2,3860.2 2595.2,3860.2 2596.2,3860.2 2597.2,3860.2 2598.2,3860.2 2599.2,3860.2 2600.2,3860.2 2601.2,3860.2 2602.2,3860.2 2603.2,3860.2 2604.2,3860.2 2605.2,3860.2 2606.2,3860.2 2607.2,3860.2 2608.2,3860.2 2609.2,3860.2 2610.2,3860.2 2611.2,3860.2 2612.2,3860.2 2613.2,3860.2 2614.2,3860.2 2615.2,3860.2 2616.2,3860.2 2617.2,3860.2 2618.2,3860.2 2619.2,3860.2 2620.2,3860.2 2621.2,3860.2 2622.2,3860.2 2623.2,3860.2 2624.2,3860.2 2625.2,3860.2 2626.2,3860.2 2627.2,3860.2 2628.2,3860.2 2629.2,3860.2 2630.2,3860.2 2631.2,3860.2 2632.2,3860.2 2633.2,3860.2 2634.2,3860.2 2635.2,3860.2 2636.2,3860.2 2637.2,3860.2 2638.2,3860.2 2639.2,3860.2 2640.2,3860.2 2641.2,3860.2 2642.2,3860.2 2643.2,3860.2 2644.2,3860.2 2645.2,3860.2 2646.2,3860.2 2647.2,3860.2 2648.2,3860.2 2649.2,3860.2 2650.2,3860.2 2651.2,3860.2 2652.2,3860.2 2653.2,3860.2 2654.2,3860.2 2655.2,3860.2 2656.2,3860.2 2657.2,3860.2 2658.2,3860.2 2659.2,3860.2 2660.2,3860.2 2661.2,3860.2 2662.2,3860.2 2663.2,3860.2 2664.2,3860.2 2665.2,3860.1 2666.2,3860.1 2667.2,3860.1 2668.2,3860.1 2669.2,3860.1 2670.2,3860.1 2671.2,3860.1 2672.2,3860.1 2673.2,3860.1 2674.2,3860.1 2675.2,3860.1 2676.2,3860.1 2677.2,3860.1 2678.2,3860.1 2679.2,3860.1 2680.2,3860.1 2681.2,3860.1 2682.2,3860.1 2683.2,3860.1 2684.2,3860.1 2685.2,3860.1 2686.2,3860.1 2687.2,3860.1 2688.2,3860.1 2689.2,3860.1 2690.2,3860.1 2691.2,3860.1 2692.2,3860.1 2693.2,3860.1 2694.2,3860.1 2695.2,3860.1 2696.2,3860.1 2697.2,3860.1 2698.2,3860.1 2699.2,3860.1 2700.2,3860.1 2701.2,3860.1 2702.2,3860.1 2703.2,3860.1 2704.2,3860.1 2705.2,3860.1 2706.2,3860.1 2707.2,3860.1 2708.2,3860.1 2709.2,3860.1 2710.2,3860.1 2711.2,3860.1 2712.2,3860.1 2713.2,3860.1 2714.2,3860.1 2715.2,3860.1 2716.2,3860.1 2717.2,3860.1 2718.2,3860.1 2719.2,3860.1 2720.2,3860.1 2721.2,3860.1 2722.2,3860.1 2723.2,3860.1 2724.2,3860.1 2725.2,3860.1 2726.2,3860.1 2727.2,3860.1 2728.2,3860.1 2729.2,3860.1 2730.2,3860.1 2731.2,3860.1 2732.2,3860.1 2733.2,3860.1 2734.2,3860.1 2735.2,3860.1 2736.2,3860.1 2737.2,3860.1 2738.2,3860.1 2739.2,3860.1 2740.2,3860.1 2741.2,3860.1 2742.2,3860.1 2743.2,3860.1 2744.2,3860.1 2745.2,3860.1 2746.2,3860.1 2747.2,3860.1 2748.2,3860.1 2749.2,3860.1 2750.2,3860.1 2751.2,3860.1 2752.2,3860.1 2753.2,3860.1 2754.2,3860.1 2755.2,3860.1 2756.2,3860.1 2757.2,3860.1 2758.2,3860.1 2759.2,3860.1 2760.2,3860.1 2761.2,3860.1 2762.2,3860.1 2763.2,3860.1 2764.2,3860.1 2765.2,3860.1 2766.2,3860.1 2767.2,3860.1 2768.2,3860.1 2769.2,3860.1 2770.2,3860.1 2771.2,3860.1 2772.2,3860.1 2773.2,3860.1 2774.2,3860.1 2775.2,3860.1 2776.2,3860.1 2777.2,3860.1 2778.2,3860.1 2779.2,3860.1 2780.2,3860.1 2781.2,3860.1 2782.2,3860.1 2783.2,3860.1 2784.2,3860.1 2785.2,3860.1 2786.2,3860.1 2787.2,3860.1 2788.2,3860.1 2789.2,3860.1 2790.2,3860.1 2791.2,3860.1 2792.2,3860.1 2793.2,3860.1 2794.2,3860.1 2795.2,3860.1 2796.2,3860.1 2797.2,3860.1 2798.2,3860.1 2799.2,3860.1 2800.2,3860.1 2801.2,3860.1 2802.2,3860.1 2803.2,3860.1 2804.2,3860.1 2805.2,3860.1 2806.2,3860.1 2807.2,3860.0 2808.2,3860.0 2809.2,3860.0 2810.2,3860.0 2811.2,3860.0 2812.2,3860.0 2813.2,3860.0 2814.2,3860.0 2815.2,3860.0 2816.2,3860.0 2817.2,3860.0 2818.2,3860.0 2819.2,3860.0 2820.2,3860.0 2821.2,3860.0 2822.2,3860.0 2823.2,3860.0 2824.2,3860.0 2825.2,3860.0 2826.2,3860.0 2827.2,3860.0 2828.2,3860.0 2829.2,3860.0 2830.2,3860.0 2831.2,3860.0 2832.2,3860.0 2833.2,3860.0 2834.2,3860.0 2835.2,3860.0 2836.2,3860.0 2837.2,3860.0 2838.2,3860.0 2839.2,3860.0 2840.2,3860.0 2841.2,3860.0 2842.2,3860.0 2843.2,3860.0 2844.2,3860.0 2845.2,3860.0 2846.2,3860.0 2847.2,3860.0 2848.2,3860.0 2849.2,3860.0 2850.2,3860.0 2851.2,3860.0 2852.2,3860.0 2853.2,3860.0 2854.2,3860.0 2855.2,3860.0 2856.2,3860.0 2857.2,3860.0 2858.2,3860.0 2859.2,3860.0 2860.2,3860.0 2861.2,3860.0 2862.2,3860.0 2863.2,3860.0 2864.2,3860.0 2865.2,3860.0 2866.2,3860.0 2867.2,3860.0 2868.2,3860.0 2869.2,3860.0 2870.2,3860.0 2871.2,3860.0 2872.2,3860.0 2873.2,3860.0 2874.2,3860.0 2875.2,3860.0 2876.2,3860.0 2877.2,3860.0" fill="none" stroke="#1B75BB" stroke-width="4.3" stroke-linejoin="round"/>
<polyline points="824.4,3715.4 825.4,3715.3 826.4,3715.2 827.4,3715.0 828.4,3714.9 829.4,3714.6 830.4,3714.2 831.4,3713.8 832.4,3713.3 833.4,3712.6 834.4,3711.9 835.4,3711.0 836.4,3710.1 837.4,3709.0 838.4,3708.0 839.4,3707.0 840.4,3706.0 841.4,3705.1 842.4,3704.4 843.4,3703.8 844.4,3703.5 845.4,3703.5 846.4,3703.5 847.4,3703.5 848.4,3703.6 849.4,3703.7 850.4,3703.8 851.4,3704.0 852.4,3704.2 853.4,3704.4 854.4,3704.6 855.4,3704.8 856.4,3705.1 857.4,3705.4 858.4,3705.7 859.4,3706.0 860.4,3706.3 861.4,3706.6 862.4,3706.9 863.4,3707.3 864.4,3707.6 865.4,3708.0 866.4,3708.3 867.4,3708.7 868.4,3709.0 869.4,3709.4 870.4,3709.7 871.4,3710.0 872.4,3710.4 873.4,3710.7 874.4,3711.0 875.4,3711.3 876.4,3711.5 877.4,3711.8 878.4,3712.1 879.4,3712.3 880.4,3712.6 881.4,3712.8 882.4,3713.0 883.4,3713.2 884.4,3713.4 885.4,3713.6 886.4,3713.7 887.4,3713.9 888.4,3714.0 889.4,3714.1 890.4,3714.2 891.4,3714.4 892.4,3714.5 893.4,3714.5 894.4,3714.6 895.4,3714.7 896.4,3714.7 897.4,3714.8 898.4,3714.8 899.4,3714.8 900.4,3714.8 901.4,3714.8 902.4,3714.8 903.4,3714.7 904.4,3714.7 905.4,3714.6 906.4,3714.5 907.4,3714.4 908.4,3714.3 909.4,3714.2 910.4,3714.1 911.4,3713.9 912.4,3713.8 913.4,3713.7 914.4,3713.6 915.4,3713.5 916.4,3713.4 917.4,3713.3 918.4,3713.3 919.4,3713.3 920.4,3713.3 921.4,3713.3 922.4,3713.4 923.4,3713.5 924.4,3713.6 925.4,3713.7 926.4,3713.8 927.4,3714.0 928.4,3714.1 929.4,3714.3 930.4,3714.4 931.4,3714.5 932.4,3714.6 933.4,3714.7 934.4,3714.8 935.4,3714.9 936.4,3715.0 937.4,3715.0 938.4,3715.1 939.4,3715.1 940.4,3715.2 941.4,3715.2 942.4,3715.2 943.4,3715.2 944.4,3715.2 945.4,3715.2 946.4,3715.2 947.4,3715.2 948.4,3715.2 949.4,3715.2 950.4,3715.2 951.4,3715.2 952.4,3715.2 953.4,3715.2 954.4,3715.2 955.4,3715.2 956.4,3715.2 957.4,3715.2 958.4,3715.2 959.4,3715.2 960.4,3715.2 961.4,3715.2 962.4,3715.2 963.4,3715.2 964.4,3715.2 965.4,3715.2 966.4,3715.2 967.4,3715.2 968.4,3715.2 969.4,3715.2 970.4,3715.2 971.4,3715.2 972.4,3715.2 973.4,3715.2 974.4,3715.2 975.4,3715.2 976.4,3715.2 977.4,3715.2 978.4,3715.2 979.4,3715.2 980.4,3715.2 981.4,3715.2 982.4,3715.2 983.4,3715.2 984.4,3715.2 985.4,3715.2 986.4,3715.2 987.4,3715.2 988.4,3715.2 989.4,3715.2 990.4,3715.1 991.4,3715.1 992.4,3715.1 993.4,3715.1 994.4,3715.1 995.4,3715.1 996.4,3715.1 997.4,3715.1 998.4,3715.1 999.4,3715.1 1000.4,3715.1 1001.4,3715.1 1002.4,3715.1 1003.4,3715.1 1004.4,3715.1 1005.4,3715.1 1006.4,3715.1 1007.4,3715.1 1008.4,3715.1 1009.4,3715.1 1010.4,3715.1 1011.4,3715.1 1012.4,3715.1 1013.4,3715.1 1014.4,3715.1 1015.4,3715.1 1016.4,3715.1 1017.4,3715.1 1018.4,3715.1 1019.4,3715.1 1020.4,3715.1 1021.4,3715.1 1022.4,3715.1 1023.4,3715.1 1024.4,3715.1 1025.4,3715.1 1026.4,3715.1 1027.4,3715.1 1028.4,3715.1 1029.4,3715.1 1030.4,3715.1 1031.4,3715.1 1032.4,3715.1 1033.4,3715.1 1034.4,3715.1 1035.4,3715.1 1036.4,3715.1 1037.4,3715.0 1038.4,3715.0 1039.4,3715.0 1040.4,3715.0 1041.4,3715.0 1042.4,3715.0 1043.4,3715.0 1044.4,3715.0 1045.4,3715.0 1046.4,3715.0 1047.4,3715.0 1048.4,3715.0 1049.4,3715.0 1050.4,3715.0 1051.4,3715.0 1052.4,3715.0 1053.4,3715.0 1054.4,3715.0 1055.4,3715.0 1056.4,3715.0 1057.4,3715.0 1058.4,3715.0 1059.4,3715.0 1060.4,3715.0 1061.4,3715.0 1062.4,3715.0 1063.4,3715.0 1064.4,3715.0 1065.4,3715.0 1066.4,3715.0 1067.4,3715.0 1068.4,3715.0 1069.4,3715.0 1070.4,3715.0 1071.4,3715.0 1072.4,3715.0 1073.4,3715.0 1074.4,3715.0 1075.4,3715.0 1076.4,3715.0 1077.4,3715.0 1078.4,3715.0 1079.4,3715.0 1080.4,3715.0 1081.4,3715.0 1082.4,3715.0 1083.4,3715.0 1084.4,3714.9 1085.4,3714.9 1086.4,3714.9 1087.4,3714.9 1088.4,3714.9 1089.4,3714.9 1090.4,3714.9 1091.4,3714.9 1092.4,3714.9 1093.4,3714.9 1094.4,3714.9 1095.4,3714.9 1096.4,3714.9 1097.4,3714.9 1098.4,3714.8 1099.4,3714.8 1100.4,3714.8 1101.4,3714.7 1102.4,3714.6 1103.4,3714.6 1104.4,3714.5 1105.4,3714.4 1106.4,3714.2 1107.4,3714.1 1108.4,3713.9 1109.4,3713.8 1110.4,3713.6 1111.4,3713.4 1112.4,3713.2 1113.4,3712.9 1114.4,3712.7 1115.4,3712.5 1116.4,3712.4 1117.4,3712.2 1118.4,3712.1 1119.4,3712.0 1120.4,3711.9 1121.4,3711.9 1122.4,3711.9 1123.4,3711.9 1124.4,3712.0 1125.4,3712.2 1126.4,3712.3 1127.4,3712.5 1128.4,3712.7 1129.4,3712.9 1130.4,3713.1 1131.4,3713.3 1132.4,3713.5 1133.4,3713.7 1134.4,3713.9 1135.4,3714.0 1136.4,3714.2 1137.4,3714.3 1138.4,3714.4 1139.4,3714.5 1140.4,3714.6 1141.4,3714.6 1142.4,3714.7 1143.4,3714.7 1144.4,3714.7 1145.4,3714.8 1146.4,3714.8 1147.4,3714.8 1148.4,3714.8 1149.4,3714.8 1150.4,3714.8 1151.4,3714.8 1152.4,3714.8 1153.4,3714.8 1154.4,3714.8 1155.4,3714.8 1156.4,3714.8 1157.4,3714.8 1158.4,3714.8 1159.4,3714.8 1160.4,3714.8 1161.4,3714.8 1162.4,3714.8 1163.4,3714.8 1164.4,3714.8 1165.4,3714.8 1166.4,3714.8 1167.4,3714.8 1168.4,3714.8 1169.4,3714.8 1170.4,3714.8 1171.4,3714.8 1172.4,3714.8 1173.4,3714.8 1174.4,3714.8 1175.4,3714.8 1176.4,3714.8 1177.4,3714.8 1178.4,3714.7 1179.4,3714.7 1180.4,3714.7 1181.4,3714.7 1182.4,3714.7 1183.4,3714.7 1184.4,3714.7 1185.4,3714.7 1186.4,3714.7 1187.4,3714.7 1188.4,3714.7 1189.4,3714.7 1190.4,3714.7 1191.4,3714.7 1192.4,3714.7 1193.4,3714.7 1194.4,3714.7 1195.4,3714.7 1196.4,3714.7 1197.4,3714.7 1198.4,3714.7 1199.4,3714.7 1200.4,3714.7 1201.4,3714.7 1202.4,3714.7 1203.4,3714.7 1204.4,3714.7 1205.4,3714.7 1206.4,3714.7 1207.4,3714.7 1208.4,3714.7 1209.4,3714.7 1210.4,3714.7 1211.4,3714.7 1212.4,3714.7 1213.4,3714.7 1214.4,3714.7 1215.4,3714.7 1216.4,3714.7 1217.4,3714.7 1218.4,3714.7 1219.4,3714.7 1220.4,3714.7 1221.4,3714.7 1222.4,3714.7 1223.4,3714.7 1224.4,3714.7 1225.4,3714.6 1226.4,3714.6 1227.4,3714.6 1228.4,3714.6 1229.4,3714.6 1230.4,3714.6 1231.4,3714.6 1232.4,3714.6 1233.4,3714.6 1234.4,3714.6 1235.4,3714.6 1236.4,3714.6 1237.4,3714.6 1238.4,3714.6 1239.4,3714.6 1240.4,3714.6 1241.4,3714.6 1242.4,3714.6 1243.4,3714.6 1244.4,3714.6 1245.4,3714.6 1246.4,3714.6 1247.4,3714.6 1248.4,3714.6 1249.4,3714.6 1250.4,3714.6 1251.4,3714.6 1252.4,3714.6 1253.4,3714.6 1254.4,3714.6 1255.4,3714.6 1256.4,3714.6 1257.4,3714.6 1258.4,3714.6 1259.4,3714.6 1260.4,3714.6 1261.4,3714.6 1262.4,3714.6 1263.4,3714.6 1264.4,3714.6 1265.4,3714.6 1266.4,3714.6 1267.4,3714.6 1268.4,3714.6 1269.4,3714.6 1270.4,3714.6 1271.4,3714.6 1272.4,3714.6 1273.4,3714.5 1274.4,3714.5 1275.4,3714.5 1276.4,3714.5 1277.4,3714.5 1278.4,3714.5 1279.4,3714.5 1280.4,3714.5 1281.4,3714.5 1282.4,3714.5 1283.4,3714.5 1284.4,3714.5 1285.4,3714.5 1286.4,3714.5 1287.4,3714.5 1288.4,3714.5 1289.4,3714.5 1290.4,3714.5 1291.4,3714.5 1292.4,3714.5 1293.4,3714.5 1294.4,3714.5 1295.4,3714.5 1296.4,3714.5 1297.4,3714.5 1298.4,3714.5 1299.4,3714.5 1300.4,3714.5 1301.4,3714.5 1302.4,3714.5 1303.4,3714.5 1304.4,3714.5 1305.4,3714.5 1306.4,3714.5 1307.4,3714.5 1308.4,3714.5 1309.4,3714.5 1310.4,3714.5 1311.4,3714.5 1312.4,3714.5 1313.4,3714.5 1314.4,3714.5 1315.4,3714.5 1316.4,3714.5 1317.4,3714.5 1318.4,3714.5 1319.4,3714.5 1320.4,3714.4 1321.4,3714.4 1322.4,3714.4 1323.4,3714.4 1324.4,3714.4 1325.4,3714.4 1326.4,3714.4 1327.4,3714.4 1328.4,3714.4 1329.4,3714.4 1330.4,3714.4 1331.4,3714.4 1332.4,3714.4 1333.4,3714.4 1334.4,3714.4 1335.4,3714.4 1336.4,3714.4 1337.4,3714.4 1338.4,3714.4 1339.4,3714.4 1340.4,3714.4 1341.4,3714.4 1342.4,3714.4 1343.4,3714.4 1344.4,3714.4 1345.4,3714.4 1346.4,3714.4 1347.4,3714.4 1348.4,3714.4 1349.4,3714.4 1350.4,3714.4 1351.4,3714.4 1352.4,3714.4 1353.4,3714.4 1354.4,3714.4 1355.4,3714.4 1356.4,3714.4 1357.4,3714.4 1358.4,3714.4 1359.4,3714.4 1360.4,3714.4 1361.4,3714.4 1362.4,3714.4 1363.4,3714.4 1364.4,3714.4 1365.4,3714.4 1366.4,3714.4 1367.4,3714.3 1368.4,3714.3 1369.4,3714.3 1370.4,3714.3 1371.4,3714.3 1372.4,3714.3 1373.4,3714.3 1374.4,3714.3 1375.4,3714.3 1376.4,3714.3 1377.4,3714.3 1378.4,3714.3 1379.4,3714.3 1380.4,3714.3 1381.4,3714.3 1382.4,3714.3 1383.4,3714.3 1384.4,3714.3 1385.4,3714.3 1386.4,3714.3 1387.4,3714.3 1388.4,3714.3 1389.4,3714.3 1390.4,3714.3 1391.4,3714.2 1392.4,3714.2 1393.4,3714.0 1394.4,3713.7 1395.4,3713.2 1396.4,3712.2 1397.4,3710.4 1398.4,3707.4 1399.4,3702.6 1400.4,3695.0 1401.4,3683.6 1402.4,3667.4 1403.4,3645.2 1404.4,3616.2 1405.4,3580.1 1406.4,3537.4 1407.4,3489.8 1408.4,3439.7 1409.4,3390.7 1410.4,3346.9 1411.4,3312.4 1412.4,3290.8 1413.4,3284.4 1414.4,3292.9 1415.4,3312.6 1416.4,3341.9 1417.4,3378.5 1418.4,3419.6 1419.4,3462.2 1420.4,3503.9 1421.4,3542.6 1422.4,3576.8 1423.4,3605.8 1424.4,3629.5 1425.4,3648.1 1426.4,3662.2 1427.4,3672.6 1428.4,3680.1 1429.4,3685.3 1430.4,3689.0 1431.4,3691.6 1432.4,3693.4 1433.4,3694.7 1434.4,3695.8 1435.4,3696.6 1436.4,3697.3 1437.4,3698.0 1438.4,3698.6 1439.4,3699.1 1440.4,3699.7 1441.4,3700.2 1442.4,3700.7 1443.4,3701.2 1444.4,3701.6 1445.4,3702.1 1446.4,3702.5 1447.4,3702.9 1448.4,3703.3 1449.4,3703.7 1450.4,3704.1 1451.4,3704.4 1452.4,3704.8 1453.4,3705.1 1454.4,3705.4 1455.4,3705.7 1456.4,3706.0 1457.4,3706.3 1458.4,3706.6 1459.4,3706.9 1460.4,3707.1 1461.4,3707.4 1462.4,3707.6 1463.4,3707.8 1464.4,3708.1 1465.4,3708.3 1466.4,3708.5 1467.4,3708.7 1468.4,3708.9 1469.4,3709.0 1470.4,3709.2 1471.4,3709.4 1472.4,3709.6 1473.4,3709.7 1474.4,3709.9 1475.4,3710.0 1476.4,3710.2 1477.4,3710.3 1478.4,3710.4 1479.4,3710.6 1480.4,3710.7 1481.4,3710.8 1482.4,3710.9 1483.4,3711.0 1484.4,3711.1 1485.4,3711.2 1486.4,3711.3 1487.4,3711.4 1488.4,3711.5 1489.4,3711.5 1490.4,3711.5 1491.4,3711.3 1492.4,3711.0 1493.4,3710.2 1494.4,3709.0 1495.4,3706.9 1496.4,3703.7 1497.4,3699.3 1498.4,3693.5 1499.4,3686.6 1500.4,3678.8 1501.4,3671.0 1502.4,3663.9 1503.4,3658.7 1504.4,3655.9 1505.4,3656.2 1506.4,3658.5 1507.4,3662.5 1508.4,3667.6 1509.4,3673.6 1510.4,3679.7 1511.4,3685.8 1512.4,3691.3 1513.4,3696.0 1514.4,3700.0 1515.4,3703.1 1516.4,3705.4 1517.4,3707.2 1518.4,3708.4 1519.4,3709.3 1520.4,3709.9 1521.4,3710.3 1522.4,3710.6 1523.4,3710.9 1524.4,3711.1 1525.4,3711.2 1526.4,3711.4 1527.4,3711.5 1528.4,3711.7 1529.4,3711.8 1530.4,3711.9 1531.4,3712.0 1532.4,3712.1 1533.4,3712.2 1534.4,3712.3 1535.4,3712.4 1536.4,3712.4 1537.4,3712.5 1538.4,3712.6 1539.4,3712.7 1540.4,3712.7 1541.4,3712.8 1542.4,3712.8 1543.4,3712.9 1544.4,3712.9 1545.4,3713.0 1546.4,3713.0 1547.4,3713.1 1548.4,3713.1 1549.4,3713.2 1550.4,3713.2 1551.4,3713.2 1552.4,3713.3 1553.4,3713.3 1554.4,3713.3 1555.4,3713.4 1556.4,3713.4 1557.4,3713.4 1558.4,3713.4 1559.4,3713.5 1560.4,3713.5 1561.4,3713.5 1562.4,3713.5 1563.4,3713.5 1564.4,3713.6 1565.4,3713.6 1566.4,3713.6 1567.4,3713.6 1568.4,3713.6 1569.4,3713.6 1570.4,3713.6 1571.4,3713.6 1572.4,3713.7 1573.4,3713.7 1574.4,3713.7 1575.4,3713.7 1576.4,3713.7 1577.4,3713.7 1578.4,3713.7 1579.4,3713.7 1580.4,3713.7 1581.4,3713.7 1582.4,3713.7 1583.4,3713.7 1584.4,3713.7 1585.4,3713.7 1586.4,3713.7 1587.4,3713.8 1588.4,3713.8 1589.4,3713.8 1590.4,3713.8 1591.4,3713.8 1592.4,3713.8 1593.4,3713.8 1594.4,3713.8 1595.4,3713.8 1596.4,3713.8 1597.4,3713.8 1598.4,3713.8 1599.4,3713.8 1600.4,3713.8 1601.4,3713.8 1602.4,3713.8 1603.4,3713.8 1604.4,3713.8 1605.4,3713.8 1606.4,3713.8 1607.4,3713.8 1608.4,3713.8 1609.4,3713.8 1610.4,3713.8 1611.4,3713.8 1612.4,3713.8 1613.4,3713.8 1614.4,3713.8 1615.4,3713.8 1616.4,3713.8 1617.4,3713.8 1618.4,3713.8 1619.4,3713.8 1620.4,3713.8 1621.4,3713.8 1622.4,3713.8 1623.4,3713.8 1624.4,3713.8 1625.4,3713.8 1626.4,3713.8 1627.4,3713.8 1628.4,3713.8 1629.4,3713.8 1630.4,3713.8 1631.4,3713.8 1632.4,3713.8 1633.4,3713.8 1634.4,3713.8 1635.4,3713.8 1636.4,3713.8 1637.4,3713.8 1638.4,3713.8 1639.4,3713.8 1640.4,3713.8 1641.4,3713.8 1642.4,3713.8 1643.4,3713.8 1644.4,3713.8 1645.4,3713.7 1646.4,3713.7 1647.4,3713.7 1648.4,3713.7 1649.4,3713.7 1650.4,3713.7 1651.4,3713.7 1652.4,3713.7 1653.4,3713.7 1654.4,3713.7 1655.4,3713.7 1656.4,3713.7 1657.4,3713.7 1658.4,3713.7 1659.4,3713.7 1660.4,3713.7 1661.4,3713.7 1662.4,3713.7 1663.4,3713.7 1664.4,3713.7 1665.4,3713.7 1666.4,3713.7 1667.4,3713.7 1668.4,3713.7 1669.4,3713.7 1670.4,3713.7 1671.4,3713.7 1672.4,3713.7 1673.4,3713.7 1674.4,3713.6 1675.4,3713.6 1676.4,3713.6 1677.4,3713.5 1678.4,3713.4 1679.4,3713.4 1680.4,3713.2 1681.4,3713.1 1682.4,3712.9 1683.4,3712.7 1684.4,3712.4 1685.4,3712.1 1686.4,3711.8 1687.4,3711.4 1688.4,3711.1 1689.4,3710.7 1690.4,3710.4 1691.4,3710.1 1692.4,3709.9 1693.4,3709.7 1694.4,3709.7 1695.4,3709.7 1696.4,3709.7 1697.4,3709.8 1698.4,3709.9 1699.4,3710.0 1700.4,3710.2 1701.4,3710.4 1702.4,3710.6 1703.4,3710.8 1704.4,3711.0 1705.4,3711.3 1706.4,3711.5 1707.4,3711.7 1708.4,3711.9 1709.4,3712.1 1710.4,3712.3 1711.4,3712.5 1712.4,3712.7 1713.4,3712.8 1714.4,3712.9 1715.4,3713.1 1716.4,3713.2 1717.4,3713.2 1718.4,3713.3 1719.4,3713.4 1720.4,3713.4 1721.4,3713.4 1722.4,3713.5 1723.4,3713.5 1724.4,3713.5 1725.4,3713.5 1726.4,3713.5 1727.4,3713.6 1728.4,3713.6 1729.4,3713.6 1730.4,3713.6 1731.4,3713.6 1732.4,3713.6 1733.4,3713.6 1734.4,3713.6 1735.4,3713.6 1736.4,3713.6 1737.4,3713.5 1738.4,3713.5 1739.4,3713.5 1740.4,3713.4 1741.4,3713.3 1742.4,3713.1 1743.4,3712.9 1744.4,3712.5 1745.4,3712.1 1746.4,3711.5 1747.4,3710.7 1748.4,3709.8 1749.4,3708.8 1750.4,3707.7 1751.4,3706.7 1752.4,3705.8 1753.4,3705.1 1754.4,3704.6 1755.4,3704.5 1756.4,3704.7 1757.4,3705.3 1758.4,3706.0 1759.4,3707.0 1760.4,3708.0 1761.4,3709.1 1762.4,3710.0 1763.4,3710.9 1764.4,3711.6 1765.4,3712.2 1766.4,3712.6 1767.4,3712.9 1768.4,3713.1 1769.4,3713.3 1770.4,3713.4 1771.4,3713.4 1772.4,3713.5 1773.4,3713.5 1774.4,3713.5 1775.4,3713.5 1776.4,3713.5 1777.4,3713.5 1778.4,3713.5 1779.4,3713.5 1780.4,3713.5 1781.4,3713.5 1782.4,3713.5 1783.4,3713.4 1784.4,3713.4 1785.4,3713.4 1786.4,3713.3 1787.4,3713.2 1788.4,3713.0 1789.4,3712.8 1790.4,3712.4 1791.4,3712.0 1792.4,3711.5 1793.4,3710.9 1794.4,3710.2 1795.4,3709.5 1796.4,3708.8 1797.4,3708.2 1798.4,3707.8 1799.4,3707.5 1800.4,3707.4 1801.4,3707.6 1802.4,3708.0 1803.4,3708.5 1804.4,3709.1 1805.4,3709.8 1806.4,3710.5 1807.4,3711.2 1808.4,3711.7 1809.4,3712.2 1810.4,3712.6 1811.4,3712.8 1812.4,3713.0 1813.4,3713.2 1814.4,3713.3 1815.4,3713.3 1816.4,3713.4 1817.4,3713.4 1818.4,3713.4 1819.4,3713.4 1820.4,3713.4 1821.4,3713.4 1822.4,3713.4 1823.4,3713.4 1824.4,3713.4 1825.4,3713.4 1826.4,3713.4 1827.4,3713.4 1828.4,3713.4 1829.4,3713.4 1830.4,3713.4 1831.4,3713.4 1832.4,3713.4 1833.4,3713.4 1834.4,3713.4 1835.4,3713.4 1836.4,3713.4 1837.4,3713.4 1838.4,3713.3 1839.4,3713.3 1840.4,3713.3 1841.4,3713.3 1842.4,3713.3 1843.4,3713.3 1844.4,3713.3 1845.4,3713.3 1846.4,3713.3 1847.4,3713.3 1848.4,3713.3 1849.4,3713.3 1850.4,3713.3 1851.4,3713.3 1852.4,3713.3 1853.4,3713.3 1854.4,3713.3 1855.4,3713.3 1856.4,3713.2 1857.4,3713.2 1858.4,3713.1 1859.4,3713.0 1860.4,3712.8 1861.4,3712.5 1862.4,3712.1 1863.4,3711.6 1864.4,3711.0 1865.4,3710.2 1866.4,3709.3 1867.4,3708.4 1868.4,3707.4 1869.4,3706.6 1870.4,3705.8 1871.4,3705.3 1872.4,3705.0 1873.4,3705.0 1874.4,3705.3 1875.4,3705.9 1876.4,3706.6 1877.4,3707.4 1878.4,3708.3 1879.4,3709.1 1880.4,3709.8 1881.4,3710.4 1882.4,3710.8 1883.4,3711.1 1884.4,3711.3 1885.4,3711.4 1886.4,3711.4 1887.4,3711.3 1888.4,3711.1 1889.4,3710.9 1890.4,3710.7 1891.4,3710.5 1892.4,3710.2 1893.4,3709.9 1894.4,3709.6 1895.4,3709.2 1896.4,3708.9 1897.4,3708.5 1898.4,3708.1 1899.4,3707.6 1900.4,3707.2 1901.4,3706.7 1902.4,3706.2 1903.4,3705.7 1904.4,3705.2 1905.4,3704.6 1906.4,3704.1 1907.4,3703.5 1908.4,3702.9 1909.4,3702.3 1910.4,3701.7 1911.4,3701.1 1912.4,3700.5 1913.4,3699.8 1914.4,3699.2 1915.4,3698.6 1916.4,3698.0 1917.4,3697.4 1918.4,3696.9 1919.4,3696.3 1920.4,3695.8 1921.4,3695.3 1922.4,3694.8 1923.4,3694.4 1924.4,3694.0 1925.4,3693.6 1926.4,3693.2 1927.4,3693.0 1928.4,3692.7 1929.4,3692.5 1930.4,3692.3 1931.4,3692.2 1932.4,3692.2 1933.4,3692.2 1934.4,3693.0 1935.4,3694.8 1936.4,3697.4 1937.4,3700.3 1938.4,3703.2 1939.4,3705.8 1940.4,3708.0 1941.4,3709.8 1942.4,3711.0 1943.4,3711.9 1944.4,3712.4 1945.4,3712.8 1946.4,3712.9 1947.4,3713.0 1948.4,3713.1 1949.4,3713.1 1950.4,3713.1 1951.4,3713.1 1952.4,3713.1 1953.4,3713.1 1954.4,3713.1 1955.4,3713.1 1956.4,3713.1 1957.4,3713.1 1958.4,3713.1 1959.4,3713.1 1960.4,3713.1 1961.4,3713.1 1962.4,3713.1 1963.4,3713.1 1964.4,3713.1 1965.4,3713.1 1966.4,3713.1 1967.4,3713.1 1968.4,3713.1 1969.4,3713.1 1970.4,3713.1 1971.4,3713.1 1972.4,3713.1 1973.4,3713.1 1974.4,3713.1 1975.4,3713.1 1976.4,3713.1 1977.4,3713.1 1978.4,3713.1 1979.4,3713.1 1980.4,3713.0 1981.4,3713.0 1982.4,3713.0 1983.4,3713.0 1984.4,3713.0 1985.4,3713.0 1986.4,3713.0 1987.4,3713.0 1988.4,3713.0 1989.4,3713.0 1990.4,3713.0 1991.4,3713.0 1992.4,3713.0 1993.4,3713.0 1994.4,3713.0 1995.4,3713.0 1996.4,3713.0 1997.4,3713.0 1998.4,3713.0 1999.4,3712.9 2000.4,3712.9 2001.4,3712.8 2002.4,3712.8 2003.4,3712.7 2004.4,3712.5 2005.4,3712.4 2006.4,3712.2 2007.4,3711.9 2008.4,3711.6 2009.4,3711.3 2010.4,3710.9 2011.4,3710.5 2012.4,3710.0 2013.4,3709.6 2014.4,3709.2 2015.4,3708.8 2016.4,3708.4 2017.4,3708.2 2018.4,3708.0 2019.4,3708.0 2020.4,3708.0 2021.4,3708.1 2022.4,3708.2 2023.4,3708.4 2024.4,3708.7 2025.4,3709.0 2026.4,3709.3 2027.4,3709.7 2028.4,3710.0 2029.4,3710.4 2030.4,3710.7 2031.4,3711.0 2032.4,3711.3 2033.4,3711.6 2034.4,3711.8 2035.4,3712.0 2036.4,3712.2 2037.4,3712.3 2038.4,3712.5 2039.4,3712.6 2040.4,3712.6 2041.4,3712.7 2042.4,3712.8 2043.4,3712.8 2044.4,3712.8 2045.4,3712.8 2046.4,3712.8 2047.4,3712.9 2048.4,3712.9 2049.4,3712.9 2050.4,3712.9 2051.4,3712.9 2052.4,3712.9 2053.4,3712.9 2054.4,3712.8 2055.4,3712.8 2056.4,3712.8 2057.4,3712.8 2058.4,3712.8 2059.4,3712.8 2060.4,3712.8 2061.4,3712.8 2062.4,3712.8 2063.4,3712.8 2064.4,3712.8 2065.4,3712.8 2066.4,3712.8 2067.4,3712.8 2068.4,3712.8 2069.4,3712.8 2070.4,3712.7 2071.4,3712.7 2072.4,3712.7 2073.4,3712.7 2074.4,3712.7 2075.4,3712.7 2076.4,3712.7 2077.4,3712.7 2078.4,3712.7 2079.4,3712.7 2080.4,3712.6 2081.4,3712.6 2082.4,3712.6 2083.4,3712.6 2084.4,3712.6 2085.4,3712.6 2086.4,3712.5 2087.4,3712.5 2088.4,3712.5 2089.4,3712.5 2090.4,3712.5 2091.4,3712.5 2092.4,3712.4 2093.4,3712.4 2094.4,3712.4 2095.4,3712.4 2096.4,3712.3 2097.4,3712.3 2098.4,3712.3 2099.4,3712.3 2100.4,3712.2 2101.4,3712.2 2102.4,3712.2 2103.4,3712.1 2104.4,3712.1 2105.4,3712.1 2106.4,3712.0 2107.4,3712.0 2108.4,3712.0 2109.4,3711.9 2110.4,3711.9 2111.4,3711.8 2112.4,3711.8 2113.4,3711.7 2114.4,3711.7 2115.4,3711.6 2116.4,3711.6 2117.4,3711.5 2118.4,3711.5 2119.4,3711.4 2120.4,3711.4 2121.4,3711.3 2122.4,3711.3 2123.4,3711.2 2124.4,3711.1 2125.4,3711.1 2126.4,3711.0 2127.4,3710.9 2128.4,3710.8 2129.4,3710.8 2130.4,3710.7 2131.4,3710.6 2132.4,3710.5 2133.4,3710.5 2134.4,3710.4 2135.4,3710.3 2136.4,3710.2 2137.4,3710.1 2138.4,3710.0 2139.4,3709.9 2140.4,3709.8 2141.4,3709.7 2142.4,3709.6 2143.4,3709.5 2144.4,3709.4 2145.4,3709.3 2146.4,3709.2 2147.4,3709.1 2148.4,3709.0 2149.4,3708.8 2150.4,3708.7 2151.4,3708.6 2152.4,3708.5 2153.4,3708.3 2154.4,3708.2 2155.4,3708.1 2156.4,3708.0 2157.4,3707.8 2158.4,3707.7 2159.4,3707.6 2160.4,3707.4 2161.4,3707.3 2162.4,3707.1 2163.4,3707.0 2164.4,3706.9 2165.4,3706.7 2166.4,3706.6 2167.4,3706.4 2168.4,3706.3 2169.4,3706.1 2170.4,3706.0 2171.4,3705.8 2172.4,3705.7 2173.4,3705.5 2174.4,3705.4 2175.4,3705.2 2176.4,3705.0 2177.4,3704.9 2178.4,3704.7 2179.4,3704.6 2180.4,3704.4 2181.4,3704.3 2182.4,3704.1 2183.4,3704.0 2184.4,3703.8 2185.4,3703.7 2186.4,3703.5 2187.4,3703.4 2188.4,3703.2 2189.4,3703.1 2190.4,3702.9 2191.4,3702.8 2192.4,3702.6 2193.4,3702.5 2194.4,3702.4 2195.4,3702.2 2196.4,3702.1 2197.4,3701.9 2198.4,3701.8 2199.4,3701.7 2200.4,3701.6 2201.4,3701.4 2202.4,3701.3 2203.4,3701.2 2204.4,3701.1 2205.4,3701.0 2206.4,3700.9 2207.4,3700.8 2208.4,3700.7 2209.4,3700.6 2210.4,3700.5 2211.4,3700.4 2212.4,3700.3 2213.4,3700.2 2214.4,3700.1 2215.4,3700.1 2216.4,3700.0 2217.4,3699.9 2218.4,3699.9 2219.4,3699.8 2220.4,3699.8 2221.4,3699.7 2222.4,3699.7 2223.4,3699.6 2224.4,3699.6 2225.4,3699.6 2226.4,3699.6 2227.4,3699.5 2228.4,3699.5 2229.4,3699.5 2230.4,3699.5 2231.4,3699.7 2232.4,3700.2 2233.4,3700.9 2234.4,3701.7 2235.4,3702.7 2236.4,3703.8 2237.4,3705.0 2238.4,3706.1 2239.4,3707.2 2240.4,3708.1 2241.4,3709.0 2242.4,3709.8 2243.4,3710.4 2244.4,3710.9 2245.4,3711.3 2246.4,3711.7 2247.4,3711.9 2248.4,3712.1 2249.4,3712.2 2250.4,3712.3 2251.4,3712.4 2252.4,3712.4 2253.4,3712.4 2254.4,3712.4 2255.4,3712.4 2256.4,3712.5 2257.4,3712.5 2258.4,3712.5 2259.4,3712.5 2260.4,3712.5 2261.4,3712.5 2262.4,3712.4 2263.4,3712.4 2264.4,3712.4 2265.4,3712.4 2266.4,3712.4 2267.4,3712.4 2268.4,3712.3 2269.4,3712.3 2270.4,3712.2 2271.4,3712.0 2272.4,3711.8 2273.4,3711.5 2274.4,3711.0 2275.4,3710.5 2276.4,3709.8 2277.4,3709.1 2278.4,3708.3 2279.4,3707.5 2280.4,3706.7 2281.4,3706.1 2282.4,3705.6 2283.4,3705.4 2284.4,3705.4 2285.4,3705.6 2286.4,3705.9 2287.4,3706.2 2288.4,3706.4 2289.4,3706.1 2290.4,3705.1 2291.4,3703.0 2292.4,3699.4 2293.4,3693.8 2294.4,3685.8 2295.4,3675.2 2296.4,3661.6 2297.4,3645.4 2298.4,3627.1 2299.4,3607.6 2300.4,3588.4 2301.4,3570.9 2302.4,3556.9 2303.4,3547.7 2304.4,3544.4 2305.4,3546.7 2306.4,3551.8 2307.4,3559.6 2308.4,3569.6 2309.4,3581.2 2310.4,3593.9 2311.4,3607.1 2312.4,3620.3 2313.4,3632.9 2314.4,3644.7 2315.4,3655.3 2316.4,3664.6 2317.4,3672.5 2318.4,3679.1 2319.4,3684.5 2320.4,3688.8 2321.4,3692.2 2322.4,3694.9 2323.4,3696.9 2324.4,3698.5 2325.4,3699.7 2326.4,3700.6 2327.4,3701.4 2328.4,3702.0 2329.4,3702.5 2330.4,3702.9 2331.4,3703.3 2332.4,3703.7 2333.4,3704.0 2334.4,3704.3 2335.4,3704.6 2336.4,3704.9 2337.4,3705.1 2338.4,3705.2 2339.4,3705.3 2340.4,3705.3 2341.4,3705.3 2342.4,3705.1 2343.4,3704.7 2344.4,3704.2 2345.4,3703.5 2346.4,3702.6 2347.4,3701.6 2348.4,3700.5 2349.4,3699.2 2350.4,3698.0 2351.4,3696.9 2352.4,3695.9 2353.4,3695.2 2354.4,3694.8 2355.4,3694.7 2356.4,3695.0 2357.4,3695.4 2358.4,3695.9 2359.4,3696.7 2360.4,3697.5 2361.4,3698.5 2362.4,3699.5 2363.4,3700.5 2364.4,3701.6 2365.4,3702.7 2366.4,3703.7 2367.4,3704.7 2368.4,3705.6 2369.4,3706.4 2370.4,3707.2 2371.4,3707.8 2372.4,3708.4 2373.4,3708.9 2374.4,3709.3 2375.4,3709.6 2376.4,3709.9 2377.4,3710.1 2378.4,3710.3 2379.4,3710.4 2380.4,3710.3 2381.4,3710.1 2382.4,3709.5 2383.4,3708.3 2384.4,3706.3 2385.4,3702.9 2386.4,3697.7 2387.4,3689.8 2388.4,3678.7 2389.4,3664.0 2390.4,3645.3 2391.4,3623.1 2392.4,3598.3 2393.4,3572.6 2394.4,3548.1 2395.4,3527.4 2396.4,3512.7 2397.4,3505.9 2398.4,3507.4 2399.4,3513.2 2400.4,3522.2 2401.4,3534.0 2402.4,3548.0 2403.4,3563.5 2404.4,3579.8 2405.4,3596.1 2406.4,3611.8 2407.4,3626.4 2408.4,3639.5 2409.4,3650.7 2410.4,3659.8 2411.4,3666.7 2412.4,3671.2 2413.4,3673.3 2414.4,3672.7 2415.4,3669.5 2416.4,3663.4 2417.4,3654.4 2418.4,3642.6 2419.4,3628.2 2420.4,3611.7 2421.4,3593.6 2422.4,3575.0 2423.4,3556.8 2424.4,3540.3 2425.4,3526.8 2426.4,3517.1 2427.4,3512.2 2428.4,3512.9 2429.4,3518.8 2430.4,3528.6 2431.4,3541.8 2432.4,3557.4 2433.4,3574.6 2434.4,3592.2 2435.4,3609.4 2436.4,3625.5 2437.4,3639.9 2438.4,3652.3 2439.4,3662.8 2440.4,3671.3 2441.4,3678.0 2442.4,3683.2 2443.4,3687.1 2444.4,3690.1 2445.4,3692.3 2446.4,3694.0 2447.4,3695.3 2448.4,3696.3 2449.4,3697.2 2450.4,3697.9 2451.4,3698.6 2452.4,3699.2 2453.4,3699.7 2454.4,3700.3 2455.4,3700.8 2456.4,3701.2 2457.4,3701.7 2458.4,3702.1 2459.4,3702.5 2460.4,3702.9 2461.4,3703.3 2462.4,3703.7 2463.4,3704.0 2464.4,3704.3 2465.4,3704.6 2466.4,3705.0 2467.4,3705.2 2468.4,3705.5 2469.4,3705.8 2470.4,3706.0 2471.4,3706.3 2472.4,3706.5 2473.4,3706.8 2474.4,3707.0 2475.4,3707.2 2476.4,3707.4 2477.4,3707.6 2478.4,3707.7 2479.4,3707.9 2480.4,3708.1 2481.4,3708.2 2482.4,3708.4 2483.4,3708.5 2484.4,3708.7 2485.4,3708.8 2486.4,3708.9 2487.4,3708.9 2488.4,3708.9 2489.4,3708.6 2490.4,3708.0 2491.4,3706.7 2492.4,3704.5 2493.4,3701.0 2494.4,3695.5 2495.4,3687.8 2496.4,3677.5 2497.4,3664.9 2498.4,3650.7 2499.4,3636.0 2500.4,3622.4 2501.4,3611.8 2502.4,3605.6 2503.4,3604.9 2504.4,3608.5 2505.4,3614.9 2506.4,3623.6 2507.4,3633.7 2508.4,3644.5 2509.4,3655.2 2510.4,3665.0 2511.4,3673.7 2512.4,3680.9 2513.4,3686.7 2514.4,3691.2 2515.4,3694.5 2516.4,3696.9 2517.4,3698.7 2518.4,3699.9 2519.4,3700.9 2520.4,3701.6 2521.4,3702.1 2522.4,3702.6 2523.4,3703.0 2524.4,3703.4 2525.4,3703.7 2526.4,3704.1 2527.4,3704.4 2528.4,3704.7 2529.4,3705.0 2530.4,3705.3 2531.4,3705.5 2532.4,3705.8 2533.4,3706.0 2534.4,3706.3 2535.4,3706.5 2536.4,3706.7 2537.4,3706.9 2538.4,3707.1 2539.4,3707.3 2540.4,3707.5 2541.4,3707.7 2542.4,3707.8 2543.4,3708.0 2544.4,3708.1 2545.4,3708.3 2546.4,3708.4 2547.4,3708.6 2548.4,3708.7 2549.4,3708.8 2550.4,3708.9 2551.4,3709.1 2552.4,3709.2 2553.4,3709.3 2554.4,3709.4 2555.4,3709.5 2556.4,3709.6 2557.4,3709.6 2558.4,3709.7 2559.4,3709.7 2560.4,3709.6 2561.4,3709.4 2562.4,3709.1 2563.4,3708.6 2564.4,3707.8 2565.4,3706.7 2566.4,3705.3 2567.4,3703.8 2568.4,3702.2 2569.4,3700.6 2570.4,3699.5 2571.4,3698.7 2572.4,3698.6 2573.4,3699.0 2574.4,3699.8 2575.4,3700.9 2576.4,3702.3 2577.4,3703.7 2578.4,3705.1 2579.4,3706.4 2580.4,3707.6 2581.4,3708.6 2582.4,3709.3 2583.4,3709.9 2584.4,3710.3 2585.4,3710.6 2586.4,3710.8 2587.4,3711.0 2588.4,3711.1 2589.4,3711.1 2590.4,3711.2 2591.4,3711.2 2592.4,3711.2 2593.4,3711.3 2594.4,3711.3 2595.4,3711.3 2596.4,3711.3 2597.4,3711.3 2598.4,3711.3 2599.4,3711.4 2600.4,3711.4 2601.4,3711.4 2602.4,3711.4 2603.4,3711.4 2604.4,3711.4 2605.4,3711.4 2606.4,3711.4 2607.4,3711.4 2608.4,3711.5 2609.4,3711.5 2610.4,3711.5 2611.4,3711.5 2612.4,3711.5 2613.4,3711.5 2614.4,3711.5 2615.4,3711.5 2616.4,3711.5 2617.4,3711.5 2618.4,3711.5 2619.4,3711.5 2620.4,3711.5 2621.4,3711.5 2622.4,3711.5 2623.4,3711.5 2624.4,3711.5 2625.4,3711.5 2626.4,3711.5 2627.4,3711.5 2628.4,3711.4 2629.4,3711.4 2630.4,3711.3 2631.4,3711.3 2632.4,3711.2 2633.4,3711.1 2634.4,3711.0 2635.4,3710.8 2636.4,3710.7 2637.4,3710.5 2638.4,3710.3 2639.4,3710.1 2640.4,3709.9 2641.4,3709.7 2642.4,3709.5 2643.4,3709.3 2644.4,3709.1 2645.4,3709.0 2646.4,3708.8 2647.4,3708.7 2648.4,3708.6 2649.4,3708.6 2650.4,3708.6 2651.4,3708.6 2652.4,3708.7 2653.4,3708.8 2654.4,3708.9 2655.4,3709.0 2656.4,3709.1 2657.4,3709.3 2658.4,3709.4 2659.4,3709.6 2660.4,3709.8 2661.4,3709.9 2662.4,3710.1 2663.4,3710.2 2664.4,3710.4 2665.4,3710.5 2666.4,3710.6 2667.4,3710.7 2668.4,3710.8 2669.4,3710.8 2670.4,3710.9 2671.4,3710.9 2672.4,3710.9 2673.4,3710.8 2674.4,3710.8 2675.4,3710.7 2676.4,3710.6 2677.4,3710.5 2678.4,3710.4 2679.4,3710.2 2680.4,3710.1 2681.4,3709.9 2682.4,3709.8 2683.4,3709.6 2684.4,3709.4 2685.4,3709.2 2686.4,3709.1 2687.4,3708.9 2688.4,3708.8 2689.4,3708.7 2690.4,3708.6 2691.4,3708.6 2692.4,3708.5 2693.4,3708.5 2694.4,3708.6 2695.4,3708.6 2696.4,3708.7 2697.4,3708.8 2698.4,3708.9 2699.4,3709.0 2700.4,3709.2 2701.4,3709.4 2702.4,3709.5 2703.4,3709.7 2704.4,3709.9 2705.4,3710.0 2706.4,3710.2 2707.4,3710.4 2708.4,3710.5 2709.4,3710.6 2710.4,3710.8 2711.4,3710.9 2712.4,3711.0 2713.4,3711.1 2714.4,3711.1 2715.4,3711.2 2716.4,3711.3 2717.4,3711.3 2718.4,3711.3 2719.4,3711.4 2720.4,3711.4 2721.4,3711.4 2722.4,3711.4 2723.4,3711.4 2724.4,3711.4 2725.4,3711.4 2726.4,3711.4 2727.4,3711.5 2728.4,3711.5 2729.4,3711.5 2730.4,3711.5 2731.4,3711.5 2732.4,3711.5 2733.4,3711.4 2734.4,3711.4 2735.4,3711.4 2736.4,3711.4 2737.4,3711.4 2738.4,3711.4 2739.4,3711.4 2740.4,3711.4 2741.4,3711.4 2742.4,3711.4 2743.4,3711.4 2744.4,3711.4 2745.4,3711.4 2746.4,3711.4 2747.4,3711.4 2748.4,3711.4 2749.4,3711.4 2750.4,3711.4 2751.4,3711.4 2752.4,3711.4 2753.4,3711.4 2754.4,3711.4 2755.4,3711.4 2756.4,3711.4 2757.4,3711.4 2758.4,3711.4 2759.4,3711.4 2760.4,3711.3 2761.4,3711.3 2762.4,3711.3 2763.4,3711.3 2764.4,3711.2 2765.4,3711.2 2766.4,3711.2 2767.4,3711.1 2768.4,3711.0 2769.4,3711.0 2770.4,3710.9 2771.4,3710.8 2772.4,3710.7 2773.4,3710.6 2774.4,3710.5 2775.4,3710.4 2776.4,3710.3 2777.4,3710.2 2778.4,3710.1 2779.4,3709.9 2780.4,3709.8 2781.4,3709.7 2782.4,3709.6 2783.4,3709.5 2784.4,3709.5 2785.4,3709.4 2786.4,3709.4 2787.4,3709.3 2788.4,3709.3 2789.4,3709.4 2790.4,3709.4 2791.4,3709.4 2792.4,3709.5 2793.4,3709.6 2794.4,3709.7 2795.4,3709.8 2796.4,3709.9 2797.4,3710.0 2798.4,3710.1 2799.4,3710.2 2800.4,3710.3 2801.4,3710.4 2802.4,3710.5 2803.4,3710.6 2804.4,3710.7 2805.4,3710.8 2806.4,3710.9 2807.4,3710.9 2808.4,3711.0 2809.4,3711.1 2810.4,3711.1 2811.4,3711.1 2812.4,3711.2 2813.4,3711.2 2814.4,3711.2 2815.4,3711.2 2816.4,3711.2 2817.4,3711.2 2818.4,3711.2 2819.4,3711.2 2820.4,3711.3 2821.4,3711.3 2822.4,3711.3 2823.4,3711.3 2824.4,3711.3 2825.4,3711.3 2826.4,3711.3 2827.4,3711.3 2828.4,3711.3 2829.4,3711.2 2830.4,3711.2 2831.4,3711.2 2832.4,3711.2 2833.4,3711.2 2834.4,3711.2 2835.4,3711.2 2836.4,3711.2 2837.4,3711.2 2838.4,3711.2 2839.4,3711.2 2840.4,3711.2 2841.4,3711.2 2842.4,3711.2 2843.4,3711.2 2844.4,3711.2 2845.4,3711.2 2846.4,3711.2 2847.4,3711.2 2848.4,3711.2 2849.4,3711.2 2850.4,3711.2 2851.4,3711.2 2852.4,3711.2 2853.4,3711.2 2854.4,3711.2 2855.4,3711.2 2856.4,3711.2 2857.4,3711.2 2858.4,3711.2 2859.4,3711.2 2860.4,3711.2 2861.4,3711.2 2862.4,3711.2 2863.4,3711.2 2864.4,3711.2 2865.4,3711.2 2866.4,3711.2 2867.4,3711.2 2868.4,3711.2 2869.4,3711.2 2870.4,3711.2 2871.4,3711.2 2872.4,3711.2 2873.4,3711.2 2874.4,3711.2 2875.4,3711.2 2876.4,3711.1 2877.4,3711.1 2878.4,3711.1 2879.4,3711.1 2880.4,3711.1 2881.4,3711.1 2882.4,3711.1 2883.4,3711.1 2884.4,3711.1 2885.4,3711.1 2886.4,3711.1 2887.4,3711.1 2888.4,3711.1 2889.4,3711.1 2890.4,3711.1 2891.4,3711.1 2892.4,3711.1 2893.4,3711.1 2894.4,3711.1 2895.4,3711.1 2896.4,3711.1 2897.4,3711.1 2898.4,3711.1 2899.4,3711.1 2900.4,3711.1 2901.4,3711.1 2902.4,3711.1 2903.4,3711.1 2904.4,3711.1 2905.4,3711.1 2906.4,3711.1 2907.4,3711.1 2908.4,3711.1 2909.4,3711.1 2910.4,3711.1 2911.4,3711.1 2912.4,3711.1 2913.4,3711.1 2914.4,3711.1 2915.4,3711.1 2916.4,3711.1 2917.4,3711.1 2918.4,3711.1 2919.4,3711.1 2920.4,3711.1 2921.4,3711.1 2922.4,3711.1 2923.4,3711.0 2924.4,3711.0 2925.4,3711.0 2926.4,3711.0 2927.4,3711.0 2928.4,3711.0 2929.4,3711.0 2930.4,3711.0 2931.4,3711.0 2932.4,3711.0 2933.4,3711.0 2934.4,3711.0 2935.4,3711.0 2936.4,3711.0 2937.4,3711.0 2938.4,3711.0 2939.4,3711.0 2940.4,3711.0 2941.4,3711.0 2942.4,3711.0 2943.4,3711.0 2944.4,3711.0 2945.4,3711.0 2946.4,3711.0" fill="none" stroke="#7B0A0A" stroke-width="4.3" stroke-linejoin="round"/>
<line x1="1362.3" y1="4032" x2="1505" y2="3709" stroke="#A0A0A0" stroke-width="3" stroke-dasharray="12,9"/>
<line x1="2353" y1="4024" x2="2507" y2="3695" stroke="#A0A0A0" stroke-width="3" stroke-dasharray="12,9"/>
<text x="1666" y="3551" font-size="52" text-anchor="middle">Geraniol</text>
<line x1="1575.5" y1="3576" x2="1521.6" y2="3636.3" stroke="#000" stroke-width="4"/>
<polygon points="1512,3647 1520.5,3622.4 1523.5,3634.1 1535.5,3635.8" fill="#000"/>
<text x="2781.4" y="3450" font-size="52" text-anchor="middle">10-hydroxygeraniol</text>
<line x1="2576" y1="3489.5" x2="2518.6" y2="3582.7" stroke="#000" stroke-width="4"/>
<polygon points="2511,3595 2515.1,3569.3 2520.1,3580.3 2532.1,3579.8" fill="#000"/>
<text x="2982" y="3723" font-size="51">RcG10H + geraniol</text>
<text x="2923" y="3877.8" font-size="51">Vector + geraniol</text>
<text x="2866.7" y="4020.8" font-size="51">Standard</text>
</svg></body></html>
